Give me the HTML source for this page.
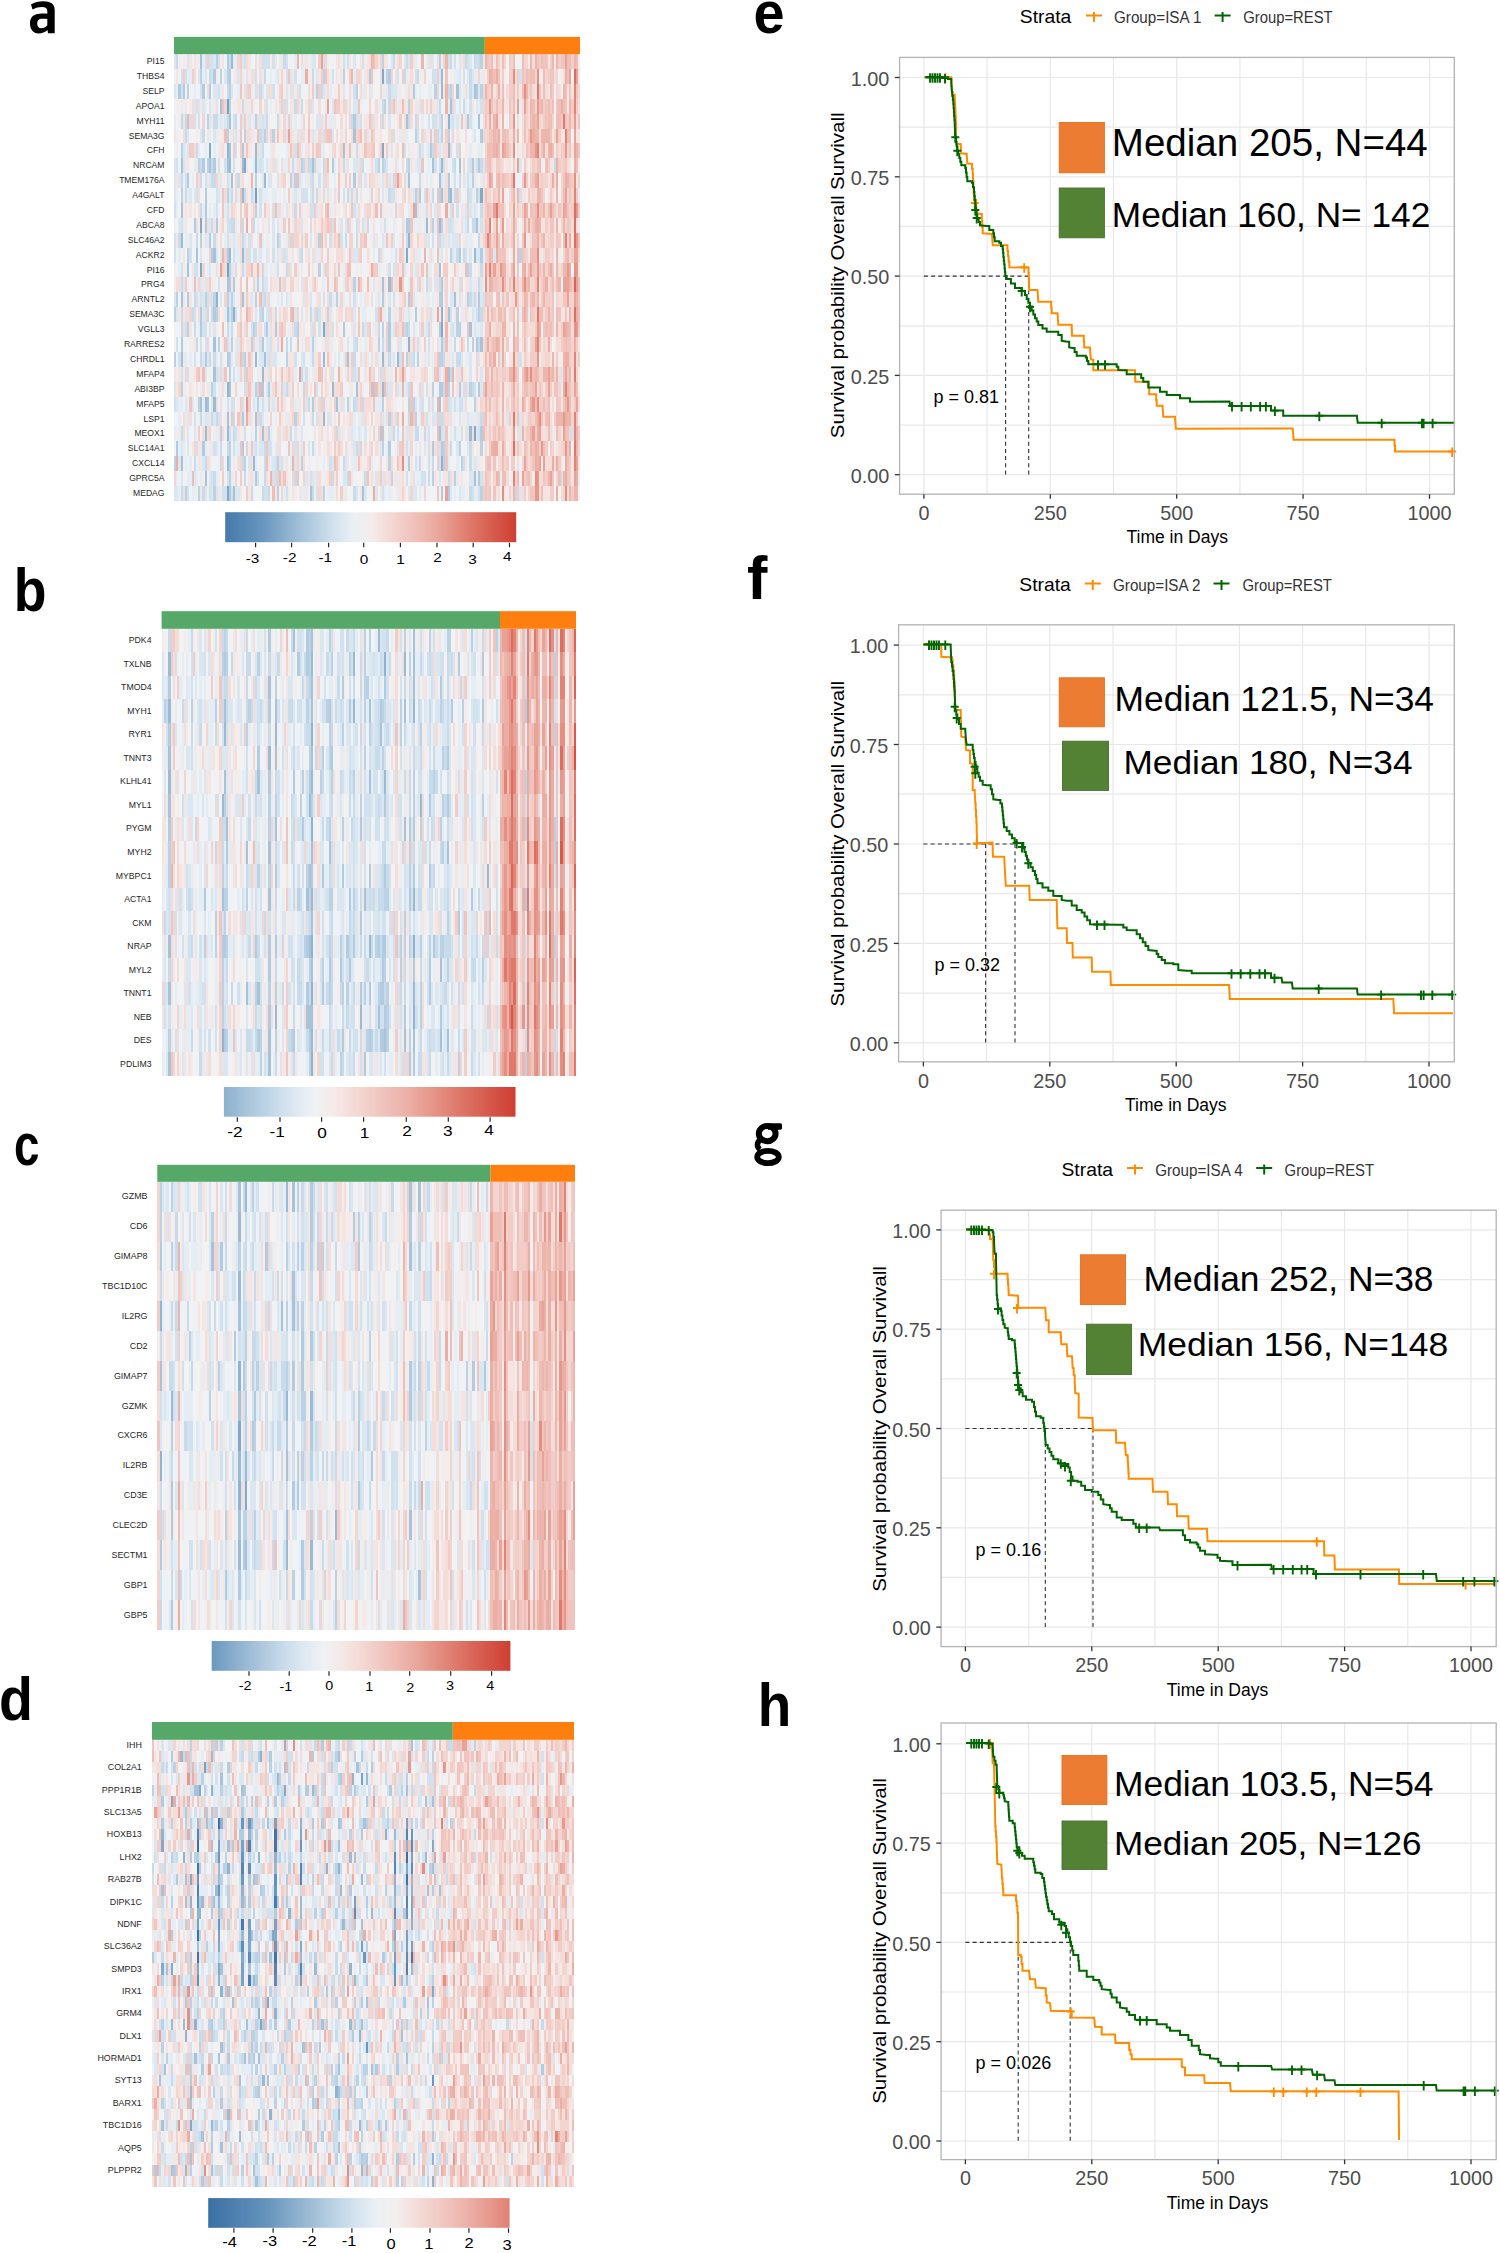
<!DOCTYPE html>
<html><head><meta charset="utf-8"><title>Figure</title>
<style>html,body{margin:0;padding:0;background:#fff;}body{width:1500px;height:2253px;overflow:hidden;}svg{display:block;}text{font-family:"Liberation Sans",sans-serif;}</style>
</head><body>
<svg width="1500" height="2253" viewBox="0 0 1500 2253" font-family="Liberation Sans, sans-serif">
<rect width="1500" height="2253" fill="#fff"/>
<g shape-rendering="crispEdges" fill="none" stroke-width="1">
<g transform="translate(174 54.1) scale(2.1887 14.8933)">
<path stroke="#77a1c5" d="M24 3.5h1M37 9.5h1M24 14.5h1"/>
<path stroke="#82a9ca" d="M95 1.5h1M16 6.5h1m78 0h1M32 7.5h1M140 9.5h1M12 11.5h1M106 13.5h1M12 14.5h1M68 18.5h1m53 0h1M137 25.5h1M24 29.5h1"/>
<path stroke="#90b3d0" d="M125 4.5h1M24 6.5h1M107 12.5h1M19 16.5h1M27 17.5h1m94 0h1M107 19.5h1M24 22.5h1M122 27.5h1"/>
<path stroke="#9bbbd5" d="M26 0.5h1M122 1.5h1M122 2.5h1M37 6.5h1m87 0h1M25 7.5h1m5 0h1m5 0h1m84 0h1M41 8.5h1M31 9.5h1m94 0h1M115 11.5h1m5 0h1M3 12.5h1M25 13.5h1m5 0h1m105 0h1M98 15.5h1M37 20.5h1m30 0h1m26 0h1m6 0h1M40 21.5h1M72 22.5h1m22 0h1M14 23.5h1m3 0h1M68 24.5h1M14 25.5h1m9 0h1m110 0h1M24 27.5h1m11 0h1"/>
<path stroke="#a6c3da" d="M12 0.5h1M129 2.5h1m7 0h1M21 3.5h1m104 0h1M25 4.5h1m80 0h1m32 0h1M82 5.5h1M25 6.5h1m51 0h1M3 7.5h1m12 0h1m7 0h1m38 0h1m54 0h1m11 0h1M26 8.5h1m80 0h1m13 0h1M122 9.5h1m2 0h1M3 10.5h1m106 0h1M138 11.5h1M10 13.5h1m7 0h1M6 14.5h1m114 0h1M24 15.5h1m70 0h1M3 16.5h1m27 0h1m96 0h1M24 17.5h1m100 0h1M135 18.5h1M18 19.5h1m121 0h1M3 20.5h1m37 0h1m37 0h1M18 21.5h1m106 0h1M25 22.5h1m57 0h1M12 23.5h1m2 0h1m58 0h1m46 0h1M24 24.5h1m12 0h1M40 25.5h1m80 0h1M3 27.5h1M14 28.5h1m122 0h1M27 29.5h1m34 0h1m23 0h1"/>
<path stroke="#b1cbe0" d="M24 0.5h1M18 1.5h1m6 0h1m63 0h1m8 0h1M2 2.5h1m1 0h1m8 0h1m2 0h1m92 0h1m28 0h1M6 4.5h1m75 0h1m51 0h1M140 5.5h1M31 6.5h1m85 0h1M13 7.5h1m4 0h1m53 0h1m63 0h1m2 0h1M6 8.5h1m75 0h1m42 0h1M14 9.5h1m97 0h1M14 10.5h1M9 11.5h1m4 0h1m4 0h1m86 0h2M16 12.5h1M17 13.5h1m6 0h1m105 0h1m9 0h1M25 15.5h1m1 0h1m94 0h1M6 16.5h1m88 0h1m11 0h1m13 0h2m16 0h1M12 17.5h1m5 0h1m91 0h1M12 18.5h1m29 0h1m3 0h1m30 0h1m20 0h1m22 0h1M3 19.5h1m36 0h1m57 0h1m23 0h1m15 0h1M14 20.5h1m9 0h1M40 22.5h1m2 0h1m47 0h1m29 0h2m7 0h1m8 0h1M63 23.5h1M31 24.5h1M95 25.5h1m44 0h1M1 26.5h1m11 0h1m17 0h1m66 0h1m19 0h1m3 0h1M107 27.5h1M37 28.5h1m101 0h1M25 29.5h1m96 0h1m2 0h1"/>
<path stroke="#bbd2e4" d="M19 0.5h1m75 0h1m25 0h1m18 0h1M12 1.5h1m8 0h1m2 0h1m43 0h1m8 0h1m19 0h1M6 2.5h1m18 0h1m39 0h1m17 0h1m35 0h1m6 0h1m13 0h1M25 3.5h1m70 0h1m10 0h1M15 4.5h1m21 0h1m84 0h1M24 5.5h1m7 0h1m8 0h1m3 0h1m64 0h1m11 0h1m2 0h1M3 6.5h1M11 7.5h1m3 0h1m42 0h1m34 0h1m1 0h1m11 0h1M37 8.5h1m15 0h1m1 0h1m80 0h1M3 9.5h1m20 0h1m85 0h1m10 0h1m16 0h1M37 10.5h1m8 0h1M118 11.5h1m3 0h1M12 12.5h1m34 0h1m18 0h1M6 13.5h1m119 0h1M25 14.5h1m40 0h1m67 0h1M38 15.5h1m43 0h1M1 16.5h1m12 0h1m3 0h1m5 0h1m1 0h1m10 0h1m36 0h1m59 0h1M0 17.5h1m18 0h1m6 0h1m13 0h1m57 0h1m30 0h1m9 0h1M6 18.5h1m29 0h1m19 0h1m38 0h1m10 0h1m22 0h2M20 19.5h1m5 0h1m8 0h1m27 0h1m29 0h1m42 0h1M0 20.5h1m24 0h1m6 0h1m18 0h1m54 0h1m4 0h1m9 0h2M25 21.5h1M3 22.5h1m13 0h1m19 0h1m80 0h1m6 0h1m9 0h1M11 23.5h1m26 0h1m40 0h1m15 0h1m11 0h1m1 0h1m27 0h1M55 24.5h1m42 0h1m11 0h1M21 25.5h1m15 0h1m5 0h1M25 26.5h1m69 0h1m27 0h1m6 0h1m9 0h1M0 27.5h1m24 0h1m6 0h1m14 0h1m10 0h1m39 0h1m24 0h1m7 0h1M25 28.5h1m92 0h1m9 0h1M5 29.5h1m5 0h1m6 0h1m28 0h1m20 0h1m71 0h1"/>
<path stroke="#c7dbea" d="M1 0.5h1m23 0h1m24 0h1m49 0h1m5 0h1m19 0h1m6 0h1m3 0h1m1 0h1M16 1.5h1m24 0h1m21 0h1m41 0h1m5 0h1m23 0h1M24 2.5h1m14 0h1m27 0h1m30 0h1m26 0h1m9 0h1M31 3.5h1m17 0h1m5 0h1m2 0h1m36 0h1m2 0h1m22 0h1m10 0h1M3 4.5h1m14 0h2m4 0h1m3 0h1m13 0h1m4 0h1m33 0h1m13 0h1m11 0h1m2 0h1M5 5.5h1m7 0h1m25 0h1m80 0h1M10 6.5h1m29 0h1m42 0h1m28 0h1m5 0h1M12 7.5h1m4 0h1m36 0h1m4 0h1m1 0h2m1 0h1m3 0h1m8 0h1m8 0h1m9 0h1m9 0h1m21 0h1m11 0h1M3 8.5h1m8 0h1m4 0h2m10 0h1m33 0h1m36 0h1m11 0h1m17 0h1M5 9.5h1m20 0h1m5 0h1m2 0h1m27 0h1m1 0h1m13 0h1m1 0h1m1 0h1m14 0h1m19 0h1m9 0h1m5 0h1M12 10.5h1m42 0h1m84 0h1M17 11.5h1m8 0h2m3 0h1m4 0h1m42 0h1m8 0h1m45 0h1m1 0h2M2 12.5h1m7 0h1m7 0h1m12 0h1m21 0h1m24 0h1m4 0h1m22 0h1m14 0h1m17 0h1M58 13.5h1m34 0h1m35 0h1m2 0h1M31 14.5h1m8 0h1m10 0h1m83 0h1m4 0h1M3 15.5h1m36 0h1m74 0h1m5 0h1m17 0h1M9 16.5h1m31 0h1m29 0h1m63 0h1m1 0h1M3 17.5h1m4 0h1m8 0h1m21 0h1m6 0h1m15 0h1m2 0h1m74 0h1M3 18.5h1m5 0h1m14 0h1m1 0h1m10 0h1m17 0h1m30 0h1m6 0h1m11 0h1m1 0h1m8 0h1M10 19.5h1m40 0h1m1 0h1m29 0h1m11 0h1m32 0h1m5 0h1m4 0h1M12 20.5h1m3 0h1m1 0h1m12 0h1m31 0h1m18 0h1m15 0h1m10 0h1m13 0h1m5 0h2M32 21.5h1m25 0h1m67 0h1M38 22.5h1m12 0h1m7 0h1m47 0h1m15 0h1m12 0h1M43 23.5h1m17 0h1m6 0h1m13 0h1m3 0h1M12 24.5h1m4 0h1m1 0h1m7 0h1m11 0h1m23 0h1m43 0h1m13 0h2m17 0h1M3 25.5h1m23 0h1m25 0h1m20 0h1m18 0h1m6 0h1m9 0h2m2 0h1M21 26.5h1m2 0h1m16 0h1m21 0h1m19 0h1m1 0h1m40 0h1m8 0h1M9 27.5h1m4 0h1m6 0h1m9 0h1m9 0h1m35 0h1m34 0h1m5 0h1m16 0h1M18 28.5h1m13 0h1m8 0h1m5 0h1m7 0h1m16 0h1m6 0h1m7 0h1m28 0h1m8 0h1M3 29.5h1m9 0h1m21 0h1m4 0h1m2 0h1m19 0h1m18 0h1m52 0h1"/>
<path stroke="#d1e1ee" d="M14 0.5h1m1 0h2m2 0h1m11 0h1m7 0h4m1 0h1m5 0h1m16 0h1m8 0h1m1 0h1m6 0h1m38 0h1m2 0h1m5 0h1m3 0h1M3 1.5h1m1 0h1m11 0h1m19 0h1m13 0h1m3 0h1m16 0h1m29 0h1m7 0h1m7 0h2m12 0h1M3 2.5h1m8 0h1m7 0h1m16 0h1m7 0h1m11 0h1m24 0h1M10 3.5h1m31 0h1m8 0h1m10 0h1m72 0h1m4 0h1M9 4.5h1m1 0h1m15 0h1m12 0h1m42 0h1m1 0h1m30 0h1m1 0h2m1 0h1m5 0h1m7 0h1M40 5.5h1m27 0h1m31 0h1m10 0h1M28 6.5h1m26 0h1m49 0h1m23 0h1M1 7.5h1m18 0h1m2 0h1m3 0h1m11 0h1m52 0h1m26 0h1m1 0h1m1 0h1m3 0h1m7 0h1m2 0h1M5 8.5h1m8 0h1m9 0h1m37 0h1m3 0h1m1 0h1m16 0h1m42 0h1m5 0h1M10 9.5h1m8 0h1m19 0h1m18 0h3m7 0h1m8 0h1m21 0h2m13 0h1m20 0h1m3 0h1M0 10.5h1m18 0h1m4 0h1m14 0h1m22 0h2m18 0h1m43 0h1m2 0h1M3 11.5h1m20 0h2m46 0h1m10 0h1m2 0h1m9 0h1m28 0h2m13 0h1M0 12.5h1m23 0h1m9 0h1m13 0h1m22 0h1m4 0h1m41 0h1M0 13.5h1m6 0h1m19 0h1m6 0h1m1 0h2m7 0h1m4 0h1m6 0h1m43 0h1m31 0h1M3 14.5h1m5 0h2m36 0h1m50 0h1m1 0h1M20 15.5h1m90 0h1m18 0h1M10 16.5h1m1 0h1m2 0h1m1 0h1m22 0h1m2 0h1m24 0h1m13 0h1m17 0h1m40 0h1M9 17.5h1m4 0h1m10 0h1m2 0h1m14 0h1m22 0h1m25 0h1m24 0h1m8 0h1m11 0h1M5 18.5h1m7 0h2m20 0h1m5 0h1m21 0h1m2 0h1m2 0h1m2 0h1m54 0h1M1 19.5h1m10 0h1m1 0h1m9 0h1m14 0h1m4 0h1m2 0h1m34 0h1m28 0h1m4 0h1m6 0h1M2 20.5h1m6 0h1m11 0h1m21 0h1m11 0h1m3 0h1m43 0h1m4 0h1M3 21.5h1m2 0h1m12 0h1m7 0h1m32 0h1m11 0h1m9 0h1m12 0h1M18 22.5h1m13 0h1m32 0h1m31 0h1m14 0h1m2 0h1m16 0h1m4 0h1M0 23.5h1m23 0h1m1 0h2m3 0h1m8 0h1m42 0h1m29 0h1m2 0h1m1 0h1m6 0h1m2 0h1m1 0h2M9 24.5h1m10 0h1m38 0h1m5 0h1m35 0h1m13 0h1M25 25.5h1m2 0h1m3 0h1m69 0h1m13 0h1m5 0h1m5 0h1m2 0h1m7 0h1M10 26.5h1m7 0h1m8 0h1m9 0h1m5 0h2m10 0h1m50 0h1m9 0h1m4 0h1M46 27.5h1m2 0h1m21 0h1m38 0h1m5 0h1m4 0h1m10 0h1M17 28.5h1m6 0h1m13 0h1m6 0h1m16 0h1m43 0h1m6 0h2m25 0h1M6 29.5h1m9 0h1m5 0h2m2 0h1m14 0h2m8 0h1m13 0h1m29 0h1m40 0h1m2 0h1"/>
<path stroke="#dae7f1" d="M0 0.5h1m5 0h1m11 0h1m12 0h1m5 0h1m25 0h2m17 0h1m16 0h1m5 0h1m1 0h1m8 0h1m1 0h1m11 0h1m4 0h1M11 1.5h1m2 0h1m8 0h1m5 0h1m17 0h1m5 0h1m11 0h1m55 0h1m8 0h1m3 0h1m1 0h1M0 2.5h1m17 0h2m6 0h1m5 0h1m7 0h1m1 0h1m8 0h1m1 0h1m14 0h1m8 0h1m11 0h1m9 0h3m28 0h1m5 0h1m2 0h1M9 3.5h1m3 0h1m2 0h1m55 0h1m9 0h2m28 0h1m7 0h1m7 0h1m1 0h1m7 0h1M4 4.5h1m11 0h1m4 0h1m1 0h1m7 0h1m2 0h1m4 0h1m1 0h1m11 0h1m11 0h2m24 0h1m6 0h1m27 0h1m2 0h1M6 5.5h1m5 0h1m5 0h1m8 0h1m23 0h1m5 0h1m5 0h1m8 0h1m15 0h1m32 0h1m15 0h1M4 6.5h1m1 0h1m32 0h1m73 0h1m2 0h1m4 0h1M0 7.5h1m3 0h1m33 0h1m1 0h1m1 0h1m3 0h1m32 0h1m2 0h3m12 0h1m13 0h2m21 0h1m6 0h1M0 8.5h1m1 0h1m13 0h1m4 0h1m18 0h1m2 0h2m2 0h1m9 0h1m29 0h1m7 0h1m2 0h1m23 0h1M0 9.5h1m6 0h1m1 0h1m10 0h1m4 0h1m10 0h1m18 0h1m6 0h1m32 0h1m13 0h1m20 0h1M51 10.5h1m13 0h1m53 0h1m13 0h1m1 0h1m1 0h1M2 11.5h1m13 0h1m26 0h1m1 0h1m1 0h1m10 0h1m17 0h1m50 0h1m5 0h1M7 12.5h1m6 0h1m12 0h1m4 0h1m12 0h1m16 0h1m28 0h1m3 0h1m4 0h1m14 0h2m5 0h2m1 0h1m1 0h3M12 13.5h1m6 0h1m1 0h1m10 0h1m6 0h1m2 0h1m4 0h1m3 0h1m12 0h1m17 0h2m38 0h1m4 0h1m7 0h1m2 0h2M16 14.5h1m2 0h1m6 0h1m26 0h1m14 0h1m36 0h1m4 0h1M4 15.5h1m7 0h1m1 0h1m26 0h2m6 0h1m8 0h1m32 0h1m24 0h1m2 0h1m15 0h1m4 0h1M0 16.5h1m12 0h1m7 0h1m3 0h1m1 0h1m7 0h1m13 0h1m1 0h1m7 0h1m2 0h1m30 0h1m4 0h1m10 0h1m16 0h2m2 0h1m5 0h1m3 0h1M1 17.5h1m4 0h1m6 0h1m23 0h1m4 0h1m12 0h1m2 0h1m10 0h1m1 0h1m10 0h1m24 0h1m28 0h1M16 18.5h1m1 0h1m63 0h1m4 0h1m12 0h1m8 0h1m2 0h1m2 0h1m10 0h1m10 0h1m2 0h1M29 19.5h1m12 0h2m35 0h1m23 0h1M13 20.5h1m1 0h1m12 0h1m10 0h2m1 0h1m2 0h2m11 0h1m16 0h1m14 0h1m9 0h1m15 0h1m10 0h1m3 0h1m3 0h1m3 0h1M14 21.5h1m5 0h1m1 0h1m20 0h1m39 0h1m9 0h1m27 0h1m8 0h1m4 0h1m4 0h1M0 22.5h1m41 0h1m7 0h1m47 0h1m3 0h1m3 0h1m27 0h1m5 0h1M1 23.5h1m3 0h1m2 0h1m8 0h1m18 0h1m8 0h1m14 0h1m16 0h1m32 0h1m1 0h1m13 0h1M6 24.5h1m7 0h2m2 0h1m21 0h1m30 0h1m14 0h1m8 0h1m22 0h2m6 0h1m3 0h1m3 0h1m4 0h1M6 25.5h1m2 0h1m45 0h1m2 0h1m22 0h1m2 0h1m2 0h1m10 0h1m7 0h1m16 0h1m10 0h1m3 0h1M3 26.5h1m2 0h1m12 0h1m16 0h1m2 0h2m6 0h1m10 0h1m2 0h1m20 0h1m11 0h1m7 0h1m11 0h1m14 0h1m4 0h1M2 27.5h1m10 0h1m20 0h1m10 0h1m9 0h1m16 0h1m5 0h1m58 0h1M3 28.5h1m5 0h1m6 0h1m43 0h1m2 0h1m1 0h1m11 0h2m13 0h1m2 0h1m2 0h1m10 0h1m11 0h1m13 0h2M0 29.5h2m12 0h1m2 0h1m1 0h1m8 0h2m53 0h1m3 0h1m4 0h1m14 0h1m1 0h2m15 0h1m3 0h1"/>
<path stroke="#e5edf4" d="M13 0.5h1m13 0h2m19 0h1m6 0h1m3 0h1m2 0h1m15 0h1m31 0h1m4 0h1m6 0h1M6 1.5h2m5 0h1m17 0h1m2 0h1m5 0h1m3 0h1m1 0h1m11 0h2m22 0h1m13 0h1m9 0h1m21 0h2m7 0h2m1 0h1M1 2.5h1m7 0h1m11 0h1m7 0h1m5 0h1m19 0h1m8 0h1m6 0h1m14 0h1m8 0h2m5 0h1m3 0h1m3 0h1m1 0h1m3 0h2m14 0h1m1 0h1M3 3.5h1m8 0h1m1 0h1m3 0h1m15 0h1m9 0h1m34 0h1m13 0h1m8 0h1m8 0h1m4 0h1m8 0h1m7 0h1m5 0h1M0 4.5h1m19 0h1m1 0h1m13 0h1m14 0h1m3 0h1m2 0h1m9 0h1m2 0h2m40 0h1m14 0h1m1 0h1m1 0h1m3 0h1M16 5.5h1m2 0h1m5 0h1m3 0h1m6 0h1m6 0h1m11 0h1m9 0h1m37 0h1m2 0h1m8 0h2m1 0h1m17 0h1M5 6.5h1m5 0h1m2 0h1m3 0h1m1 0h1m23 0h1m6 0h1m6 0h1m8 0h2m12 0h1m16 0h1m8 0h1m7 0h1m6 0h1m12 0h1m3 0h2M9 7.5h1m26 0h1m6 0h1m3 0h1m2 0h2m3 0h1m10 0h1m6 0h1m17 0h1m10 0h1m7 0h1m5 0h1M8 8.5h1m16 0h1m32 0h1m1 0h1m12 0h1m19 0h1m12 0h1m8 0h1m1 0h1m5 0h1m9 0h1m1 0h1m1 0h1m2 0h1M1 9.5h1m4 0h1m14 0h1m7 0h1m10 0h3m2 0h2m3 0h1m3 0h1m1 0h1m14 0h1m2 0h1m14 0h1m7 0h1m19 0h1m9 0h1m8 0h1M1 10.5h1m11 0h1m2 0h1m1 0h1m4 0h1m1 0h1m23 0h1m8 0h1m12 0h1m11 0h1m11 0h1m3 0h1m2 0h1m4 0h1m4 0h3m1 0h1m15 0h1m3 0h1m1 0h1M4 11.5h1m33 0h1m10 0h1m4 0h1m39 0h1m5 0h1m4 0h1m3 0h1m1 0h2m1 0h1m4 0h1m8 0h1m3 0h1m6 0h1M5 12.5h1m9 0h1m7 0h1m2 0h1m1 0h1m9 0h1m1 0h1m1 0h1m8 0h1m5 0h1m38 0h1m29 0h1m5 0h1m1 0h2M2 13.5h1m25 0h2m18 0h1m16 0h1m13 0h1m11 0h1m3 0h1m3 0h1m5 0h1m5 0h2m3 0h1m1 0h1m2 0h1m6 0h1m12 0h1M2 14.5h1m12 0h1m11 0h1m4 0h1m9 0h1m1 0h1m1 0h1m11 0h1m15 0h1m2 0h1m15 0h1m15 0h1m6 0h2M8 15.5h1m1 0h1m6 0h1m19 0h1m9 0h1m20 0h1m8 0h1m5 0h1m16 0h1m6 0h1m28 0h2M32 16.5h1m14 0h1m4 0h1m19 0h1m4 0h1m5 0h1m1 0h1m6 0h1m22 0h2m1 0h1M23 17.5h1m39 0h1m22 0h2m8 0h1m3 0h1m1 0h1m2 0h2m11 0h1m13 0h1m4 0h1M11 18.5h1m13 0h1m5 0h1m11 0h1m9 0h1m37 0h1m7 0h1m14 0h1m13 0h1m9 0h2M25 19.5h1m11 0h1m20 0h1m3 0h1m1 0h1m3 0h1m2 0h1m15 0h1m8 0h1m24 0h1m4 0h1M5 20.5h1m1 0h1m11 0h1m6 0h1m35 0h1m10 0h1m3 0h1m8 0h1m6 0h1m3 0h1m17 0h1m2 0h1m7 0h1m7 0h1M4 21.5h1m24 0h1m8 0h1m16 0h1m3 0h1m3 0h1m4 0h1m9 0h1m19 0h1m19 0h1m9 0h1M12 22.5h1m3 0h1m3 0h2m14 0h1m7 0h1m3 0h1m4 0h1m26 0h1m22 0h1m1 0h1M2 23.5h2m2 0h1m6 0h1m23 0h1m1 0h1m1 0h1m4 0h1m8 0h2m8 0h1m9 0h1m16 0h3m32 0h1m1 0h1m2 0h1M2 24.5h1m10 0h1m11 0h1m6 0h1m13 0h1m4 0h1m30 0h1m1 0h1m11 0h1m15 0h1m3 0h1m15 0h1m2 0h3M0 25.5h1m1 0h1m16 0h1m6 0h1m8 0h1m8 0h1m4 0h1m27 0h1m4 0h1m2 0h1m19 0h1m3 0h1m16 0h1m2 0h1M2 26.5h1m1 0h1m9 0h1m1 0h1m11 0h2m4 0h1m3 0h1m14 0h1m3 0h1m6 0h1m14 0h1m17 0h1m9 0h1m2 0h1M5 27.5h1m1 0h1m4 0h1m14 0h1m9 0h1m6 0h1m5 0h1m2 0h1m14 0h1m12 0h2m7 0h1m15 0h1m4 0h1m13 0h1m3 0h1m6 0h1m2 0h1M1 28.5h1m4 0h2m2 0h1m1 0h1m6 0h1m6 0h1m9 0h1m63 0h1m1 0h1m8 0h2m16 0h1M2 29.5h1m5 0h2m11 0h1m28 0h1m7 0h2m10 0h3m4 0h1m18 0h1m1 0h1m3 0h1m9 0h1m15 0h1m2 0h2m4 0h2"/>
<path stroke="#eef1f6" d="M3 0.5h1m4 0h1m44 0h1m3 0h1m14 0h1m10 0h1m14 0h1m12 0h2m6 0h1m9 0h1m6 0h1M0 1.5h1m1 0h1m17 0h1m5 0h1m5 0h1m5 0h1m4 0h1m1 0h1m10 0h1m16 0h1m4 0h1m7 0h1m5 0h1m7 0h1m14 0h3m7 0h1m1 0h1m3 0h1M8 2.5h1m2 0h1m2 0h1m12 0h2m12 0h1m4 0h1m11 0h2m12 0h1m6 0h1m11 0h1m12 0h1m8 0h2m3 0h1m2 0h1M0 3.5h1m19 0h1m16 0h1m7 0h1m6 0h1m11 0h2m1 0h2m2 0h1m14 0h3m33 0h1m6 0h1M1 4.5h1m10 0h1m1 0h1m11 0h1m2 0h1m16 0h1m9 0h1m5 0h1m1 0h1m12 0h1m1 0h1m17 0h1m11 0h1m2 0h1m1 0h2m21 0h2m1 0h1M2 5.5h1m4 0h1m3 0h1m5 0h1m13 0h1m75 0h1m1 0h1m2 0h1m15 0h1m3 0h1m1 0h1m4 0h1M0 6.5h1m1 0h1m10 0h1m1 0h1m3 0h1m6 0h1m14 0h1m4 0h2m2 0h1m8 0h1m2 0h1m11 0h1m25 0h1m9 0h1m3 0h1m12 0h1m8 0h1M2 7.5h1m4 0h1m6 0h1m13 0h1m5 0h2m5 0h1m32 0h1m13 0h1m9 0h2m15 0h1m1 0h1m7 0h2M7 8.5h1m5 0h1m18 0h1m3 0h1m1 0h1m20 0h1m5 0h1m5 0h1m7 0h1m1 0h1m26 0h1m2 0h1m2 0h1m1 0h1m12 0h1m1 0h1M2 9.5h1m5 0h1m3 0h1m3 0h3m8 0h1m15 0h2m2 0h1m3 0h1m20 0h1m3 0h1m7 0h1m1 0h1m1 0h1m2 0h1m11 0h1m2 0h1m6 0h1m17 0h1M15 10.5h1m4 0h2m9 0h1m8 0h1m3 0h1m41 0h1m6 0h1m6 0h1m4 0h1m12 0h1m3 0h2m4 0h1m1 0h1m8 0h1M6 11.5h1m1 0h1m20 0h1m2 0h1m6 0h1m23 0h1m13 0h1m4 0h1m2 0h1m6 0h1m5 0h1m17 0h1m13 0h1M4 12.5h1m3 0h1m27 0h1m12 0h1m11 0h1m1 0h1m13 0h1m4 0h1m5 0h1m4 0h2m6 0h2m2 0h1m13 0h1m11 0h1m6 0h1M1 13.5h1m1 0h1m4 0h2m3 0h1m6 0h1m14 0h1m4 0h2m2 0h1m17 0h1m5 0h2m16 0h2m4 0h1m3 0h1m1 0h1m1 0h1m12 0h1M1 14.5h1m5 0h1m3 0h1m2 0h1m2 0h1m25 0h1m40 0h1m1 0h2m7 0h2m10 0h1m22 0h1M7 15.5h1m11 0h1m15 0h1m7 0h1m17 0h1m7 0h1m20 0h1m23 0h1m3 0h1m6 0h1m6 0h1M2 16.5h1m2 0h1m2 0h1m19 0h1m16 0h1m2 0h1m6 0h1m7 0h2m13 0h2m1 0h1m4 0h1m10 0h1m4 0h1m8 0h2m12 0h1m6 0h1M29 17.5h1m1 0h1m15 0h1m4 0h1m24 0h1m11 0h1m7 0h1m11 0h1m1 0h1m15 0h1m7 0h1M2 18.5h1m7 0h1m16 0h1m6 0h1m5 0h1m19 0h1m17 0h1m11 0h1m5 0h1m11 0h1m2 0h1m20 0h2M4 19.5h2m10 0h1m2 0h1m21 0h1m8 0h1m1 0h1m2 0h1m1 0h1m22 0h1m19 0h2m15 0h1M1 20.5h1m4 0h1m1 0h1m2 0h1m8 0h1m6 0h1m8 0h1m1 0h1m8 0h2m1 0h1m6 0h1m2 0h1m6 0h1m8 0h1m6 0h1m17 0h1m3 0h1m4 0h1m1 0h1m19 0h1m3 0h2M26 21.5h1m1 0h1m7 0h1m10 0h1m8 0h1m20 0h1m8 0h1m13 0h1m5 0h2m14 0h1m14 0h1M6 22.5h1m12 0h1m6 0h1m2 0h3m34 0h1m10 0h1m4 0h1m4 0h2m11 0h1m8 0h1m4 0h1m4 0h1M4 23.5h1m15 0h1m1 0h2m11 0h1m22 0h1m13 0h1m8 0h1m20 0h1m32 0h1M1 24.5h1m1 0h1m4 0h1m1 0h1m11 0h1m5 0h1m12 0h1m1 0h1m14 0h1m10 0h1m2 0h1m1 0h1m30 0h1m5 0h1m17 0h1M7 25.5h1m4 0h1m4 0h1m18 0h1m1 0h1m6 0h1m8 0h1m4 0h2m2 0h1m7 0h1m6 0h1m4 0h1m2 0h1m1 0h1m12 0h1m1 0h1m8 0h1m4 0h1m1 0h1m5 0h1M5 26.5h1m14 0h1m1 0h1m3 0h1m5 0h1m12 0h1m4 0h2m10 0h1m9 0h1m7 0h1m7 0h1m7 0h1m3 0h1m8 0h1m1 0h1m1 0h1m13 0h1m4 0h1M6 27.5h1m10 0h3m3 0h1m4 0h1m9 0h2m12 0h1m9 0h2m2 0h2m23 0h2m2 0h1m19 0h1m10 0h2m2 0h1m3 0h1M2 28.5h1m2 0h1m9 0h1m5 0h1m1 0h1m5 0h1m1 0h1m1 0h1m6 0h1m12 0h1m22 0h1m5 0h2m23 0h1m9 0h1m4 0h1m9 0h1M7 29.5h1m24 0h1m3 0h1m11 0h1m4 0h1m7 0h1m17 0h1m4 0h1m3 0h2m7 0h1m2 0h1m12 0h1m1 0h2m1 0h1m8 0h1m1 0h1m3 0h1"/>
<path stroke="#f3f2f2" d="M23 0.5h1m11 0h2m10 0h1m4 0h1m1 0h1m10 0h1m5 0h1m1 0h1m7 0h1m2 0h1m19 0h1m9 0h1M10 1.5h1m4 0h1m6 0h1m19 0h1m14 0h1m35 0h1m9 0h1m19 0h1m9 0h1M5 2.5h1m1 0h1m2 0h1m6 0h1m5 0h1m36 0h1m17 0h1m5 0h1m3 0h1m3 0h2m17 0h1m3 0h1m12 0h1M6 3.5h1m8 0h1m10 0h1m11 0h1m1 0h1m2 0h1m15 0h1m21 0h1m8 0h2m31 0h1m7 0h1m2 0h1m2 0h1M44 4.5h2m3 0h1m10 0h1m13 0h2m10 0h1m6 0h1m5 0h1m1 0h1m2 0h1m12 0h1m5 0h1M3 5.5h1m4 0h2m4 0h1m58 0h1m1 0h1m3 0h1m15 0h3m10 0h1m22 0h1m3 0h1m2 0h1M12 6.5h1m4 0h1m11 0h1m12 0h2m4 0h2m19 0h2m21 0h1m10 0h1m2 0h1m21 0h1m2 0h2m4 0h1m3 0h1M8 7.5h1m12 0h2m3 0h1m2 0h1m18 0h1m18 0h1m3 0h1m8 0h2m5 0h1m6 0h1m8 0h1m1 0h1m8 0h1m5 0h1m8 0h1m1 0h1m1 0h1M9 8.5h1m17 0h1m5 0h1m5 0h1m2 0h1m2 0h2m4 0h1m20 0h1m1 0h1m29 0h1m4 0h2m8 0h1m6 0h1m12 0h1M13 9.5h1m1 0h1m33 0h1m11 0h1m16 0h1m8 0h1m6 0h1m24 0h1m12 0h1M2 10.5h1m5 0h1m1 0h1m6 0h1m11 0h1m38 0h1m7 0h1m2 0h1m26 0h1M1 11.5h1m5 0h1m26 0h1m2 0h1m6 0h1m1 0h1m4 0h1m9 0h1m12 0h1m14 0h1m3 0h1m5 0h1m2 0h2m31 0h1M9 12.5h1m1 0h1m5 0h1m2 0h1m1 0h1m14 0h1m3 0h1m2 0h1m25 0h1m8 0h1m37 0h1m19 0h1M5 13.5h1m5 0h1m2 0h1m11 0h1m28 0h1m3 0h1m13 0h1m4 0h1m11 0h1m6 0h1m9 0h1m7 0h1m3 0h1m3 0h1m1 0h1m5 0h1m4 0h1M29 14.5h1m18 0h2m4 0h1m4 0h2m1 0h1m1 0h1m2 0h1m13 0h2m16 0h1m14 0h1m3 0h1m3 0h1m2 0h2m9 0h1m1 0h1M21 15.5h1m9 0h2m1 0h1m22 0h1m8 0h1m8 0h2m10 0h1m17 0h2M20 16.5h1m1 0h1m23 0h1m3 0h1m3 0h1m1 0h2m9 0h1m1 0h1m14 0h1m4 0h1m1 0h1m7 0h1m17 0h1M16 17.5h1m4 0h1m16 0h1m2 0h1m15 0h1m1 0h1m13 0h1m9 0h1m1 0h1m2 0h1m1 0h2m31 0h1m6 0h1M0 18.5h2m6 0h1m6 0h1m4 0h2m1 0h1m4 0h1m22 0h1m9 0h1m3 0h1m7 0h1m2 0h1m2 0h2m13 0h1m23 0h2M0 19.5h1m1 0h1m3 0h1m4 0h1m1 0h1m3 0h1m3 0h1m5 0h1m26 0h1m11 0h1m6 0h2m3 0h1m2 0h1m2 0h1m1 0h1m7 0h1m9 0h2m7 0h1m1 0h1m3 0h1m7 0h1m1 0h1m3 0h1m1 0h1M10 20.5h1m12 0h1m25 0h1m6 0h1m4 0h1m7 0h1m2 0h1m1 0h1m9 0h1m4 0h1M15 21.5h1m1 0h1m6 0h1m12 0h1m7 0h1m16 0h1m7 0h1m2 0h2m10 0h1m6 0h1m23 0h2m18 0h1M9 22.5h1m1 0h1m2 0h1m12 0h1m13 0h1m13 0h1m1 0h1m5 0h1m14 0h2m30 0h1m15 0h1m1 0h1m9 0h1M9 23.5h1m6 0h1m11 0h1m22 0h2m25 0h1m17 0h1m6 0h1m1 0h2m4 0h1m2 0h2m3 0h1m2 0h1m11 0h1m1 0h1M0 24.5h1m35 0h1m8 0h1m1 0h1m12 0h2m2 0h1m11 0h1m6 0h1m5 0h1m1 0h1M8 25.5h1m24 0h2m11 0h1m14 0h2m2 0h1m24 0h1m6 0h1m34 0h1M0 26.5h1m6 0h1m15 0h1m25 0h1m10 0h1m4 0h1m1 0h1m9 0h1m13 0h1m7 0h1m28 0h1m2 0h1m1 0h1m3 0h1M4 27.5h1m3 0h1m17 0h1m6 0h1m6 0h1m19 0h1m3 0h1m4 0h1m6 0h1m3 0h1m15 0h1m12 0h1m4 0h1m4 0h1m8 0h1m12 0h1M4 28.5h1m6 0h1m27 0h1m17 0h2m16 0h1m8 0h2m29 0h1m18 0h1M31 29.5h1m5 0h3m4 0h1m11 0h1m12 0h1m5 0h1m4 0h2m11 0h1m12 0h1m4 0h1m5 0h1m1 0h1m1 0h1m1 0h1"/>
<path stroke="#f4ecea" d="M2 0.5h1m1 0h2m4 0h2m9 0h1m16 0h1m5 0h1m16 0h1m8 0h1m5 0h1m10 0h1m13 0h1m25 0h1M19 1.5h1m7 0h1m20 0h1m1 0h1m10 0h2m1 0h1m6 0h1m3 0h1m3 0h1m11 0h1m15 0h1m1 0h1m2 0h2m12 0h1M31 2.5h1m4 0h1m10 0h1m2 0h1m1 0h1m9 0h1m10 0h2m1 0h1m4 0h1m21 0h1m1 0h1m25 0h1M1 3.5h2m1 0h1m2 0h1m9 0h1m9 0h2m7 0h1m10 0h1m37 0h1m8 0h1m2 0h1m11 0h1m4 0h1M2 4.5h1m7 0h1m24 0h1m7 0h1m10 0h1m2 0h1m5 0h1m6 0h1m29 0h1M1 5.5h1m8 0h1m9 0h2m15 0h1m10 0h1m11 0h1m16 0h1m2 0h1m5 0h1m5 0h2m7 0h2m20 0h1m2 0h1m3 0h1M1 6.5h1m21 0h1m11 0h2m34 0h1m10 0h1m2 0h1m10 0h1m11 0h2m23 0h2m3 0h1M19 7.5h1m33 0h1m35 0h1m10 0h1m8 0h1M4 8.5h1m17 0h2m10 0h1m17 0h1m11 0h1m2 0h1m8 0h2m5 0h1m2 0h1m1 0h1m5 0h1m18 0h1m4 0h1m1 0h1m6 0h1m10 0h1M4 9.5h1m29 0h1m3 0h1m9 0h1m4 0h1m3 0h1m6 0h1m2 0h1m1 0h1m26 0h1m5 0h1m30 0h1m3 0h1M4 10.5h1m1 0h1m27 0h1m3 0h1m11 0h1m2 0h1m2 0h1m2 0h2m11 0h1m1 0h2m9 0h1m4 0h1m5 0h3m26 0h1M0 11.5h1m10 0h1m1 0h1m6 0h1m2 0h1m17 0h2m5 0h1m4 0h1m5 0h2m4 0h1m15 0h1m8 0h1m4 0h1m1 0h1m3 0h1m8 0h1m2 0h1m9 0h1m5 0h1M6 12.5h1m6 0h1m19 0h1m9 0h1m2 0h1m3 0h1m33 0h1m4 0h2m12 0h1m5 0h2m25 0h1M15 13.5h1m22 0h1m7 0h1m5 0h2m17 0h2m16 0h1m12 0h1m31 0h1M0 14.5h1m3 0h2m12 0h1m1 0h1m24 0h1m4 0h1m6 0h1m7 0h1m5 0h2m3 0h1m6 0h1m1 0h1m2 0h1m5 0h1m11 0h1m20 0h1m3 0h2m4 0h1M0 15.5h1m5 0h1m11 0h1m3 0h2m4 0h2m9 0h1m11 0h2m2 0h1m6 0h1m4 0h1m3 0h2m13 0h1m2 0h1m2 0h1m4 0h1m12 0h1m17 0h2m11 0h1M29 16.5h1m6 0h1m1 0h1m5 0h1m13 0h1m14 0h1m1 0h1m18 0h1m6 0h1m4 0h1m3 0h1m2 0h2m4 0h1m3 0h1m5 0h1M10 17.5h1m11 0h1m9 0h1m3 0h1m12 0h1m11 0h1m6 0h1m3 0h1m26 0h1m8 0h1m3 0h1m1 0h1m4 0h1m1 0h1M17 18.5h1m1 0h1m32 0h1m5 0h1m8 0h1m7 0h1m7 0h1m1 0h1m24 0h1m9 0h1m2 0h1m1 0h1m5 0h1m4 0h1m4 0h1M7 19.5h2m23 0h1m13 0h1m12 0h1m5 0h1m1 0h1m4 0h1m4 0h1m7 0h1m2 0h1m2 0h2m6 0h1m6 0h1m18 0h1m11 0h1M17 20.5h1m4 0h1m68 0h1m2 0h1m18 0h1m3 0h1m10 0h1m4 0h1m6 0h1M1 21.5h1m5 0h2m7 0h1m22 0h1m21 0h1m26 0h1m13 0h1m7 0h3m20 0h2m4 0h1m1 0h1M4 22.5h2m2 0h1m14 0h1m34 0h1m2 0h1m6 0h1m2 0h1m14 0h1m24 0h1m4 0h2m2 0h1m10 0h1M10 23.5h1m14 0h1m3 0h1m2 0h1m9 0h1m19 0h1m7 0h1m29 0h2m37 0h1M11 24.5h1m11 0h1m18 0h1m7 0h1m27 0h1m24 0h1m2 0h1m10 0h1m9 0h2m2 0h1m1 0h1M1 25.5h1m3 0h1m4 0h1m7 0h1m4 0h1m6 0h2m24 0h2m10 0h2m22 0h1m3 0h1m16 0h1m4 0h1m8 0h1m2 0h1M15 26.5h1m52 0h2m16 0h1m14 0h1m13 0h1m22 0h2m1 0h1M10 27.5h1m9 0h1m40 0h1m3 0h1m20 0h2m5 0h1m6 0h2m3 0h1m7 0h1m3 0h1m22 0h1M13 28.5h1m6 0h1m6 0h1m15 0h1m8 0h1m14 0h3m16 0h1m2 0h1m1 0h1m13 0h1m4 0h1m9 0h1m9 0h1m2 0h1m4 0h1M10 29.5h1m4 0h1m36 0h1m2 0h1m8 0h1m8 0h1m16 0h1m8 0h1m1 0h1m32 0h1"/>
<path stroke="#f5e5e2" d="M7 0.5h1m1 0h1m12 0h1m11 0h1m11 0h1m2 0h1m10 0h1m13 0h1m5 0h1m4 0h1m2 0h1m4 0h1m2 0h2m11 0h1m21 0h1m9 0h1M1 1.5h1m26 0h1m25 0h1m11 0h1m7 0h1m1 0h1m10 0h1m53 0h1M22 2.5h1m46 0h1m17 0h1m2 0h1m6 0h1m10 0h1m14 0h1M5 3.5h1m23 0h2m1 0h2m12 0h1m6 0h2m2 0h1m2 0h1m8 0h1m6 0h1m26 0h1m1 0h2m3 0h1m7 0h2m16 0h1M17 4.5h1m15 0h1m14 0h1m24 0h1m13 0h2m3 0h1m3 0h1m5 0h1m17 0h1m3 0h1M0 5.5h1m14 0h1m6 0h1m3 0h1m8 0h1m10 0h1m2 0h1m4 0h1m7 0h1m1 0h1m11 0h1m12 0h1m4 0h1m9 0h2m23 0h1M21 6.5h1m10 0h1m1 0h1m10 0h1m6 0h1m7 0h1m3 0h1m10 0h1m2 0h2m4 0h1m1 0h1m6 0h1m7 0h1m9 0h1M5 7.5h2m3 0h1m19 0h1m2 0h1m10 0h1m20 0h1m10 0h1m1 0h1m29 0h1m15 0h1m12 0h1M1 8.5h1m13 0h1m4 0h1m9 0h1m17 0h1m12 0h1m30 0h1m3 0h1m2 0h1M33 9.5h1m32 0h1m13 0h1m1 0h1m2 0h1m6 0h1m8 0h1m6 0h1M5 10.5h1m1 0h1m1 0h1m18 0h1m6 0h1m6 0h2m8 0h1m8 0h1m4 0h1m6 0h1m3 0h1m2 0h1m50 0h1M5 11.5h1m12 0h1m2 0h1m6 0h1m11 0h1m25 0h1m8 0h1m11 0h1m3 0h1M1 12.5h1m17 0h1m5 0h1m3 0h1m29 0h1m4 0h1m3 0h1m3 0h1m19 0h1m5 0h1m13 0h2m10 0h1m8 0h1m6 0h1M4 13.5h1m38 0h1m10 0h1m1 0h1m3 0h1m5 0h1m10 0h1m30 0h1m1 0h1m13 0h1M8 14.5h1m21 0h1m5 0h2m1 0h1m1 0h1m14 0h1m6 0h1m25 0h1m7 0h1m5 0h1m8 0h1m16 0h1m9 0h1m1 0h1M13 15.5h1m12 0h1m18 0h2m9 0h1m8 0h1m14 0h1m12 0h2m1 0h1m5 0h1m6 0h1m3 0h1m9 0h1m2 0h1m6 0h2m3 0h1M4 16.5h1m2 0h1m3 0h1m22 0h1m18 0h1m7 0h1m3 0h1m21 0h2m7 0h1m6 0h1m16 0h1m10 0h1m1 0h1m4 0h1M2 17.5h1m1 0h1m40 0h1m14 0h1m6 0h1m6 0h1m20 0h1m5 0h1m26 0h1m2 0h1m2 0h1M7 18.5h1m30 0h1m6 0h1m1 0h1m9 0h1m1 0h1m21 0h1m10 0h1M9 19.5h1m12 0h1m5 0h1m4 0h2m3 0h1m6 0h1m2 0h1m26 0h1m32 0h1m1 0h1m1 0h1m5 0h1m11 0h1M4 20.5h1m28 0h1m18 0h3m9 0h2m5 0h1m8 0h1m7 0h1m7 0h1m2 0h1m14 0h1m9 0h2M0 21.5h1m1 0h1m6 0h1m2 0h1m18 0h1m9 0h2m5 0h1m1 0h1m13 0h2m10 0h1m3 0h1m6 0h1m9 0h1m1 0h1m8 0h2m22 0h1M1 22.5h1m5 0h1m2 0h1m4 0h1m19 0h1m11 0h1m14 0h1m7 0h1m10 0h1m2 0h1m44 0h1M44 23.5h1m3 0h1m1 0h1m6 0h1m11 0h1m1 0h1m8 0h1m9 0h1m8 0h1m4 0h1m12 0h1m20 0h1M5 24.5h1m10 0h1m18 0h1m13 0h1m2 0h2m3 0h1m4 0h1m4 0h1m5 0h1m3 0h1m1 0h1m5 0h1m2 0h1m3 0h2m6 0h1m37 0h1M20 25.5h1m8 0h1m22 0h1m11 0h1m1 0h1m3 0h1m1 0h1m3 0h1m2 0h2m8 0h1m25 0h1M8 26.5h1m2 0h2m4 0h1m28 0h1m19 0h1m4 0h1m2 0h1m6 0h1m11 0h1m11 0h1m6 0h1m4 0h1m7 0h1m10 0h1M11 27.5h1m4 0h1m26 0h1m7 0h1m5 0h1m12 0h1m4 0h1m3 0h1m3 0h1m1 0h1m11 0h1m10 0h1m24 0h1m4 0h1M34 28.5h1m16 0h1m9 0h1m2 0h1m5 0h1m2 0h1m7 0h1m15 0h1m3 0h1m1 0h1m4 0h1m10 0h1m3 0h2m2 0h1m3 0h1M12 29.5h1m7 0h1m9 0h1m3 0h1m11 0h1m7 0h1m2 0h1m2 0h1m17 0h1m6 0h1m8 0h1m8 0h1m1 0h1"/>
<path stroke="#f4dcd9" d="M33 0.5h1m5 0h1m18 0h1m16 0h1m13 0h1m12 0h1m14 0h1m2 0h1m11 0h1M9 1.5h1m23 0h1m1 0h2m2 0h1m30 0h1m14 0h1m2 0h1m5 0h1m6 0h1m6 0h1M15 2.5h1m22 0h1m4 0h2m9 0h1m1 0h1m4 0h1m8 0h1m9 0h1m4 0h1m21 0h1m25 0h1M8 3.5h1m2 0h1m7 0h1m21 0h1m6 0h1m14 0h1m2 0h1m13 0h1m11 0h1m8 0h1M38 4.5h1m28 0h1m8 0h1m1 0h1m5 0h1m20 0h1m2 0h1m24 0h1m7 0h1M4 5.5h1m23 0h1m4 0h2m18 0h1m2 0h1m1 0h2m7 0h1m6 0h1m6 0h1m16 0h1m15 0h1m18 0h1M9 6.5h1m12 0h1m15 0h1m15 0h1m6 0h1m10 0h1m26 0h1m2 0h1m17 0h1m2 0h2M45 7.5h1m3 0h1m6 0h2m2 0h1m29 0h1m10 0h1m2 0h1M11 8.5h1m19 0h1m17 0h1m4 0h1m15 0h1m19 0h2m32 0h1m7 0h1m8 0h1M11 9.5h1m11 0h1m46 0h1m2 0h1m30 0h1m2 0h1m8 0h1m6 0h2m16 0h1M11 10.5h1m15 0h1m19 0h2m5 0h1m12 0h1m10 0h1m5 0h1m2 0h1m3 0h1m11 0h2m3 0h1m2 0h1m9 0h1m19 0h1M10 11.5h1m4 0h1m40 0h2m6 0h1m3 0h1m9 0h1m5 0h1m19 0h1m19 0h1m6 0h1m9 0h1M21 12.5h1m8 0h1m4 0h1m29 0h1m8 0h1m39 0h1M30 13.5h1m18 0h1m11 0h1m1 0h1m10 0h3m4 0h1m6 0h1m20 0h1m7 0h1M23 14.5h1m54 0h1m22 0h1m9 0h1m7 0h2M1 15.5h2m12 0h1m28 0h1m14 0h1m3 0h1m17 0h1m19 0h1m15 0h1m2 0h1M16 16.5h1m25 0h1m17 0h1m5 0h1m3 0h1m9 0h1m9 0h1m13 0h1M5 17.5h1m5 0h1m8 0h1m14 0h1m12 0h1m2 0h1m23 0h2m2 0h2m23 0h1m8 0h1m1 0h2m16 0h1M4 18.5h1m27 0h1m6 0h1m4 0h1m9 0h1m7 0h1m8 0h1m2 0h1m28 0h1m13 0h1M31 19.5h1m28 0h2m7 0h2m5 0h1m13 0h1m11 0h1m17 0h1m11 0h1m8 0h1M29 20.5h1m5 0h1m8 0h1m40 0h1m1 0h1m4 0h1m26 0h1m21 0h1M51 21.5h1m1 0h2m14 0h1m1 0h1m18 0h1m22 0h1m1 0h1m7 0h1m5 0h1M13 22.5h1m8 0h1m22 0h1m6 0h1m3 0h1m12 0h1m3 0h3m17 0h2m4 0h1m13 0h1M19 23.5h1m1 0h1m31 0h2m9 0h1m11 0h1m7 0h1m2 0h3m7 0h2m34 0h1m7 0h1M4 24.5h1m2 0h1m13 0h1m12 0h1m31 0h1m3 0h1m9 0h2m5 0h1m9 0h1m16 0h1m9 0h2M4 25.5h1m8 0h1m1 0h1m6 0h1m16 0h1m1 0h2m4 0h2m1 0h1m16 0h1m7 0h1m23 0h1m7 0h2m24 0h1m2 0h1M48 26.5h1m21 0h1m5 0h1m1 0h1m8 0h1m1 0h1m2 0h1m26 0h1M15 27.5h1m13 0h1m5 0h1m12 0h1m10 0h1m28 0h1m10 0h1m3 0h1M35 28.5h1m6 0h1m6 0h1m16 0h1m23 0h1m2 0h1m2 0h1m7 0h1m21 0h1m14 0h1M4 29.5h1m62 0h1m6 0h1"/>
<path stroke="#f3d5d0" d="M29 0.5h1m39 0h1m22 0h1m1 0h1m8 0h1m19 0h1M30 1.5h1m18 0h1m33 0h2m14 0h1m14 0h1m24 0h1M33 2.5h1m14 0h1m45 0h1m25 0h1m6 0h1m13 0h1M23 3.5h1m11 0h1m3 0h1m10 0h1m5 0h1m4 0h1m15 0h2m10 0h1m9 0h1m8 0h1m4 0h1m1 0h1m11 0h1m13 0h1M7 4.5h2m4 0h1m36 0h1m8 0h1m20 0h1m9 0h1m3 0h1m16 0h1M42 5.5h1m1 0h1m5 0h1m15 0h1m11 0h1m4 0h1m3 0h1m3 0h1m7 0h1m13 0h1m13 0h1m13 0h1M57 6.5h1m15 0h1m2 0h1m11 0h2m36 0h1M52 7.5h1m16 0h1m5 0h1m9 0h1m46 0h1M19 8.5h1m8 0h1m21 0h1m18 0h1m14 0h1m4 0h1m7 0h1m5 0h1m1 0h1M28 9.5h1m64 0h1m11 0h1m5 0h1M26 10.5h1m9 0h1m8 0h1m42 0h2m25 0h1m1 0h1m2 0h1M22 11.5h1m32 0h1m6 0h1m6 0h1m10 0h1m36 0h1M52 12.5h1m2 0h2m1 0h1m10 0h1m3 0h1m6 0h2m4 0h1m21 0h1m2 0h1m18 0h1m10 0h1M16 13.5h1m6 0h1m9 0h1m33 0h1m16 0h1m9 0h1m9 0h1M13 14.5h1m8 0h1m5 0h1m4 0h2m17 0h1m17 0h1m2 0h1m28 0h1m5 0h1M11 15.5h1m24 0h1m13 0h1m2 0h2m5 0h1m17 0h1m45 0h1m2 0h1m3 0h1M23 16.5h1m52 0h1m47 0h1M7 17.5h1m22 0h1m13 0h1m5 0h1m5 0h1m7 0h1m13 0h1m2 0h1m42 0h1m16 0h1M29 18.5h1m20 0h1m13 0h1m5 0h1m17 0h1m13 0h1M15 19.5h1m20 0h1m52 0h1M107 20.5h1m30 0h1M5 21.5h1m15 0h1m8 0h1m3 0h2m8 0h1m1 0h1m32 0h1m1 0h1m9 0h1m2 0h1m1 0h1m6 0h1m1 0h1m8 0h1m23 0h1M2 22.5h1m25 0h1m4 0h1m26 0h1m6 0h1m17 0h1m15 0h1m31 0h1M66 23.5h1m56 0h1m16 0h1M30 24.5h1m7 0h1m5 0h1m9 0h1m1 0h1m33 0h1m3 0h1m4 0h1m23 0h1M16 25.5h1m34 0h1m21 0h1m17 0h1M9 26.5h1m44 0h1m1 0h1m27 0h1m5 0h1m17 0h1m11 0h1M22 27.5h1m7 0h1m25 0h1m37 0h1M0 28.5h1m27 0h1m17 0h1m7 0h1m4 0h1M49 29.5h1m16 0h1m37 0h1m3 0h1m5 0h1"/>
<path stroke="#f2cdc7" d="M15 0.5h1m14 0h1m35 0h1m41 0h1M4 1.5h1m3 0h1m58 0h1m12 0h1m23 0h1m15 0h1M34 2.5h1m14 0h1m13 0h1m2 0h1m8 0h1M74 3.5h2m41 0h1M5 4.5h1m24 0h1m1 0h1m19 0h1m8 0h1m7 0h1m33 0h1M69 5.5h1m14 0h1m34 0h1m4 0h1M7 6.5h2m18 0h1m2 0h1m32 0h1m2 0h1m23 0h1m3 0h1m2 0h1m21 0h1m10 0h1M10 8.5h1m67 0h1m1 0h1m20 0h1M52 9.5h1m37 0h1m38 0h1M30 10.5h1m1 0h1m8 0h1m15 0h1m6 0h1m36 0h1m25 0h1m6 0h1M30 11.5h1m4 0h1m14 0h1m16 0h1m3 0h1M54 12.5h1m5 0h1m24 0h1m13 0h1m4 0h1m15 0h1M70 13.5h1m14 0h1m17 0h1M55 14.5h1m5 0h1m7 0h1m21 0h2m30 0h2m3 0h1M5 15.5h1m10 0h1m13 0h1m33 0h1m9 0h1m4 0h1m5 0h1m18 0h1m7 0h1M30 16.5h1m2 0h1m71 0h1M15 17.5h1m18 0h1m49 0h1m18 0h1M33 18.5h1m14 0h1m40 0h1m7 0h1m3 0h1m11 0h1M30 19.5h1m66 0h1m11 0h1m4 0h1M66 20.5h1m11 0h1m2 0h1M10 21.5h1m41 0h1M49 22.5h1m4 0h1m21 0h1m12 0h1M30 23.5h1m3 0h1m14 0h1m9 0h1m7 0h1m5 0h1m11 0h1m38 0h1M48 24.5h1m53 0h1m6 0h1m3 0h1m6 0h1m20 0h1M11 25.5h1M33 26.5h1m25 0h1m13 0h1m1 0h1m27 0h1m20 0h1M74 27.5h1m14 0h1m30 0h1M22 28.5h1m7 0h1m40 0h1m2 0h1m19 0h1M33 29.5h1m42 0h1m64 0h1"/>
<path stroke="#f0c5bf" d="M52 1.5h1m16 0h1m20 0h1m33 0h1M30 2.5h1M22 3.5h1m50 0h1m10 0h1m15 0h1M89 4.5h1m41 0h1M30 5.5h1m16 0h1m22 0h2m18 0h1m26 0h1M33 6.5h1m19 0h1m11 0h1m21 0h1m3 0h1M113 7.5h1M75 8.5h1M22 9.5h1m7 0h1m44 0h1m39 0h1m4 0h1M22 10.5h1m10 0h1m35 0h1m11 0h1M52 11.5h1m17 0h1m2 0h1m34 0h1m11 0h1M39 12.5h1m47 0h1m9 0h1M80 13.5h1M75 14.5h1m37 0h1M70 15.5h1m37 0h1M108 16.5h1M70 17.5h1m22 0h1M30 18.5h1m18 0h1m34 0h1m49 0h1M23 19.5h1m107 0h1M34 20.5h1m35 0h1m49 0h1M11 21.5h1m11 0h1m9 0h1m15 0h1m17 0h1m16 0h1m34 0h1m11 0h1M34 22.5h1m11 0h1m17 0h1m43 0h1m18 0h1m13 0h1M7 23.5h1m39 0h1m43 0h1m16 0h1M26 24.5h1m2 0h1m45 0h1M104 25.5h1m19 0h1M30 26.5h1m4 0h1m6 0h1m9 0h1m51 0h1M84 27.5h1m17 0h1m21 0h1M50 28.5h1m5 0h1m23 0h1m7 0h1m10 0h1M120 29.5h1"/>
<path stroke="#efbeb7" d="M91 0.5h1M104 3.5h1M23 5.5h1m14 0h1m22 0h1m23 0h1M56 6.5h1m23 0h1m23 0h1M70 7.5h1M56 8.5h1M92 10.5h1m1 0h1M67 12.5h1m7 0h1M120 13.5h1M35 14.5h1m43 0h2m23 0h1m10 0h1m17 0h1M9 15.5h1m23 0h1m14 0h1m24 0h1m14 0h1m10 0h1M39 16.5h1M53 17.5h1M22 18.5h1m81 0h1M56 19.5h1m67 0h1M30 20.5h1m73 0h1M13 21.5h1m52 0h1m22 0h1m30 0h1M92 22.5h1m3 0h1M120 25.5h1m20 0h1M42 27.5h1m30 0h1M8 28.5h1m39 0h1M45 29.5h1"/>
<path stroke="#edb6ad" d="M56 0.5h1m33 0h1m22 0h1m10 0h1M81 1.5h1M124 2.5h1M124 3.5h1M35 8.5h1M70 10.5h1M22 13.5h1m91 0h1M38 14.5h1M84 15.5h1M33 17.5h1m20 0h1M124 18.5h1M75 21.5h1m25 0h1m25 0h1M39 22.5h1m50 0h1m13 0h1m19 0h1M120 23.5h1M108 24.5h1M94 25.5h1M54 27.5h1M44 28.5h1"/>
<path stroke="#ebaea4" d="M60 1.5h1M124 10.5h1M33 11.5h1M90 14.5h1M94 17.5h1M49 19.5h1M124 21.5h1M33 24.5h1m70 0h1M1 27.5h1M91 29.5h1"/>
<path stroke="#e9a298" d="M67 0.5h1M70 3.5h1M52 5.5h1M102 8.5h1M109 10.5h1M21 14.5h1M120 17.5h1M57 21.5h1m46 0h1M124 29.5h1"/>
<path stroke="#e6988d" d="M103 15.5h1M33 23.5h1"/>
<path stroke="#e48f82" d="M104 27.5h1"/>
</g>
<g transform="translate(484.8 54.1) scale(2.1636 14.8933)">
<path stroke="#bbd2e4" d="M16 13.5h1"/>
<path stroke="#c7dbea" d="M32 7.5h1M14 29.5h1"/>
<path stroke="#d1e1ee" d="M16 1.5h1M16 9.5h1M16 20.5h1M40 25.5h1M35 28.5h1"/>
<path stroke="#dae7f1" d="M16 7.5h1M4 13.5h1M7 20.5h1M35 21.5h1M10 24.5h1m5 0h1M16 25.5h1M16 29.5h1"/>
<path stroke="#e5edf4" d="M16 3.5h1M43 9.5h1M26 13.5h1M7 16.5h1M16 17.5h1m3 0h1M35 22.5h1M31 25.5h1M7 28.5h1m35 0h1"/>
<path stroke="#eef1f6" d="M16 0.5h1M40 1.5h1M32 3.5h1M10 4.5h1m3 0h1m1 0h1M14 8.5h3M10 9.5h1m23 0h1M16 11.5h1M16 12.5h1M14 13.5h1m20 0h1M40 14.5h1M32 16.5h1M32 17.5h1M11 19.5h1m8 0h1M43 24.5h1M11 27.5h1m4 0h1m19 0h1M11 28.5h1m20 0h1"/>
<path stroke="#f3f2f2" d="M10 0.5h1m3 0h2M10 1.5h1m23 0h1M32 2.5h1m2 0h1M9 4.5h1m22 0h1M16 5.5h1m23 0h1M14 6.5h1M17 7.5h1m9 0h1m12 0h1M34 8.5h1M28 9.5h1M10 10.5h1M9 11.5h1M35 12.5h1M11 13.5h1m20 0h1M14 14.5h1m1 0h1m15 0h1M35 15.5h1M4 16.5h1M14 17.5h1M12 18.5h1m3 0h1m9 0h1M12 19.5h1m18 0h1M10 20.5h1M16 21.5h1M32 23.5h1M14 25.5h1M29 26.5h1m10 0h1M14 27.5h1M7 29.5h1m24 0h1m1 0h1m8 0h1"/>
<path stroke="#f4ecea" d="M20 0.5h1m11 0h1m10 0h1M0 1.5h1m8 0h1m15 0h2m8 0h1M9 2.5h1M7 4.5h1M16 6.5h1m15 0h1M9 7.5h1m2 0h1m1 0h1m5 0h1m5 0h1m16 0h1M0 8.5h1m3 0h1m15 0h1M9 9.5h1m9 0h1m12 0h1M20 10.5h1M3 11.5h1m2 0h1m8 0h1m18 0h1m8 0h1M7 12.5h1m6 0h1m4 0h2M34 13.5h1M10 17.5h1M14 18.5h1m17 0h1M16 19.5h1m15 0h1M5 20.5h1m11 0h1m7 0h1m6 0h1m1 0h2M43 21.5h1M16 22.5h1m26 0h1M9 23.5h1m20 0h1M31 24.5h1M32 25.5h1M1 26.5h1m8 0h1m6 0h1m14 0h1M5 27.5h1m20 0h1M3 28.5h1m8 0h1m3 0h1m5 0h1M3 29.5h1m6 0h1m8 0h1"/>
<path stroke="#f5e5e2" d="M4 0.5h1m2 0h1m21 0h1M7 1.5h1m35 0h1M4 2.5h1m2 0h1m6 0h1m1 0h1m6 0h1m2 0h1m2 0h1m8 0h1m1 0h1M9 3.5h2m3 0h1m23 0h1M7 5.5h1m6 0h1m16 0h1m3 0h2m5 0h2M7 6.5h1m7 0h1m2 0h1m21 0h1M4 7.5h1m5 0h2m7 0h1m10 0h2m7 0h1M29 8.5h1m12 0h1M3 9.5h1m3 0h1m6 0h1m2 0h2m10 0h1M14 10.5h1M11 11.5h1m14 0h2m4 0h1M32 12.5h1m7 0h1M10 13.5h1m1 0h1m7 0h1m4 0h1M11 14.5h1m31 0h1M1 15.5h1M11 16.5h1m4 0h1m8 0h1M0 17.5h1m34 0h2m1 0h1M3 18.5h1m6 0h2M9 19.5h1m16 0h1m16 0h1M11 20.5h2m7 0h1m9 0h1M7 22.5h1m1 0h2m16 0h1m3 0h1M7 23.5h1m3 0h1m4 0h1m2 0h1m15 0h1M1 24.5h1m1 0h1m3 0h1m1 0h1m8 0h1M10 25.5h2m15 0h1m7 0h1M7 26.5h1m3 0h1m21 0h1M3 27.5h1m31 0h1m4 0h1m2 0h1M40 28.5h1M5 29.5h1m3 0h1m2 0h1m14 0h3"/>
<path stroke="#f4dcd9" d="M22 0.5h1M14 1.5h1m17 0h1m3 0h1M10 2.5h1m11 0h1m5 0h1m5 0h1M17 3.5h1m2 0h1m22 0h1M1 4.5h1m1 0h1m2 0h1m8 0h1m1 0h1m2 0h1m5 0h1m15 0h1M0 5.5h1m10 0h2m4 0h1m1 0h1m5 0h1M12 6.5h1m4 0h1m7 0h1m2 0h1m5 0h1M8 7.5h1m12 0h1m16 0h1M32 8.5h1M11 9.5h1m9 0h1m1 0h1m7 0h1M9 10.5h1m2 0h1m3 0h1m16 0h1M10 11.5h1m6 0h1m11 0h1m10 0h1m1 0h1M11 12.5h1m9 0h1m6 0h1M27 13.5h1m2 0h1M10 14.5h1m8 0h1m14 0h1M10 15.5h1m5 0h1m4 0h1m3 0h1m3 0h1m2 0h1M9 16.5h1m2 0h2m6 0h1m13 0h2M2 17.5h1m2 0h1m21 0h1M4 18.5h1m15 0h3m11 0h1m5 0h1M7 19.5h1m9 0h1m1 0h1m8 0h1m1 0h1m2 0h2M1 20.5h1m12 0h1m4 0h1m6 0h2m14 0h1M2 21.5h1m31 0h1m5 0h1M11 22.5h1m2 0h1m9 0h1M3 23.5h1m2 0h1m24 0h1m8 0h1m2 0h1M12 24.5h1m1 0h1m4 0h1m7 0h1m2 0h1M1 25.5h1m1 0h1m8 0h1m2 0h1m2 0h1m7 0h1m1 0h1m1 0h1M0 26.5h1m5 0h1m7 0h1m1 0h1m3 0h1m13 0h1M6 27.5h1m8 0h1m4 0h1m7 0h3m1 0h1M10 28.5h1m14 0h2M6 29.5h1m10 0h1m7 0h1m9 0h1m2 0h1"/>
<path stroke="#f3d5d0" d="M6 0.5h1m2 0h1m2 0h1m5 0h2M23 1.5h1m4 0h1m4 0h1M2 2.5h1m2 0h1m14 0h1m12 0h1m9 0h1M4 3.5h1m1 0h2m4 0h1m10 0h1M12 4.5h1m6 0h1m5 0h1m5 0h1m8 0h1M1 5.5h1m30 0h1M0 6.5h1m37 0h1M3 7.5h1m3 0h1m15 0h1m11 0h1M11 8.5h1m13 0h1m1 0h2m1 0h1m4 0h1m7 0h1M1 9.5h2m2 0h1m16 0h1m4 0h1m7 0h1m2 0h1m1 0h1M11 10.5h1m16 0h1m6 0h1m3 0h1M4 11.5h1m7 0h1m6 0h1m1 0h1m13 0h1m1 0h1M3 12.5h1m5 0h2m4 0h1m9 0h1m3 0h1m8 0h1M0 13.5h1m18 0h1m11 0h1m4 0h1m2 0h1m3 0h1M26 14.5h1m1 0h1m6 0h1M12 15.5h1m1 0h1m7 0h1M17 16.5h1m12 0h1m2 0h1m5 0h2M11 17.5h2m10 0h1m16 0h1M5 18.5h3m9 0h1m1 0h1M2 19.5h1m18 0h1m5 0h1m12 0h1M9 20.5h1m5 0h1m12 0h2m10 0h1M4 21.5h1m1 0h2m2 0h1m14 0h2m5 0h1m9 0h1M26 22.5h1m7 0h1m5 0h1M1 23.5h1m2 0h1m5 0h1m3 0h1m5 0h1M2 24.5h1m1 0h1m1 0h1m10 0h1m4 0h1m17 0h1M0 25.5h1m4 0h1m3 0h1m24 0h1m4 0h1M12 26.5h1m18 0h1m3 0h1m7 0h1M7 27.5h1m1 0h1m7 0h1m3 0h1M2 28.5h1m1 0h1m9 0h1m6 0h1m11 0h1M11 29.5h1m8 0h1m15 0h1"/>
<path stroke="#f2cdc7" d="M2 0.5h1m8 0h1m13 0h1m4 0h1m3 0h1m5 0h1M1 1.5h1m6 0h1m2 0h2m2 0h1m2 0h1m10 0h1M1 2.5h1m9 0h2m2 0h1m15 0h1M0 3.5h2m17 0h1m7 0h1m2 0h1m9 0h1m1 0h1M11 4.5h1m15 0h1m7 0h1m2 0h1M34 5.5h1M11 6.5h1m8 0h1m12 0h1m1 0h2M0 7.5h1m4 0h2m6 0h1m4 0h1m3 0h1m6 0h1m4 0h1m1 0h1M1 8.5h1m5 0h1m2 0h1m6 0h1m1 0h1m1 0h1m4 0h1m13 0h1M4 9.5h1m7 0h1m7 0h1m9 0h1m11 0h1M0 10.5h1m2 0h1m11 0h1m1 0h1m14 0h1m7 0h1m2 0h1M1 11.5h1m5 0h1m6 0h1m13 0h1m10 0h1M4 12.5h1m7 0h1m17 0h2m2 0h1M1 13.5h1m16 0h1m9 0h2m10 0h1M1 14.5h1m3 0h2m16 0h1M6 15.5h2m7 0h1m10 0h1m3 0h1M1 16.5h3m11 0h1m7 0h1m2 0h1m1 0h2M4 17.5h1m3 0h1m13 0h1m5 0h1m1 0h1M0 18.5h2m21 0h1m7 0h1m3 0h1m7 0h1M0 19.5h1m9 0h1m11 0h1m12 0h1m6 0h1M18 20.5h1m2 0h3m9 0h1m5 0h1m3 0h1M8 21.5h2m5 0h1M1 22.5h2m1 0h1m1 0h1m5 0h1m2 0h1m1 0h1m2 0h1m7 0h1m1 0h1M12 23.5h1m2 0h1m9 0h2m1 0h1m5 0h1M11 24.5h1m8 0h2m10 0h1M2 25.5h1m4 0h1m11 0h2m2 0h1m19 0h1M2 26.5h1m6 0h1m9 0h1m5 0h1m2 0h1m1 0h1m5 0h1M0 27.5h1m9 0h1m1 0h2m5 0h1m14 0h1m4 0h1M1 28.5h1m16 0h1m9 0h1m10 0h1M1 29.5h1m13 0h1m2 0h1m11 0h2m8 0h1"/>
<path stroke="#f0c5bf" d="M1 0.5h1m22 0h1m2 0h2m6 0h2M6 1.5h1m10 0h1m2 0h1m9 0h2M21 2.5h1m3 0h1m13 0h1m2 0h1M3 3.5h1m7 0h1m16 0h1m4 0h1m3 0h1M0 4.5h1m17 0h1m9 0h1m8 0h1m5 0h1M2 5.5h2m6 0h1m9 0h1m9 0h1M19 6.5h1m6 0h1m12 0h1m3 0h1M1 7.5h1m22 0h1m12 0h1M9 8.5h1m12 0h1m13 0h1m2 0h1M26 9.5h1m12 0h1M2 10.5h1m4 0h1m14 0h1m2 0h2m7 0h1m3 0h1M0 11.5h1m21 0h1m7 0h2m6 0h1M0 12.5h1m5 0h1m10 0h1m4 0h2m2 0h1m6 0h1m9 0h1M6 13.5h4m7 0h1M3 14.5h1m11 0h1m6 0h1m2 0h1m5 0h1M4 15.5h2m5 0h1m11 0h1m16 0h1M0 16.5h1m4 0h1m2 0h1m1 0h1m20 0h1m4 0h2m5 0h1M15 17.5h1m3 0h1m1 0h1m9 0h1m2 0h1m2 0h1M18 18.5h1m8 0h1m1 0h1M3 19.5h1m10 0h1m10 0h1m10 0h1m1 0h2M3 20.5h1m2 0h1M1 21.5h1m3 0h1m11 0h1m20 0h1M5 22.5h1m15 0h1m3 0h1m6 0h2m5 0h1M5 23.5h1m12 0h1m14 0h1m2 0h1m4 0h1M15 24.5h1m10 0h1m15 0h1M4 25.5h1m3 0h1m29 0h1M15 26.5h1m22 0h1M4 27.5h1m17 0h1M0 28.5h1m18 0h1m7 0h1m3 0h1m6 0h1M0 29.5h1m1 0h1m1 0h1m16 0h2"/>
<path stroke="#efbeb7" d="M3 0.5h1m1 0h1m2 0h1m4 0h1m3 0h1m8 0h1m11 0h2m2 0h1M4 1.5h1m14 0h1m1 0h2m4 0h1m10 0h1M8 2.5h1m4 0h1m3 0h1m9 0h1m2 0h1m6 0h1M5 3.5h1m7 0h1m8 0h1m2 0h1m3 0h1m1 0h1m2 0h1m1 0h1M21 4.5h1m1 0h1m5 0h2m2 0h2M5 5.5h1m2 0h2m8 0h1m19 0h2M1 6.5h3m2 0h1m3 0h1m20 0h1M2 7.5h1m22 0h1m2 0h1m13 0h1M5 8.5h1m2 0h1m3 0h1M0 9.5h1m35 0h1M1 10.5h1m4 0h1m1 0h1m12 0h1m1 0h1m5 0h1m1 0h1M36 12.5h1M3 13.5h1m11 0h1m5 0h3m13 0h1M12 14.5h1m7 0h1m8 0h1M9 15.5h1m9 0h1m7 0h1m3 0h1m1 0h1m9 0h1M6 16.5h1m12 0h1m1 0h1M3 17.5h1m2 0h2m1 0h1m3 0h1m3 0h1m7 0h2m6 0h1m9 0h1M15 18.5h1m12 0h1m1 0h1m8 0h1M4 19.5h1m10 0h1m2 0h1m18 0h1M0 20.5h1M0 21.5h1m13 0h1m5 0h1m1 0h1m1 0h1m5 0h1m5 0h1M3 22.5h1m14 0h2m2 0h1m19 0h1M0 23.5h1m1 0h1m10 0h1m9 0h1m3 0h1m1 0h1m9 0h1M0 24.5h1m4 0h1m2 0h1m14 0h1m4 0h1M6 25.5h1m22 0h1m3 0h1m3 0h1M18 26.5h1m3 0h1m4 0h1M1 27.5h2m5 0h1m29 0h1M6 28.5h1m1 0h2m5 0h1m4 0h1m13 0h1M26 29.5h1"/>
<path stroke="#edb6ad" d="M0 0.5h1m20 0h1m1 0h1m7 0h1m1 0h1m7 0h1M3 1.5h1M0 2.5h1m2 0h1m15 0h1m16 0h1M8 3.5h1m12 0h1m4 0h1m12 0h1M4 4.5h1m3 0h1m13 0h1m16 0h1M4 5.5h1m10 0h1m7 0h2m1 0h4M4 6.5h1m16 0h2m6 0h1m12 0h1M3 8.5h1m2 0h1m31 0h1M6 9.5h1m6 0h1m1 0h1m8 0h2m7 0h1M19 10.5h1m7 0h1M25 11.5h1m7 0h1m2 0h1M27 12.5h1M2 13.5h1m30 0h1m4 0h1M9 14.5h1m7 0h1m9 0h1m5 0h1m2 0h2M3 15.5h1m13 0h1m2 0h1m13 0h1m4 0h1M18 16.5h1m3 0h1m1 0h1m2 0h1m14 0h1M1 17.5h1m27 0h1m9 0h1M8 18.5h2m3 0h1m19 0h1m4 0h1M6 19.5h1M2 20.5h1m28 0h1m4 0h1M3 21.5h1m7 0h2m10 0h1m3 0h2m2 0h1m1 0h1m5 0h1M8 22.5h1m29 0h1M8 23.5h1m28 0h1M29 24.5h1m3 0h3m2 0h2M17 25.5h1m3 0h1m20 0h1M3 26.5h1m17 0h1m2 0h1m17 0h1M24 27.5h1M5 28.5h1m23 0h1m6 0h1M13 29.5h1m25 0h1m1 0h2"/>
<path stroke="#ebaea4" d="M2 1.5h1m2 0h1m31 0h1M6 2.5h1M35 3.5h1M2 4.5h1M6 5.5h1m6 0h1m8 0h1M5 6.5h1m3 0h1m17 0h1m2 0h1M33 7.5h1m7 0h1M23 8.5h1m7 0h1m1 0h1m3 0h1M37 10.5h1M13 11.5h1m4 0h1m1 0h1m2 0h2M2 12.5h1m5 0h1m4 0h1m10 0h1m14 0h1M5 13.5h1m7 0h1M8 14.5h1m9 0h1m11 0h1m8 0h1M2 15.5h1m25 0h1M18 17.5h1m23 0h1M2 18.5h1m22 0h1m11 0h1M1 19.5h1m3 0h1m2 0h1m4 0h1m15 0h1m11 0h1M4 20.5h1m3 0h1m28 0h2M18 21.5h1M13 22.5h1m22 0h1M17 23.5h1m3 0h1M24 24.5h1m12 0h1M24 25.5h1M4 26.5h2m2 0h1m14 0h1m15 0h1M23 27.5h1m7 0h1m1 0h1m3 0h1M37 28.5h1m4 0h1M33 29.5h1"/>
<path stroke="#e9a298" d="M37 0.5h1M39 1.5h1m2 0h1M15 3.5h1m2 0h1M5 4.5h1m18 0h1M33 5.5h1m7 0h1M8 6.5h1m32 0h1M15 7.5h1M2 8.5h1m21 0h1M8 9.5h1m28 0h1M4 10.5h1m8 0h1m4 0h1m11 0h1m5 0h1M5 11.5h1M5 12.5h1M41 13.5h2M0 14.5h1m3 0h1m8 0h1m7 0h1M36 15.5h3m3 0h1M38 16.5h1m2 0h1M36 18.5h1M23 19.5h1M29 21.5h1m7 0h1M0 22.5h1m22 0h1m5 0h1m11 0h1M42 23.5h1M22 25.5h1m2 0h1m10 0h1M18 27.5h1m6 0h1m1 0h1m14 0h1M17 28.5h1m12 0h1m10 0h1"/>
<path stroke="#e6988d" d="M2 3.5h1m21 0h1M13 4.5h1m27 0h1M21 5.5h1M23 6.5h1m13 0h1M18 8.5h1M42 10.5h1M8 11.5h1M18 12.5h1m23 0h1M7 14.5h1m16 0h1m13 0h1m3 0h1M14 16.5h1M24 18.5h1m17 0h1M24 20.5h1M19 21.5h1M22 23.5h1m15 0h1M36 24.5h1M13 25.5h1M26 26.5h1m10 0h1M24 28.5h1M23 29.5h2"/>
<path stroke="#e48f82" d="M13 1.5h1m10 0h1M18 2.5h1M13 6.5h1M41 8.5h1M24 10.5h1M24 13.5h1M41 14.5h1M0 15.5h1m7 0h1m9 0h1M41 18.5h1M13 20.5h1M13 21.5h1m7 0h1M24 23.5h1M25 24.5h1M23 28.5h1M8 29.5h1m28 0h1"/>
<path stroke="#e18375" d="M41 2.5h1M41 3.5h1M37 5.5h1M24 6.5h1M41 9.5h1M2 11.5h1M1 12.5h1m35 0h1M2 14.5h1M13 15.5h1m10 0h1M24 19.5h1M41 20.5h1M37 22.5h1M41 24.5h1M41 25.5h1M41 27.5h1M13 28.5h1"/>
<path stroke="#de796b" d="M24 2.5h1M36 4.5h1M13 8.5h1M5 10.5h1M24 17.5h1M41 21.5h1M13 24.5h1M41 26.5h1"/>
<path stroke="#db6e60" d="M41 1.5h1M41 10.5h1M41 11.5h1M41 12.5h1M41 17.5h1M13 26.5h1"/>
<path stroke="#d86456" d="M41 15.5h1"/>
</g>
</g>
<rect x="174" y="36.9" width="310.8" height="17.2" fill="#55a868"/>
<rect x="484.8" y="36.9" width="95.2" height="17.2" fill="#ff7f0e"/>
<g font-size="8.6" fill="#262626" text-anchor="end">
<text x="164.5" y="64.0">PI15</text>
<text x="164.5" y="78.9">THBS4</text>
<text x="164.5" y="93.8">SELP</text>
<text x="164.5" y="108.7">APOA1</text>
<text x="164.5" y="123.6">MYH11</text>
<text x="164.5" y="138.5">SEMA3G</text>
<text x="164.5" y="153.4">CFH</text>
<text x="164.5" y="168.3">NRCAM</text>
<text x="164.5" y="183.2">TMEM176A</text>
<text x="164.5" y="198.1">A4GALT</text>
<text x="164.5" y="213.0">CFD</text>
<text x="164.5" y="227.9">ABCA8</text>
<text x="164.5" y="242.7">SLC46A2</text>
<text x="164.5" y="257.6">ACKR2</text>
<text x="164.5" y="272.5">PI16</text>
<text x="164.5" y="287.4">PRG4</text>
<text x="164.5" y="302.3">ARNTL2</text>
<text x="164.5" y="317.2">SEMA3C</text>
<text x="164.5" y="332.1">VGLL3</text>
<text x="164.5" y="347.0">RARRES2</text>
<text x="164.5" y="361.9">CHRDL1</text>
<text x="164.5" y="376.8">MFAP4</text>
<text x="164.5" y="391.7">ABI3BP</text>
<text x="164.5" y="406.6">MFAP5</text>
<text x="164.5" y="421.5">LSP1</text>
<text x="164.5" y="436.4">MEOX1</text>
<text x="164.5" y="451.3">SLC14A1</text>
<text x="164.5" y="466.1">CXCL14</text>
<text x="164.5" y="481.0">GPRC5A</text>
<text x="164.5" y="495.9">MEDAG</text>
</g>
<linearGradient id="cba"><stop offset="0.000" stop-color="#467aab"/><stop offset="0.062" stop-color="#5687b4"/><stop offset="0.125" stop-color="#6795bd"/><stop offset="0.188" stop-color="#82a9ca"/><stop offset="0.250" stop-color="#9fbed6"/><stop offset="0.312" stop-color="#b8d0e3"/><stop offset="0.375" stop-color="#d3e2ef"/><stop offset="0.438" stop-color="#eaeff5"/><stop offset="0.500" stop-color="#f4edec"/><stop offset="0.562" stop-color="#f4dad6"/><stop offset="0.625" stop-color="#f1c8c2"/><stop offset="0.688" stop-color="#edb6ad"/><stop offset="0.750" stop-color="#e89f94"/><stop offset="0.812" stop-color="#e28577"/><stop offset="0.875" stop-color="#db6c5e"/><stop offset="0.938" stop-color="#d45547"/><stop offset="1.000" stop-color="#cf3e32"/></linearGradient>
<rect x="225.2" y="512.2" width="291" height="30" fill="url(#cba)"/>
<g stroke="#262626" stroke-width="1.2">
<line x1="255.6" y1="542.7" x2="255.6" y2="547.2"/>
<line x1="291.6" y1="542.7" x2="291.6" y2="547.2"/>
<line x1="328.6" y1="542.7" x2="328.6" y2="547.2"/>
<line x1="363.7" y1="542.7" x2="363.7" y2="547.2"/>
<line x1="400.4" y1="542.7" x2="400.4" y2="547.2"/>
<line x1="437" y1="542.7" x2="437" y2="547.2"/>
<line x1="473.2" y1="542.7" x2="473.2" y2="547.2"/>
<line x1="509.5" y1="542.7" x2="509.5" y2="547.2"/>
</g>
<g fill="#000">
<text font-size="1000" transform="matrix(0.01534 0 0 0.01370 245.67 562.70)">-3</text>
<text font-size="1000" transform="matrix(0.01534 0 0 0.01370 282.82 562.10)">-2</text>
<text font-size="1000" transform="matrix(0.01534 0 0 0.01370 318.45 562.10)">-1</text>
<text font-size="1000" transform="matrix(0.01534 0 0 0.01370 359.82 563.90)">0</text>
<text font-size="1000" transform="matrix(0.01534 0 0 0.01370 396.17 564.30)">1</text>
<text font-size="1000" transform="matrix(0.01534 0 0 0.01370 433.28 561.60)">2</text>
<text font-size="1000" transform="matrix(0.01534 0 0 0.01370 468.23 563.60)">3</text>
<text font-size="1000" transform="matrix(0.01534 0 0 0.01370 503.05 560.90)">4</text>
</g>
<g shape-rendering="crispEdges" fill="none" stroke-width="1">
<g transform="translate(161.6 628.8) scale(2.2263 23.5368)">
<path stroke="#90b3d0" d="M100 1.5h1M67 4.5h1M67 8.5h1M67 13.5h1m45 0h1M67 15.5h1M113 16.5h1M27 17.5h1M67 18.5h1"/>
<path stroke="#9bbbd5" d="M97 0.5h1M3 1.5h1m63 0h1m18 0h1m22 0h1M3 3.5h1m82 0h1m26 0h1M28 4.5h1m22 0h1M48 5.5h1M3 6.5h1m63 0h1m32 0h1M27 7.5h1m38 0h1m49 0h1M146 10.5h1M67 11.5h1m45 0h1M93 13.5h1M113 15.5h1M51 16.5h1m37 0h1M67 17.5h1"/>
<path stroke="#a6c3da" d="M59 0.5h1m7 0h1m45 0h1M113 1.5h1M48 2.5h1m18 0h1m45 0h1M28 3.5h1m22 0h1m15 0h1m25 0h1m15 0h1M98 4.5h1M3 5.5h1m47 0h1m15 0h1M28 6.5h1m14 0h1m49 0h1M3 7.5h1M29 8.5h1m21 0h1m57 0h1M38 9.5h1m9 0h1m18 0h1m7 0h1m52 0h1M66 10.5h1M27 11.5h1m20 0h1m16 0h1m25 0h1M67 12.5h1M3 13.5h1m62 0h1M67 14.5h1m57 0h1M3 15.5h1m34 0h1m4 0h1M65 16.5h3m29 0h1M48 17.5h1m51 0h1m8 0h1m3 0h1m11 0h1m2 0h1M3 18.5h1m44 0h1"/>
<path stroke="#b1cbe0" d="M48 0.5h1m16 0h1M28 1.5h1m32 0h1m3 0h1m67 0h1m10 0h1M3 2.5h1m77 0h1m18 0h1m24 0h1M48 3.5h1m26 0h1m8 0h1m13 0h1m31 0h1m13 0h1M3 4.5h1M43 5.5h1m32 0h1m51 0h1M48 6.5h1m10 0h1m6 0h1M100 7.5h1m19 0h1m7 0h1M3 8.5h1m59 0h1m25 0h1m21 0h1m1 0h1M29 9.5h1M51 10.5h1m15 0h1m4 0h1m8 0h1m11 0h1m6 0h1m12 0h1m6 0h1M19 11.5h1m64 0h1m26 0h1m27 0h1M89 12.5h1m43 0h1M27 13.5h2m13 0h1m5 0h1m2 0h1m13 0h1m17 0h1m2 0h1m10 0h1m1 0h2m21 0h1M48 14.5h1m26 0h1m4 0h1m3 0h1m14 0h1m13 0h1m6 0h1M65 15.5h1m6 0h1m16 0h1m3 0h1m4 0h2m20 0h1M48 16.5h1m51 0h1m8 0h1m15 0h1M28 17.5h1m14 0h1m15 0h1m6 0h1m14 0h1m11 0h1m4 0h2M91 18.5h1m19 0h1m1 0h1"/>
<path stroke="#bbd2e4" d="M28 0.5h1m37 0h1m8 0h1m15 0h1m1 0h1m15 0h1m10 0h1m7 0h2m9 0h1m10 0h1M27 1.5h1m1 0h1m13 0h1m22 0h1m9 0h1m7 0h1m6 0h1m19 0h1M51 2.5h1m14 0h1m24 0h2M1 3.5h1m11 0h1m10 0h1m14 0h1m25 0h1m8 0h1m16 0h1m7 0h1m7 0h1m17 0h1m9 0h1M38 4.5h1m36 0h1m5 0h1m11 0h1m13 0h1m8 0h1M66 5.5h1m5 0h1m2 0h1m15 0h1m7 0h1m26 0h1M63 6.5h1m7 0h1m4 0h1m9 0h1m26 0h1m8 0h1M28 7.5h1m19 0h1m2 0h1m10 0h1m4 0h1m21 0h1m23 0h1m12 0h1m17 0h1M48 8.5h1m26 0h1m5 0h1m34 0h1m8 0h1M3 9.5h1m107 0h1m14 0h1M3 10.5h1m23 0h1m15 0h1m4 0h1m16 0h1m45 0h1M28 11.5h2m8 0h1m22 0h1m4 0h1m8 0h2m9 0h1m13 0h2M24 12.5h1m3 0h1m80 0h1m18 0h1M19 13.5h1m4 0h1m4 0h1m34 0h1m10 0h1m4 0h1m15 0h1m10 0h1m1 0h1m1 0h1m4 0h1m3 0h1m4 0h2M27 14.5h1m38 0h1m5 0h1m27 0h1m6 0h1m20 0h1m15 0h1M27 15.5h1m14 0h1m5 0h1m2 0h1m23 0h1m5 0h1m1 0h1m7 0h1m5 0h1m3 0h1m14 0h1M27 16.5h1m73 0h1m14 0h1M3 17.5h1m25 0h1m14 0h1m6 0h1m6 0h1m33 0h1m1 0h1m6 0h1m9 0h1M44 18.5h1m21 0h1m13 0h1m52 0h1"/>
<path stroke="#c7dbea" d="M3 0.5h1m9 0h1m13 0h1m1 0h1m8 0h1m19 0h1m24 0h1m2 0h1m14 0h1m42 0h1M31 1.5h1m6 0h2m8 0h1m3 0h1m11 0h1m9 0h1m14 0h1m8 0h1m3 0h1m13 0h1m3 0h1m7 0h1m1 0h1M28 2.5h2m8 0h1m3 0h1m20 0h1m1 0h1m13 0h1m6 0h1m2 0h1m19 0h1m18 0h1M2 3.5h1m6 0h1m17 0h1m1 0h1m8 0h1m1 0h1m3 0h1m12 0h2m19 0h1m1 0h1m16 0h1m2 0h1m10 0h1m3 0h1m4 0h1m5 0h1m1 0h1M13 4.5h1m3 0h1m6 0h1m23 0h1m16 0h2m9 0h1m12 0h1m7 0h1m3 0h1m7 0h1m18 0h1m15 0h1M59 5.5h1m9 0h1m26 0h2m15 0h1m2 0h1m5 0h1m4 0h1M42 6.5h1m8 0h1m20 0h1m7 0h1m3 0h1m24 0h1m1 0h1m8 0h2m1 0h1M36 7.5h1m5 0h1m15 0h1m17 0h1m7 0h1m1 0h1m10 0h1m13 0h1m15 0h1m1 0h1M15 8.5h1m11 0h2m10 0h1m19 0h1m12 0h1m1 0h1m10 0h1m35 0h1m6 0h1M24 9.5h1m2 0h1m23 0h1m6 0h1m40 0h2m12 0h1m6 0h1m4 0h1M29 10.5h1m8 0h1m20 0h1m15 0h1m23 0h1m1 0h1m20 0h1M12 11.5h1m38 0h1m7 0h1m2 0h1m26 0h1m3 0h1m1 0h1m1 0h3m15 0h2m11 0h1m4 0h1m8 0h1M1 12.5h1m44 0h1m19 0h1m9 0h1m7 0h1m1 0h1m17 0h1m41 0h1M13 13.5h1m25 0h1m3 0h1m10 0h1m21 0h1m7 0h1m4 0h1m1 0h1m2 0h1m3 0h1m24 0h1m3 0h3m11 0h1m2 0h1m1 0h1m3 0h1M3 14.5h1m25 0h1m21 0h1m9 0h1m14 0h1m15 0h1m16 0h1m6 0h1m22 0h2M31 15.5h1m22 0h1m6 0h2m3 0h1m7 0h1m1 0h1m3 0h1m5 0h1m13 0h1m6 0h1m1 0h1m17 0h1m5 0h1m10 0h1M42 16.5h1m16 0h1m15 0h1m5 0h1m1 0h1m55 0h1m6 0h1M13 17.5h1m24 0h2m2 0h1m14 0h1m7 0h1m6 0h1m2 0h1m3 0h1m4 0h1m4 0h1m6 0h1m19 0h1m3 0h1m12 0h1M17 18.5h1m33 0h1m7 0h1m16 0h1m4 0h1m4 0h1m28 0h2m3 0h1m7 0h1m10 0h1"/>
<path stroke="#d1e1ee" d="M24 0.5h1m21 0h1m14 0h2m13 0h1m3 0h2m17 0h2m6 0h1m8 0h1m5 0h1M6 1.5h1m6 0h1m5 0h1m42 0h1m16 0h1m1 0h1m3 0h1m9 0h1m3 0h1m19 0h1m1 0h1m3 0h2m2 0h1m10 0h1m9 0h1M13 2.5h1m13 0h1m45 0h1m10 0h1m12 0h1m3 0h1m5 0h1m3 0h1m9 0h1m22 0h1M17 3.5h1m25 0h1m8 0h1m8 0h2m3 0h1m5 0h2m2 0h1m4 0h1m7 0h1m6 0h1m19 0h1m23 0h2m8 0h1M2 4.5h1m24 0h1m1 0h1m13 0h1m15 0h1m4 0h1m22 0h1m3 0h1m2 0h1m1 0h1m3 0h1m12 0h1m1 0h1m4 0h1m14 0h1m4 0h1M13 5.5h1m24 0h1m15 0h1m16 0h1m12 0h1m4 0h1m3 0h1m6 0h1m6 0h1m12 0h1M38 6.5h1m13 0h1m12 0h1m9 0h1m5 0h1m3 0h1m3 0h1m1 0h1m3 0h2m2 0h1m15 0h2m8 0h1m2 0h1m4 0h1m5 0h1m10 0h1M9 7.5h1m14 0h1m4 0h1m9 0h1m4 0h1m7 0h1m6 0h1m5 0h1m9 0h1m15 0h3m2 0h1m1 0h1m2 0h1m4 0h2m14 0h1m14 0h1m1 0h1M58 8.5h1m2 0h2m23 0h1m4 0h1m1 0h1m2 0h2m2 0h2m5 0h1m11 0h1m2 0h1m16 0h1m4 0h1M59 9.5h1m16 0h1m9 0h1m4 0h1m17 0h1m8 0h1M11 10.5h1m27 0h1m21 0h1m1 0h1m12 0h1m9 0h1m4 0h1m6 0h1m3 0h1m6 0h1m5 0h2m4 0h1m6 0h1m15 0h1m5 0h1M3 11.5h1m4 0h1m2 0h1m1 0h1m22 0h1m5 0h1m1 0h1m24 0h1m4 0h1m12 0h1m4 0h1m1 0h1m14 0h1m2 0h1m7 0h2m5 0h1m22 0h1M3 12.5h1m2 0h1m20 0h1m8 0h1m5 0h1m5 0h1m2 0h1m11 0h1m1 0h1m6 0h1m2 0h1m9 0h1m11 0h1m1 0h2m1 0h1m4 0h1m3 0h1m1 0h1m11 0h1m3 0h1m5 0h1m14 0h1M9 13.5h1m2 0h1m4 0h1m28 0h1m10 0h2m3 0h1m9 0h1m1 0h1m6 0h1m3 0h1m18 0h1m1 0h1m5 0h1m17 0h1m2 0h1m1 0h1m3 0h1M42 14.5h2m14 0h2m2 0h1m8 0h1m9 0h1m1 0h1m7 0h1m3 0h1m2 0h1m5 0h1M1 15.5h1m10 0h1m5 0h2m9 0h1m4 0h1m9 0h1m12 0h1m1 0h1m46 0h1m12 0h1m6 0h1m3 0h1m4 0h1m6 0h1M1 16.5h1m1 0h1m20 0h1m3 0h1m15 0h1m40 0h2m6 0h1m2 0h1m1 0h2m2 0h1m4 0h1m3 0h1m2 0h1m13 0h1m4 0h1m16 0h1M6 17.5h1m10 0h1m1 0h1m1 0h1m2 0h1m15 0h1m28 0h1m16 0h2m31 0h1m1 0h2m1 0h1m14 0h2M46 18.5h1m24 0h2m11 0h1m4 0h1m10 0h1m8 0h1m16 0h1m15 0h1"/>
<path stroke="#dae7f1" d="M17 0.5h1m1 0h1m43 0h1m7 0h2m11 0h2m3 0h1m8 0h1m12 0h1m23 0h1m5 0h1m9 0h1M0 1.5h1m16 0h2m2 0h1m14 0h1m5 0h1m1 0h1m1 0h1m4 0h1m6 0h1m12 0h1m3 0h1m4 0h1m12 0h2m1 0h1m4 0h1m15 0h1m5 0h2m6 0h1m5 0h1m1 0h1M0 2.5h1m1 0h1m8 0h1m3 0h1m18 0h1m8 0h1m2 0h1m10 0h2m35 0h1m17 0h1m2 0h1m6 0h1m3 0h1m6 0h1m1 0h1M11 3.5h1m4 0h1m2 0h1m10 0h2m2 0h2m6 0h1m2 0h1m8 0h1m4 0h1m9 0h1m9 0h1m3 0h1m1 0h1m9 0h1m5 0h2m1 0h1m7 0h1m5 0h1m2 0h1m1 0h2m2 0h1m1 0h1m9 0h1m2 0h1M6 4.5h1m24 0h1m3 0h1m33 0h1m10 0h1m2 0h2m1 0h1m8 0h1m6 0h1m1 0h1m7 0h1m6 0h1m2 0h1m3 0h2m1 0h1M11 5.5h2m14 0h3m28 0h1m2 0h1m12 0h1m10 0h2m7 0h2m2 0h1m12 0h1m2 0h2m13 0h1m7 0h1m1 0h2m3 0h1M1 6.5h1m4 0h1m12 0h1m9 0h1m1 0h1m12 0h1m9 0h1m7 0h1m35 0h1m2 0h1m2 0h1m24 0h1m10 0h1m3 0h1M12 7.5h2m4 0h1m14 0h2m8 0h1m16 0h1m7 0h1m2 0h1m8 0h1m13 0h1m4 0h1m3 0h1m11 0h1m5 0h1m18 0h1M9 8.5h1m3 0h1m7 0h1m13 0h1m2 0h1m3 0h1m7 0h1m13 0h1m1 0h1m9 0h1m10 0h1m4 0h1m13 0h1m5 0h1m16 0h2m4 0h1m4 0h1M19 9.5h1m22 0h2m8 0h1m1 0h1m8 0h1m1 0h2m4 0h2m8 0h1m2 0h2m1 0h1m1 0h1m25 0h2m10 0h1m12 0h1M12 10.5h1m6 0h1m4 0h1m3 0h1m13 0h1m1 0h1m1 0h1m5 0h1m26 0h1m3 0h2m4 0h1m6 0h2m12 0h1m1 0h1m14 0h1m1 0h1m10 0h1M2 11.5h1m3 0h1m15 0h1m1 0h1m15 0h1m16 0h1m12 0h1m2 0h1m5 0h3m14 0h1m5 0h1m1 0h1m1 0h2m6 0h1m4 0h1m3 0h1m1 0h2m2 0h1m5 0h1m8 0h1m1 0h1M2 12.5h1m5 0h1m3 0h1m6 0h1m18 0h2m14 0h2m6 0h1m6 0h1m11 0h1m5 0h1m3 0h1m1 0h1m1 0h2m23 0h2m17 0h2M1 13.5h1m4 0h1m8 0h1m6 0h1m9 0h1m3 0h1m1 0h1m22 0h1m1 0h1m23 0h1m13 0h1m12 0h2m3 0h1m4 0h1m15 0h1m7 0h1M1 14.5h1m9 0h2m4 0h1m1 0h1m8 0h1m9 0h1m5 0h1m18 0h1m21 0h1m7 0h1m8 0h1m8 0h1m7 0h1m7 0h1m1 0h2m2 0h1m8 0h1m2 0h1M2 15.5h1m7 0h1m6 0h1m10 0h1m10 0h1m23 0h1m5 0h1m1 0h1m13 0h1m4 0h1m5 0h1m14 0h2m1 0h1m6 0h1m1 0h1m1 0h1m2 0h1m10 0h1M13 16.5h1m3 0h1m1 0h1m9 0h1m8 0h1m4 0h1m10 0h1m7 0h1m13 0h1m7 0h1m21 0h1m14 0h2m3 0h1M33 17.5h1m1 0h1m18 0h1m6 0h1m14 0h1m3 0h1m10 0h1m3 0h1m1 0h1m9 0h1m7 0h1m7 0h1m3 0h1m2 0h1m4 0h1m8 0h2m2 0h1m1 0h1M2 18.5h1m6 0h1m17 0h3m5 0h1m2 0h1m1 0h1m6 0h1m10 0h1m16 0h1m7 0h1m1 0h1m7 0h2m3 0h1m8 0h1m11 0h1m5 0h1m3 0h1m10 0h1"/>
<path stroke="#e5edf4" d="M12 0.5h1m22 0h2m3 0h1m2 0h2m6 0h1m2 0h1m19 0h1m12 0h1m8 0h1m6 0h1m11 0h1m9 0h1m1 0h1m10 0h1m1 0h1m5 0h1M9 1.5h1m1 0h1m3 0h1m9 0h1m24 0h1m8 0h1m3 0h1m5 0h1m2 0h1m10 0h1m8 0h1m4 0h1m8 0h2m6 0h2M1 2.5h1m6 0h1m3 0h1m4 0h1m1 0h1m4 0h1m15 0h1m13 0h1m7 0h1m6 0h1m5 0h2m1 0h1m14 0h1m2 0h1m1 0h1m21 0h1m8 0h1m7 0h1m1 0h2m7 0h1M0 3.5h1m5 0h1m11 0h1m2 0h3m9 0h1m12 0h1m8 0h1m7 0h2m6 0h1m15 0h2m3 0h1m1 0h1m8 0h1m15 0h1m13 0h1m14 0h1m2 0h1M9 4.5h1m5 0h1m5 0h2m13 0h1m2 0h1m2 0h1m1 0h1m1 0h1m7 0h1m2 0h1m4 0h1m9 0h1m6 0h1m19 0h1m6 0h1m3 0h1m10 0h1m3 0h1m7 0h1m12 0h1m1 0h1M1 5.5h2m6 0h1m5 0h1m3 0h1m1 0h1m33 0h1m4 0h1m2 0h1m16 0h2m1 0h1m3 0h1m21 0h1m13 0h3m7 0h2M13 6.5h1m1 0h1m1 0h1m18 0h2m7 0h2m27 0h1m7 0h2m3 0h1m4 0h1m1 0h1m11 0h2m11 0h1m15 0h1m12 0h1M2 7.5h1m8 0h1m4 0h1m3 0h1m25 0h1m2 0h1m4 0h1m17 0h2m5 0h1m7 0h1m7 0h1m6 0h1m6 0h1m4 0h1m4 0h1m5 0h1m4 0h1m2 0h3m10 0h1m1 0h1M6 8.5h1m4 0h1m10 0h1m20 0h1m2 0h1m18 0h1m5 0h1m8 0h1m2 0h1m4 0h1m13 0h1m23 0h1m16 0h1m2 0h1m3 0h1M2 9.5h1m12 0h1m1 0h1m10 0h1m1 0h1m15 0h1m15 0h1m15 0h2m13 0h1m3 0h2m2 0h2m1 0h1m2 0h1m14 0h1m7 0h1m2 0h1m1 0h1m3 0h1m4 0h1m5 0h1M1 10.5h2m10 0h1m3 0h1m18 0h1m21 0h1m12 0h1m1 0h2m3 0h1m6 0h1m1 0h1m19 0h1m16 0h1m5 0h1m4 0h1M0 11.5h1m8 0h1m5 0h1m1 0h2m4 0h1m10 0h1m2 0h1m5 0h1m10 0h1m3 0h1m4 0h1m7 0h2m9 0h1m2 0h1m24 0h1m23 0h1m5 0h1m2 0h1M15 12.5h1m5 0h1m21 0h2m13 0h2m1 0h1m18 0h1m2 0h1m8 0h1m5 0h1m15 0h1m1 0h1m10 0h1m9 0h2M11 13.5h1m6 0h1m2 0h1m8 0h2m3 0h1m4 0h1m4 0h1m6 0h1m6 0h1m9 0h1m3 0h1m4 0h2m2 0h1m5 0h1m3 0h1m2 0h1m6 0h2m13 0h1m3 0h1m9 0h1m5 0h2m3 0h1M0 14.5h1m19 0h1m3 0h1m40 0h1m8 0h1m7 0h1m3 0h1m9 0h2m20 0h1m3 0h1m3 0h1m10 0h1m5 0h1m6 0h1M6 15.5h1m6 0h1m1 0h2m7 0h2m9 0h1m4 0h1m5 0h1m5 0h1m20 0h1m10 0h1m2 0h1m4 0h1m2 0h1m7 0h1m11 0h1m8 0h1m6 0h1m8 0h1m2 0h1m2 0h1m3 0h1M2 16.5h1m5 0h1m2 0h2m9 0h1m55 0h1m3 0h1m8 0h2m11 0h1m7 0h1m2 0h1m3 0h1m4 0h1m2 0h1m2 0h1m9 0h1m1 0h1m1 0h1M2 17.5h1m6 0h1m1 0h2m17 0h2m9 0h1m4 0h1m15 0h1m1 0h1m6 0h1m1 0h2m3 0h1m6 0h1m18 0h1m1 0h1m11 0h1m7 0h1m4 0h1m5 0h1m4 0h1m3 0h1M0 18.5h1m18 0h1m14 0h1m7 0h2m6 0h1m3 0h1m10 0h1m12 0h1m16 0h1m1 0h1m4 0h2m2 0h1m16 0h1m3 0h1m2 0h1m13 0h1m5 0h1"/>
<path stroke="#eef1f6" d="M2 0.5h1m8 0h1m18 0h1m11 0h1m21 0h1m4 0h1m8 0h2m12 0h1m2 0h1m16 0h1m6 0h1m6 0h1M1 1.5h1m22 0h1m5 0h1m4 0h1m11 0h1m6 0h1m22 0h2m8 0h2m15 0h1m7 0h1m5 0h1m16 0h1m6 0h1m5 0h1M6 2.5h1m2 0h1m4 0h1m3 0h1m1 0h2m14 0h1m8 0h1m9 0h1m3 0h1m11 0h1m2 0h1m5 0h1m2 0h1m11 0h1m3 0h1m16 0h1m2 0h1m10 0h1m10 0h2m3 0h1m3 0h2M8 3.5h1m6 0h1m9 0h1m10 0h1m23 0h1m21 0h1m23 0h1m1 0h1m5 0h1m2 0h1m4 0h1m8 0h1m2 0h1m2 0h1m5 0h1M8 4.5h1m31 0h1m11 0h2m4 0h1m1 0h2m1 0h1m9 0h2m7 0h1m2 0h1m6 0h1m10 0h1m7 0h1m27 0h1m1 0h1M6 5.5h2m23 0h1m4 0h1m2 0h1m4 0h1m1 0h1m18 0h1m2 0h1m4 0h1m3 0h1m10 0h1m3 0h1m8 0h2m16 0h1m10 0h1m4 0h1M8 6.5h2m1 0h1m4 0h1m5 0h1m1 0h2m1 0h1m7 0h1m19 0h1m1 0h2m1 0h1m8 0h1m3 0h1m4 0h1m23 0h1m9 0h1m1 0h1m3 0h1m5 0h1m2 0h1m9 0h1m7 0h1m5 0h1M0 7.5h1m13 0h2m1 0h1m1 0h1m1 0h2m3 0h1m4 0h1m6 0h1m1 0h1m6 0h1m16 0h1m9 0h1m8 0h1m1 0h1m2 0h1m15 0h1m13 0h1m4 0h1m14 0h1m3 0h1m2 0h1m4 0h2M20 8.5h1m3 0h1m8 0h1m2 0h1m7 0h1m9 0h2m12 0h1m4 0h1m25 0h1m3 0h1m16 0h1m6 0h1m5 0h1m7 0h1m6 0h1M8 9.5h1m2 0h3m4 0h1m2 0h1m12 0h1m1 0h1m7 0h1m16 0h1m12 0h1m5 0h1m14 0h2m17 0h1m6 0h1m2 0h1m21 0h1M15 10.5h1m6 0h1m7 0h2m28 0h1m1 0h1m6 0h1m10 0h1m1 0h1m21 0h1m9 0h1m4 0h1m6 0h1m4 0h1m1 0h1m4 0h2m2 0h1m5 0h1M1 11.5h1m14 0h1m3 0h2m8 0h3m2 0h1m3 0h1m5 0h1m6 0h2m10 0h1m13 0h1m4 0h1m4 0h1m35 0h1m13 0h1m10 0h1m1 0h1M9 12.5h3m1 0h1m2 0h1m1 0h1m10 0h1m1 0h1m20 0h1m7 0h1m10 0h1m1 0h2m2 0h3m21 0h1m10 0h1m2 0h1m3 0h1m14 0h1m7 0h1m1 0h1m6 0h1M8 13.5h1m14 0h1m36 0h1m7 0h1m2 0h1m18 0h1m52 0h1M13 14.5h1m4 0h1m4 0h1m12 0h1m15 0h3m2 0h1m2 0h1m3 0h1m3 0h2m3 0h1m5 0h1m8 0h2m4 0h1m6 0h1m4 0h1m34 0h1m4 0h1M7 15.5h1m1 0h1m4 0h1m7 0h1m9 0h1m22 0h1m8 0h1m12 0h2m3 0h1m11 0h1m9 0h1m5 0h1m7 0h1m3 0h1m14 0h1m3 0h1m6 0h1m2 0h1M6 16.5h1m7 0h1m3 0h1m31 0h1m7 0h1m1 0h1m2 0h1m8 0h3m2 0h1m1 0h1m15 0h1m24 0h1m2 0h1m5 0h1m5 0h1m5 0h1m1 0h1M0 17.5h2m3 0h1m2 0h1m5 0h1m3 0h1m4 0h1m10 0h1m14 0h1m13 0h1m19 0h1m28 0h1m16 0h1m4 0h1m3 0h1M1 18.5h1m9 0h1m3 0h1m6 0h1m7 0h1m5 0h1m8 0h1m6 0h1m8 0h4m4 0h1m4 0h1m4 0h1m19 0h1m1 0h1m12 0h1m6 0h1m13 0h1m1 0h1m7 0h2"/>
<path stroke="#f3f2f2" d="M1 0.5h1m6 0h2m5 0h1m2 0h1m3 0h1m2 0h1m5 0h1m2 0h1m4 0h1m10 0h1m1 0h1m2 0h1m1 0h1m15 0h1m8 0h1m5 0h1m5 0h1m7 0h1m1 0h1m25 0h2m1 0h1m3 0h1m10 0h1M2 1.5h1m5 0h1m1 0h1m1 0h1m3 0h1m3 0h1m16 0h1m2 0h1m4 0h1m14 0h1m7 0h1m4 0h1m29 0h1m6 0h1m16 0h1m6 0h1m6 0h1m3 0h2M4 2.5h1m5 0h1m5 0h1m6 0h1m7 0h1m1 0h1m1 0h1m3 0h1m4 0h1m5 0h1m1 0h1m8 0h1m10 0h1m4 0h1m7 0h1m1 0h2m13 0h1m3 0h1m1 0h1m15 0h1m2 0h1m10 0h1m4 0h1M5 3.5h1m1 0h1m4 0h1m19 0h1m16 0h2m2 0h1m16 0h1m39 0h1m21 0h1m5 0h1m7 0h2m1 0h1M1 4.5h1m5 0h1m4 0h1m1 0h1m3 0h2m3 0h1m2 0h1m18 0h1m3 0h1m21 0h1m6 0h1m9 0h1m19 0h1m21 0h1m1 0h1m4 0h1m4 0h1m7 0h1M10 5.5h1m5 0h1m7 0h1m9 0h2m4 0h1m1 0h1m2 0h1m3 0h1m3 0h1m3 0h1m4 0h1m1 0h1m13 0h2m24 0h1m1 0h1m14 0h1m20 0h2m2 0h1m1 0h1M0 6.5h1m1 0h1m9 0h1m5 0h1m4 0h1m26 0h1m10 0h1m8 0h1m26 0h1m5 0h1m22 0h1m3 0h2m9 0h1m4 0h1M6 7.5h1m1 0h1m14 0h1m29 0h1m1 0h1m1 0h1m3 0h1m1 0h1m13 0h1m4 0h1m7 0h1m17 0h1m3 0h1m18 0h1m9 0h1M2 8.5h1m7 0h1m3 0h1m2 0h3m3 0h1m1 0h1m5 0h1m2 0h1m2 0h1m2 0h1m11 0h1m4 0h1m11 0h2m8 0h1m4 0h1m9 0h2m2 0h1m5 0h1m10 0h1m2 0h1m23 0h1m8 0h1M6 9.5h1m2 0h1m29 0h1m7 0h1m5 0h1m3 0h1m15 0h1m8 0h1m9 0h1m1 0h1m11 0h1m22 0h1m1 0h1m10 0h1m5 0h1M6 10.5h1m9 0h1m1 0h1m2 0h1m12 0h1m2 0h1m9 0h1m2 0h1m2 0h3m1 0h1m6 0h1m25 0h1m1 0h1m1 0h1m8 0h1m4 0h1m9 0h1m4 0h1m1 0h1m15 0h1m9 0h1M10 11.5h1m22 0h1m12 0h1m56 0h1m4 0h1m13 0h1m7 0h1m1 0h1m8 0h1m6 0h1M17 12.5h1m2 0h1m1 0h2m66 0h1m3 0h1m11 0h1m23 0h1m17 0h1M16 13.5h1m17 0h1m9 0h1m73 0h1m15 0h1M2 14.5h1m3 0h1m1 0h2m11 0h2m7 0h1m2 0h2m2 0h1m1 0h3m4 0h1m31 0h1m8 0h1m15 0h1m11 0h1m5 0h1m16 0h1m12 0h1M5 15.5h1m2 0h1m12 0h1m1 0h1m6 0h1m2 0h1m2 0h2m22 0h1m41 0h1m26 0h1m8 0h1M35 16.5h3m1 0h1m6 0h1m5 0h2m3 0h1m3 0h1m7 0h1m10 0h1m6 0h1m15 0h1m6 0h1m7 0h1m15 0h1m2 0h2M15 17.5h1m4 0h1m1 0h1m2 0h1m10 0h1m13 0h1m2 0h1m1 0h1m4 0h1m41 0h2m10 0h1m2 0h1m14 0h1m18 0h1M6 18.5h1m7 0h1m1 0h1m6 0h2m6 0h1m17 0h1m23 0h1m8 0h1m4 0h1m4 0h1m11 0h1m17 0h1m1 0h1m13 0h1m2 0h1m1 0h1"/>
<path stroke="#f4ecea" d="M0 0.5h1m9 0h1m3 0h1m8 0h1m21 0h1m1 0h1m1 0h1m10 0h1m7 0h1m1 0h1m37 0h1m1 0h1m3 0h1m3 0h1m2 0h1m1 0h1m18 0h2M7 1.5h1m25 0h2m6 0h1m13 0h1m1 0h1m12 0h1m11 0h1m49 0h1m3 0h1m1 0h1M25 2.5h1m23 0h1m3 0h1m6 0h1m7 0h1m13 0h1m7 0h1m12 0h2m5 0h1m3 0h1m17 0h1M4 3.5h1m9 0h1m22 0h1m30 0h1m8 0h1m12 0h1m45 0h1M11 4.5h1m21 0h2m12 0h1m2 0h1m17 0h1m8 0h1m36 0h1m2 0h2m5 0h1m9 0h1m8 0h1M0 5.5h1m3 0h1m3 0h1m5 0h1m2 0h1m2 0h1m4 0h1m11 0h1m12 0h1m1 0h1m29 0h1m7 0h1m17 0h1m1 0h1m1 0h1m5 0h1m12 0h2m5 0h1m2 0h1m8 0h1M5 6.5h1m26 0h3m4 0h1m7 0h1m5 0h1m10 0h1m3 0h1m10 0h1m10 0h1m17 0h1m8 0h1m20 0h1m3 0h2m5 0h1M7 7.5h1m24 0h1m12 0h1m4 0h1m18 0h1m8 0h1m2 0h1m28 0h1m13 0h1m18 0h1m5 0h1M5 8.5h1m39 0h1m1 0h1m34 0h1m25 0h1m1 0h1m3 0h1m16 0h2m1 0h1m2 0h1m11 0h1M1 9.5h1m21 0h1m9 0h1m6 0h1m4 0h1m4 0h1m9 0h1m27 0h1m30 0h1m3 0h1m13 0h2m12 0h1M0 10.5h1m8 0h1m4 0h1m8 0h1m44 0h1m19 0h1m17 0h1m27 0h1m1 0h1M5 11.5h1m8 0h1m10 0h1m15 0h1m5 0h1m2 0h1m4 0h1m21 0h1m39 0h2m18 0h1M7 12.5h1m26 0h1m14 0h1m3 0h1m2 0h2m10 0h1m13 0h1m35 0h1m3 0h1m3 0h1M0 13.5h1m1 0h1m4 0h1m2 0h1m3 0h1m10 0h1m7 0h1m3 0h1m11 0h2m4 0h2m53 0h1M14 14.5h3m8 0h1m5 0h1m3 0h1m11 0h1m1 0h2m19 0h1m6 0h1m12 0h1m19 0h1m3 0h1m2 0h1m5 0h2m6 0h1m3 0h1m13 0h1M45 15.5h1m1 0h1m1 0h1m8 0h1m11 0h1m8 0h1m28 0h1m23 0h1m12 0h1m3 0h1M4 16.5h2m3 0h1m5 0h1m5 0h1m1 0h1m1 0h1m5 0h1m1 0h2m5 0h1m4 0h1m22 0h1m2 0h1m16 0h1m1 0h1m3 0h1M16 17.5h1m20 0h1m7 0h1m6 0h1m15 0h1m1 0h1m17 0h1m19 0h1m1 0h1m30 0h1m1 0h1M8 18.5h1m4 0h1m11 0h1m6 0h1m4 0h1m1 0h1m17 0h1m54 0h1m34 0h2"/>
<path stroke="#f5e5e2" d="M16 0.5h1m3 0h1m11 0h1m44 0h1m12 0h1m15 0h1m10 0h1m6 0h1m7 0h1m1 0h1M23 1.5h1m8 0h1m16 0h1m3 0h1m36 0h1m52 0h1m7 0h1M32 2.5h1m4 0h1m18 0h1m7 0h1m52 0h2m4 0h1m21 0h1M20 3.5h1m35 0h1m88 0h1M0 4.5h1m15 0h1m13 0h1m1 0h1m8 0h1m14 0h1m33 0h1m47 0h1m6 0h1m3 0h1M22 5.5h2m6 0h1m1 0h1m84 0h1M4 6.5h1m9 0h1m5 0h2m4 0h1m3 0h1m9 0h2m7 0h1m6 0h1m31 0h1m21 0h1m21 0h1m1 0h1m12 0h1M4 7.5h2m4 0h1m19 0h1m6 0h1m3 0h1m14 0h1M0 8.5h2m6 0h1m21 0h1m46 0h2m11 0h1m14 0h1m17 0h1m14 0h1M0 9.5h1m13 0h1m5 0h1m10 0h2m4 0h1m11 0h1m20 0h1m12 0h1m21 0h1m4 0h1m23 0h1m6 0h1m1 0h1m5 0h1M8 10.5h1m1 0h1m14 0h1m6 0h1m2 0h1m9 0h1m10 0h1m38 0h1m36 0h1m10 0h1m1 0h1m1 0h1M26 11.5h1m22 0h1m10 0h1m29 0h1m14 0h1m30 0h1M25 12.5h1m6 0h2m6 0h2m8 0h1m13 0h1m23 0h1m19 0h1m1 0h1m6 0h1m5 0h1m7 0h1m11 0h1M5 13.5h1m41 0h1m5 0h1m16 0h1m6 0h1m30 0h1m23 0h1m14 0h1M5 14.5h1m4 0h1m34 0h1m9 0h1m56 0h1m21 0h1m13 0h1M4 15.5h1m15 0h1m20 0h1m8 0h1m2 0h1m14 0h1m19 0h1m45 0h1M0 16.5h1m19 0h1m49 0h1m37 0h1m23 0h1m3 0h1m11 0h1M4 17.5h1m5 0h1m36 0h1m34 0h1m7 0h1m58 0h1M10 18.5h1m1 0h1m5 0h1m1 0h1m12 0h1m21 0h1m4 0h1m7 0h1m19 0h1m7 0h1m20 0h2m12 0h2"/>
<path stroke="#f4dcd9" d="M6 0.5h2m25 0h1m3 0h1m3 0h1m94 0h1m8 0h1M5 1.5h1m16 0h1m3 0h1m78 0h1m2 0h1m13 0h1M5 2.5h1m24 0h1m16 0h1m57 0h1m25 0h1m17 0h1M10 3.5h1m30 0h1m5 0h1m57 0h1M4 4.5h1m5 0h1m14 0h1m97 0h1m7 0h1m19 0h1M18 5.5h1m14 0h1m13 0h1m8 0h1m46 0h1m41 0h1m3 0h1M7 6.5h1m69 0h1M1 7.5h1m33 0h1m69 0h1m11 0h1m29 0h1M7 8.5h1m4 0h1m19 0h1m8 0h1m11 0h1m6 0h1m86 0h1M7 9.5h1m2 0h1m5 0h1m8 0h1m29 0h1m13 0h1m7 0h1m12 0h1m12 0h1m32 0h1m8 0h1M5 10.5h1m20 0h1m6 0h1m7 0h1m28 0h1m6 0h1m27 0h1m11 0h1m19 0h1m11 0h1M4 11.5h1m2 0h1m60 0h1m62 0h1m13 0h1M0 12.5h1m13 0h1m15 0h1m4 0h1m11 0h1m76 0h1m24 0h1M4 13.5h1m15 0h1m128 0h1m1 0h1M7 14.5h1m24 0h1m72 0h1m2 0h1M11 15.5h1m105 0h1m18 0h1M10 16.5h1m5 0h1m13 0h1m10 0h1m5 0h1m1 0h1m5 0h1m8 0h1m40 0h1m11 0h1m13 0h1m13 0h1m3 0h1m1 0h1M7 17.5h1m69 0h1m69 0h1M21 18.5h1m4 0h1m14 0h1m11 0h1m23 0h1m12 0h1m14 0h1m45 0h1"/>
<path stroke="#f3d5d0" d="M21 0.5h1m4 0h1m26 0h1M56 1.5h1m92 0h1M41 2.5h1m28 0h1M20 4.5h1m34 0h1m14 0h1m65 0h1m10 0h1M26 5.5h1m14 0h1m28 0h1m34 0h1m30 0h1m10 0h1m3 0h1M10 6.5h1m94 0h1M25 7.5h1m110 0h1M16 8.5h1m32 0h1m67 0h1m6 0h1m11 0h1M22 9.5h1m3 0h1m8 0h1m28 0h1m3 0h1m43 0h1m4 0h1m14 0h1M7 10.5h1m12 0h1m19 0h1m8 0h1M5 12.5h1m31 0h1m7 0h1m24 0h1m32 0h1m1 0h1m35 0h1M41 13.5h1m94 0h1M4 14.5h1m21 0h1m29 0h1m75 0h1m14 0h1M0 15.5h1m104 0h1m41 0h1M7 16.5h1m18 0h1m5 0h1M26 17.5h1m29 0h1M5 18.5h1m1 0h1m62 0h1m37 0h1m1 0h1m23 0h1"/>
<path stroke="#f2cdc7" d="M4 0.5h2m99 0h1m41 0h1M4 1.5h1m9 0h1m132 0h1M7 2.5h1m14 0h1m111 0h1m1 0h1m10 0h1M26 3.5h1M5 4.5h1m31 0h1M5 5.5h1M136 6.5h1M70 7.5h1m61 0h1M4 8.5h1m21 0h1m118 0h1M4 9.5h1m103 0h1m38 0h1M56 11.5h1m90 0h1M132 12.5h1M26 13.5h1m118 0h1M136 14.5h1M26 15.5h1m29 0h1M56 16.5h1m90 0h1M105 17.5h1m30 0h1M136 18.5h1m12 0h1"/>
<path stroke="#f0c5bf" d="M149 0.5h1M26 2.5h1M105 4.5h1M56 8.5h1M5 9.5h1m50 0h1M4 12.5h1m21 0h1m109 0h1m8 0h1M105 13.5h1M32 17.5h1M4 18.5h1m51 0h1"/>
<path stroke="#efbeb7" d="M56 0.5h1M41 9.5h1"/>
<path stroke="#edb6ad" d="M4 10.5h1M147 12.5h1"/>
</g>
<g transform="translate(500 628.8) scale(2.2353 23.5368)">
<path stroke="#b1cbe0" d="M11 3.5h1M11 11.5h1"/>
<path stroke="#bbd2e4" d="M24 1.5h1M24 4.5h1M11 6.5h1M11 8.5h1m12 0h1M24 9.5h1M24 13.5h1M11 18.5h1"/>
<path stroke="#c7dbea" d="M11 2.5h1m12 0h1M11 17.5h1m12 0h1"/>
<path stroke="#d1e1ee" d="M11 0.5h1m12 0h1M11 1.5h1M24 3.5h1M11 7.5h1M24 10.5h1M24 12.5h1M11 13.5h1M24 14.5h1M11 15.5h1M11 16.5h1M24 18.5h1"/>
<path stroke="#dae7f1" d="M11 5.5h1M11 10.5h1M11 14.5h1M24 15.5h1"/>
<path stroke="#e5edf4" d="M11 4.5h1M24 5.5h1M24 6.5h1m1 0h1M24 7.5h1M18 8.5h1M26 10.5h1m2 0h1M24 11.5h1M11 12.5h1M8 13.5h1M26 14.5h1M24 16.5h1m1 0h1"/>
<path stroke="#eef1f6" d="M29 2.5h1M8 3.5h1m17 0h1m2 0h1M29 5.5h1M29 6.5h1M18 7.5h1m10 0h1M26 8.5h1M21 13.5h1M29 14.5h1M30 15.5h1M26 17.5h1M18 18.5h1"/>
<path stroke="#f3f2f2" d="M18 1.5h1M18 2.5h1m7 0h1m3 0h1M18 3.5h1m2 0h1M21 4.5h1M18 5.5h1M21 6.5h1M26 7.5h1M26 9.5h1M21 11.5h1m4 0h1m2 0h1M18 13.5h1m7 0h1m2 0h2M26 15.5h1m2 0h1M30 17.5h1M29 18.5h1"/>
<path stroke="#f4ecea" d="M8 0.5h1m20 0h1M21 1.5h1m4 0h1m2 0h2M8 2.5h1M8 4.5h1m20 0h1M21 5.5h1M30 6.5h1M8 7.5h1m21 0h1M29 8.5h1M8 9.5h1m2 0h1M30 10.5h1M8 11.5h1m21 0h1M21 12.5h1m7 0h1M32 13.5h1M8 15.5h1m9 0h1m2 0h1M18 17.5h1"/>
<path stroke="#f5e5e2" d="M26 0.5h1M8 1.5h1M9 2.5h1M30 3.5h1m1 0h1M18 4.5h1m11 0h1M9 5.5h1m16 0h1M21 7.5h1M8 8.5h1M18 9.5h1m10 0h1M18 11.5h1m13 0h1M30 12.5h1M18 14.5h1m2 0h1m8 0h1M18 16.5h1M8 17.5h2m19 0h1M8 18.5h1m12 0h1m4 0h1m3 0h1"/>
<path stroke="#f4dcd9" d="M21 0.5h1M32 2.5h1M14 3.5h1m10 0h1M26 4.5h1M8 6.5h1M30 8.5h1M30 9.5h1M8 10.5h1m4 0h2m6 0h1M9 11.5h1m3 0h1M8 12.5h2m8 0h1M13 13.5h2M8 14.5h1m23 0h1M9 15.5h1m22 0h1M8 16.5h1m12 0h1m7 0h2m1 0h1M10 17.5h1m10 0h1m10 0h1"/>
<path stroke="#f3d5d0" d="M9 0.5h1m4 0h1m3 0h1m11 0h1M13 1.5h1M0 4.5h1m8 0h1m22 0h1M8 5.5h1M18 6.5h1M13 7.5h1m3 0h1M14 8.5h1m6 0h1m10 0h1M21 9.5h1M0 10.5h1m17 0h1M26 12.5h1m5 0h1M9 13.5h1M13 17.5h1m11 0h1"/>
<path stroke="#f2cdc7" d="M7 1.5h1m1 0h1M21 2.5h1M7 3.5h1m1 0h1M0 5.5h1m13 0h1m15 0h1M20 6.5h1m11 0h1M9 7.5h1m4 0h1m17 0h1M13 8.5h1M10 9.5h1M9 10.5h2m20 0h1M14 11.5h1M1 13.5h1m17 0h1M0 14.5h1m8 0h1M0 15.5h1m13 0h1m8 0h1m7 0h1M9 16.5h1m4 0h1M14 17.5h1m8 0h1m7 0h1"/>
<path stroke="#f0c5bf" d="M31 0.5h1M1 1.5h1m29 0h1M0 2.5h1m9 0h1m14 0h1M15 3.5h1M13 4.5h1m6 0h1M10 5.5h1m2 0h1m11 0h1M9 6.5h1m4 0h1m10 0h1m5 0h1M0 7.5h1m9 0h1m14 0h1m5 0h1M9 8.5h1m15 0h1M9 9.5h1M32 10.5h1M0 11.5h1m6 0h1m11 0h1m11 0h1M14 12.5h1m10 0h1m5 0h1M0 13.5h1m9 0h1m6 0h1m7 0h1M10 14.5h1M1 15.5h1m18 0h1m4 0h1M13 16.5h1M9 18.5h1m4 0h1"/>
<path stroke="#efbeb7" d="M10 0.5h1m6 0h1M10 1.5h1m8 0h2m2 0h1m1 0h1m6 0h1M7 2.5h1m5 0h1m3 0h1M0 3.5h1m9 0h1M10 4.5h1m3 0h1m8 0h1m1 0h1m5 0h1M17 5.5h1m1 0h1m11 0h1M0 6.5h1m2 0h1m3 0h1m2 0h1m2 0h1M16 7.5h1M31 8.5h1M0 9.5h2m12 0h1m16 0h1M17 10.5h1M25 11.5h1M0 12.5h1m9 0h1M7 13.5h1m4 0h1M13 14.5h2m16 0h1M10 15.5h1m2 0h1m5 0h1M0 16.5h1m18 0h1M0 17.5h1M25 18.5h1m5 0h2"/>
<path stroke="#edb6ad" d="M0 0.5h1m6 0h1m5 0h1m6 0h1m4 0h1m6 0h1M0 1.5h1m1 0h1m14 0h1M1 2.5h1m13 0h1m15 0h1M1 3.5h1m11 0h1m3 0h1m1 0h2m2 0h1m7 0h1M7 5.5h1M1 6.5h1m15 0h1M1 7.5h2M10 8.5h1m8 0h2M13 9.5h1m3 0h1m5 0h1m8 0h1M3 10.5h1m3 0h1m11 0h1m5 0h1M17 11.5h1M19 12.5h1M7 14.5h1m17 0h1M2 15.5h1m25 0h1M3 16.5h1m16 0h1m4 0h1m5 0h1M4 17.5h1m14 0h2m1 0h1m5 0h1M0 18.5h1m6 0h1m2 0h1m2 0h1m6 0h1m2 0h1"/>
<path stroke="#ebaea4" d="M3 1.5h2m9 0h1m13 0h1M2 2.5h1m11 0h1m4 0h2m2 0h1M2 3.5h2M2 4.5h2m3 0h1m4 0h1m4 0h1M1 5.5h1m30 0h1M12 6.5h1m6 0h1m3 0h1M3 7.5h2m2 0h1m4 0h1m2 0h1m3 0h2m2 0h1m3 0h1M0 8.5h2m1 0h1m3 0h1m9 0h1m5 0h1M2 9.5h2m15 0h2m4 0h1M1 10.5h1m18 0h1m2 0h1m4 0h1M1 11.5h1m1 0h1m2 0h1m3 0h1m12 0h1m4 0h1M3 12.5h1m9 0h1m9 0h1M16 13.5h1m3 0h1m2 0h1m4 0h1m2 0h1M1 14.5h1m14 0h1m3 0h1M3 15.5h1m3 0h1M7 16.5h1M1 17.5h1m5 0h1m9 0h1M3 18.5h1m8 0h1m4 0h1"/>
<path stroke="#e9a298" d="M1 0.5h2m16 0h1M6 1.5h1m15 0h1M5 2.5h1m10 0h1M6 3.5h1m9 0h1M1 4.5h1m4 0h1m8 0h2m2 0h1M2 5.5h2m11 0h1m4 0h1m2 0h1m4 0h1M16 6.5h1m11 0h1M6 7.5h1m21 0h1M16 8.5h1M28 9.5h1M4 10.5h1m10 0h1m11 0h1M20 11.5h1m1 0h1M1 12.5h1m2 0h1m12 0h1M27 13.5h1M17 14.5h1m1 0h1m3 0h1M16 15.5h1M17 16.5h1m5 0h1m4 0h1M3 17.5h1M1 18.5h1m17 0h1"/>
<path stroke="#e6988d" d="M3 0.5h1m12 0h1M15 1.5h2M3 2.5h1M4 3.5h1m7 0h1m9 0h1m4 0h2m4 0h1M4 4.5h1M4 5.5h1m7 0h1m3 0h1M4 6.5h1m10 0h1m6 0h1m4 0h1M22 7.5h1M4 8.5h1m10 0h1m6 0h1M6 9.5h1m15 0h1M2 10.5h1m9 0h1M2 11.5h1M7 12.5h1m8 0h1M3 13.5h1m1 0h1M3 14.5h1m8 0h1m9 0h1m4 0h2M5 15.5h1m11 0h1M1 16.5h1m8 0h1M2 17.5h1m13 0h1M15 18.5h1"/>
<path stroke="#e48f82" d="M4 0.5h1m18 0h1M27 1.5h1M4 2.5h1m7 0h1M5 4.5h1m21 0h2M6 5.5h1m15 0h1M2 8.5h1m3 0h1m5 0h1m15 0h1M7 9.5h1m25 0h1M16 10.5h1M15 11.5h2M2 12.5h1m12 0h1m4 0h1m7 0h1m4 0h1M2 13.5h1m1 0h1m1 0h1M15 15.5h1m11 0h1M2 16.5h1m9 0h1m3 0h1m5 0h1m4 0h1M6 17.5h1m5 0h1m2 0h1M2 18.5h1m13 0h1m5 0h1m4 0h1"/>
<path stroke="#e18375" d="M6 0.5h1m5 0h1m15 0h1M5 1.5h1M6 2.5h1m15 0h1m4 0h2M22 4.5h1M5 5.5h1M2 6.5h1m3 0h1M6 10.5h1m15 0h1M27 11.5h1M12 12.5h1M15 13.5h1m17 0h1M4 14.5h1m10 0h1M4 15.5h1m7 0h1m9 0h1M4 16.5h1m1 0h1m26 0h1M27 17.5h1m5 0h1M28 18.5h1"/>
<path stroke="#de796b" d="M15 0.5h1M12 1.5h1m20 0h1M5 3.5h1M33 6.5h1M5 8.5h1M4 9.5h2m6 0h1m3 0h1M4 11.5h1m7 0h1m20 0h1M5 12.5h2m15 0h1m4 0h1M2 14.5h1m2 0h2M15 16.5h1M5 17.5h1M4 18.5h3m26 0h1"/>
<path stroke="#db6e60" d="M5 0.5h1m16 0h1m4 0h1M27 5.5h1M5 6.5h1M5 7.5h1m27 0h1M27 8.5h1m5 0h1M15 9.5h1M5 11.5h1M22 13.5h1M6 15.5h1m26 0h1"/>
<path stroke="#d86456" d="M33 0.5h1M33 2.5h1M5 10.5h1m27 0h1M33 14.5h1"/>
<path stroke="#d65b4d" d="M33 4.5h1M27 9.5h1M5 16.5h1"/>
<path stroke="#d35043" d="M33 5.5h1"/>
</g>
</g>
<rect x="161.6" y="611.2" width="338.4" height="17.6" fill="#55a868"/>
<rect x="500" y="611.2" width="76" height="17.6" fill="#ff7f0e"/>
<g font-size="8.7" fill="#262626" text-anchor="end">
<text x="151.5" y="643.1">PDK4</text>
<text x="151.5" y="666.6">TXLNB</text>
<text x="151.5" y="690.2">TMOD4</text>
<text x="151.5" y="713.7">MYH1</text>
<text x="151.5" y="737.2">RYR1</text>
<text x="151.5" y="760.8">TNNT3</text>
<text x="151.5" y="784.3">KLHL41</text>
<text x="151.5" y="807.8">MYL1</text>
<text x="151.5" y="831.4">PYGM</text>
<text x="151.5" y="854.9">MYH2</text>
<text x="151.5" y="878.5">MYBPC1</text>
<text x="151.5" y="902.0">ACTA1</text>
<text x="151.5" y="925.5">CKM</text>
<text x="151.5" y="949.1">NRAP</text>
<text x="151.5" y="972.6">MYL2</text>
<text x="151.5" y="996.1">TNNT1</text>
<text x="151.5" y="1019.7">NEB</text>
<text x="151.5" y="1043.2">DES</text>
<text x="151.5" y="1066.7">PDLIM3</text>
</g>
<linearGradient id="cbb"><stop offset="0.000" stop-color="#8cb0ce"/><stop offset="0.062" stop-color="#a2c0d8"/><stop offset="0.125" stop-color="#b6cfe2"/><stop offset="0.188" stop-color="#cbddec"/><stop offset="0.250" stop-color="#dfe9f2"/><stop offset="0.312" stop-color="#eff2f5"/><stop offset="0.375" stop-color="#f5ebe9"/><stop offset="0.438" stop-color="#f4dcd9"/><stop offset="0.500" stop-color="#f2cec8"/><stop offset="0.562" stop-color="#efbfb8"/><stop offset="0.625" stop-color="#ecb1a8"/><stop offset="0.688" stop-color="#e89d92"/><stop offset="0.750" stop-color="#e38a7c"/><stop offset="0.812" stop-color="#dd7668"/><stop offset="0.875" stop-color="#d86355"/><stop offset="0.938" stop-color="#d35043"/><stop offset="1.000" stop-color="#cf3e32"/></linearGradient>
<rect x="223.9" y="1087" width="291.6" height="29.7" fill="url(#cbb)"/>
<g stroke="#262626" stroke-width="1.2">
<line x1="237.3" y1="1117.2" x2="237.3" y2="1121.7"/>
<line x1="280" y1="1117.2" x2="280" y2="1121.7"/>
<line x1="321.6" y1="1117.2" x2="321.6" y2="1121.7"/>
<line x1="363.6" y1="1117.2" x2="363.6" y2="1121.7"/>
<line x1="406.3" y1="1117.2" x2="406.3" y2="1121.7"/>
<line x1="448.3" y1="1117.2" x2="448.3" y2="1121.7"/>
<line x1="490.1" y1="1117.2" x2="490.1" y2="1121.7"/>
</g>
<g fill="#000">
<text font-size="1000" transform="matrix(0.01724 0 0 0.01540 227.23 1137.10)">-2</text>
<text font-size="1000" transform="matrix(0.01724 0 0 0.01540 269.56 1137.10)">-1</text>
<text font-size="1000" transform="matrix(0.01724 0 0 0.01540 317.19 1137.50)">0</text>
<text font-size="1000" transform="matrix(0.01724 0 0 0.01540 359.67 1137.50)">1</text>
<text font-size="1000" transform="matrix(0.01724 0 0 0.01540 402.21 1135.50)">2</text>
<text font-size="1000" transform="matrix(0.01724 0 0 0.01540 443.11 1136.00)">3</text>
<text font-size="1000" transform="matrix(0.01724 0 0 0.01540 484.33 1134.50)">4</text>
</g>
<g shape-rendering="crispEdges" fill="none" stroke-width="1">
<g transform="translate(157.3 1181.8) scale(2.2507 29.8800)">
<path stroke="#82a9ca" d="M36 8.5h1M39 10.5h1"/>
<path stroke="#90b3d0" d="M1 4.5h1M36 6.5h1M1 9.5h1M36 10.5h1"/>
<path stroke="#9bbbd5" d="M39 0.5h1m17 0h1M36 1.5h1M36 3.5h1M6 7.5h1m50 0h1m10 0h1M36 9.5h1m2 0h1M79 11.5h1M36 12.5h1m20 0h1m10 0h1"/>
<path stroke="#a6c3da" d="M36 0.5h1m23 0h1m51 0h1m3 0h1M24 2.5h1m87 0h1M60 3.5h1M36 4.5h1m18 0h1m4 0h1M1 6.5h1M36 7.5h1M57 9.5h1M36 11.5h1m20 0h1m54 0h1M39 12.5h1M116 13.5h1"/>
<path stroke="#b1cbe0" d="M68 0.5h1M68 1.5h1m18 0h1m24 0h1M1 2.5h1m26 0h1m19 0h1m40 0h1M34 5.5h1m29 0h1m3 0h1M38 6.5h1m21 0h1m3 0h1m47 0h1m27 0h1m4 0h1M43 7.5h1m68 0h1M42 8.5h1m14 0h1m10 0h1m20 0h1M95 9.5h1M6 10.5h1m53 0h1m1 0h1m26 0h1M6 11.5h1M1 12.5h1m36 0h1m25 0h1M30 13.5h1m5 0h1m27 0h1M6 14.5h1"/>
<path stroke="#bbd2e4" d="M1 0.5h1m4 0h1m35 0h1m19 0h1M1 1.5h1m22 0h1m64 0h1m4 0h1M6 2.5h1m29 0h1m20 0h1m4 0h1m1 0h1m3 0h1m2 0h1m1 0h1m42 0h1M57 4.5h1m4 0h1m1 0h1M14 5.5h1m24 0h1m54 0h1M27 6.5h1m14 0h1m1 0h1m12 0h1m58 0h1m20 0h1M23 7.5h1m15 0h1m24 0h2m23 0h1M6 8.5h1m32 0h1m3 0h1m75 0h1M62 9.5h1m1 0h1m3 0h1M30 11.5h1m7 0h2m3 0h1m24 0h1M60 13.5h1m18 0h1M79 14.5h1"/>
<path stroke="#c7dbea" d="M38 0.5h1m12 0h1m12 0h1m4 0h1m34 0h1m15 0h1m18 0h1m6 0h1M8 1.5h1m21 0h1m8 0h1m31 0h1m3 0h1m1 0h1m23 0h1m14 0h1m16 0h1M8 2.5h1m21 0h1m8 0h1m2 0h1m36 0h1m14 0h1m44 0h1M1 3.5h1m36 0h1m4 0h1m9 0h1m14 0h1m52 0h1M6 4.5h1m1 0h1m4 0h1m11 0h1m12 0h2m72 0h1M1 5.5h1m40 0h2m31 0h1m40 0h1m8 0h1m20 0h1M5 6.5h2m8 0h1m23 0h1m10 0h1m4 0h2m18 0h1m38 0h1m5 0h1m4 0h1M56 7.5h1m30 0h1m12 0h1m15 0h1M12 8.5h1m38 0h1m1 0h2m5 0h1m4 0h1m4 0h1m8 0h1m13 0h1m2 0h1M6 9.5h1m26 0h1m9 0h1m7 0h1m3 0h1m17 0h1m1 0h1m3 0h1m20 0h1M1 10.5h1m55 0h1m36 0h1m17 0h1m1 0h1m1 0h1m22 0h1M1 11.5h1M43 12.5h1m7 0h1m21 0h1m15 0h1M6 13.5h1m3 0h1m28 0h1m17 0h1M1 14.5h1m66 0h1"/>
<path stroke="#d1e1ee" d="M13 0.5h1m4 0h2m10 0h1m13 0h1m30 0h1m3 0h1m5 0h1m8 0h1m32 0h1M14 1.5h1m28 0h1m1 0h1m2 0h1m8 0h1m4 0h1m1 0h1m4 0h1m25 0h1m23 0h1M38 2.5h1m21 0h1m14 0h1m19 0h1m25 0h1M27 3.5h1m5 0h2m16 0h1m3 0h1m17 0h1m5 0h1m14 0h1m24 0h2m24 0h1M23 4.5h1m4 0h1m1 0h1m12 0h1m4 0h1m19 0h1m2 0h1m1 0h1m1 0h1m9 0h2m3 0h1m2 0h1m1 0h1m4 0h1m15 0h1m29 0h1M8 5.5h1m27 0h1m1 0h1m5 0h1m12 0h1m2 0h1m8 0h1m9 0h1m26 0h1m7 0h1m4 0h1M7 6.5h1m3 0h1m11 0h1m28 0h1m5 0h1m9 0h1m10 0h1m5 0h1m3 0h1m4 0h1m11 0h1M1 7.5h1m5 0h1m30 0h1m3 0h1m2 0h1m2 0h1m5 0h1m5 0h1m1 0h1m12 0h1m3 0h1m10 0h1m13 0h1m9 0h1m4 0h1m17 0h1M13 8.5h3m8 0h1m23 0h1m15 0h1m6 0h1m22 0h1m17 0h1m1 0h1m10 0h2m6 0h1M28 9.5h1m1 0h1m7 0h1m3 0h1m17 0h1m4 0h1m5 0h1m5 0h1m4 0h1m3 0h1m2 0h1m1 0h1m12 0h3m5 0h1m3 0h1m23 0h1m2 0h1M30 10.5h1m3 0h1m29 0h2m13 0h1m6 0h1m3 0h1m13 0h1m1 0h1m12 0h2m10 0h1m13 0h2M42 11.5h1m9 0h1m18 0h1m3 0h1m24 0h1m15 0h1m2 0h1m24 0h1M6 12.5h1m7 0h2m3 0h1m3 0h1m6 0h1m3 0h1m7 0h1m1 0h2m10 0h1m21 0h1m5 0h1m55 0h1m5 0h2M1 13.5h1m52 0h1m10 0h1m2 0h1m26 0h1m23 0h1m11 0h1m13 0h1M15 14.5h1m14 0h1m5 0h1m8 0h1m52 0h1m38 0h1"/>
<path stroke="#dae7f1" d="M2 0.5h1m1 0h1m2 0h2m14 0h1m4 0h1m6 0h1m5 0h1m12 0h2m9 0h1m5 0h1m2 0h1m3 0h1m7 0h1m5 0h1m3 0h2m15 0h1m5 0h1m11 0h2M4 1.5h1m6 0h1m4 0h1m6 0h1m18 0h1m12 0h1m9 0h2m11 0h1m12 0h1m8 0h1m30 0h1m8 0h1M11 2.5h1m11 0h1m3 0h1m7 0h1m5 0h1m8 0h1m7 0h1m6 0h1m3 0h1m16 0h2m14 0h1m11 0h1m4 0h1m11 0h1m5 0h1m7 0h1M11 3.5h1m12 0h1m5 0h2m7 0h1m17 0h1m3 0h1m2 0h2m19 0h1m4 0h1m1 0h1m5 0h1m7 0h1m7 0h3m14 0h1m8 0h1M22 4.5h1m17 0h1m9 0h1m2 0h1m7 0h1m16 0h1m5 0h1m13 0h1m2 0h1m29 0h1m13 0h1M15 5.5h1m7 0h1m6 0h2m5 0h1m12 0h1m4 0h2m5 0h1m2 0h1m5 0h1m5 0h2m8 0h1m1 0h1m14 0h1m35 0h1M24 6.5h1m3 0h1m5 0h1m8 0h1m1 0h1m1 0h1m3 0h1m10 0h1m15 0h1m7 0h1m4 0h1m3 0h1m9 0h1m7 0h1m5 0h1m23 0h2M3 7.5h1m4 0h1m22 0h1m19 0h1m1 0h1m9 0h1m5 0h1m16 0h1m4 0h1m9 0h1m3 0h1m7 0h1m13 0h1m11 0h1M1 8.5h1m15 0h1m10 0h1m3 0h1m5 0h1m11 0h1m4 0h1m13 0h1m17 0h1m3 0h2m15 0h1m7 0h1m4 0h1m10 0h1m4 0h1m1 0h2M5 9.5h1m8 0h2m24 0h1m4 0h1m12 0h1m8 0h1m2 0h1m7 0h1m5 0h1m2 0h1m2 0h1m46 0h1m1 0h1M8 10.5h1m2 0h1m26 0h1m2 0h3m1 0h1m2 0h1m1 0h1m3 0h2m12 0h1m22 0h1m13 0h1m31 0h2M3 11.5h1m36 0h1m4 0h1m5 0h1m8 0h2m33 0h1m8 0h1M28 12.5h1m11 0h1m24 0h1m11 0h1m8 0h1m5 0h1m2 0h1m4 0h1m3 0h1m9 0h1m4 0h1m13 0h1m10 0h1M8 13.5h1m5 0h1m9 0h1m2 0h1m3 0h1m1 0h1m6 0h1m2 0h1m25 0h1m3 0h1m8 0h1m1 0h1m1 0h1m2 0h1m14 0h1m7 0h1m27 0h1M5 14.5h1m27 0h1m5 0h1m3 0h1m7 0h1m5 0h1m6 0h1m13 0h1m23 0h1m1 0h1m3 0h1m3 0h1m3 0h1m14 0h1m7 0h1m5 0h1"/>
<path stroke="#e5edf4" d="M3 0.5h1m6 0h1m1 0h1m1 0h1m28 0h1m8 0h1m3 0h1m13 0h1m6 0h1m11 0h1m5 0h1m14 0h1m10 0h1m3 0h1m7 0h1m3 0h1m2 0h1m3 0h1M19 1.5h1m8 0h1m11 0h1m6 0h1m12 0h1m12 0h1m5 0h1m10 0h1m5 0h1m7 0h1m25 0h1m1 0h1m12 0h1M3 2.5h1m3 0h1m4 0h2m1 0h3m1 0h1m14 0h1m8 0h3m5 0h1m3 0h1m7 0h1m2 0h1m15 0h1m1 0h2m6 0h1m3 0h1m6 0h1m3 0h1m5 0h1m6 0h1m13 0h1m5 0h1m5 0h1M8 3.5h1m4 0h2m17 0h1m12 0h1m2 0h3m11 0h1m44 0h1m4 0h1m14 0h1M2 4.5h1m2 0h1m21 0h1m3 0h1m5 0h1m4 0h1m11 0h1m4 0h1m5 0h1m8 0h1m14 0h1m4 0h1m11 0h3m4 0h2m6 0h1m11 0h1M6 5.5h1m6 0h1m3 0h2m5 0h1m20 0h1m5 0h1m2 0h1m31 0h1m18 0h1m2 0h1m6 0h1m5 0h1m10 0h1M14 6.5h1m5 0h1m8 0h1m23 0h2m10 0h1m7 0h1m3 0h1m4 0h1m9 0h1m10 0h1m17 0h1m9 0h1m1 0h1m12 0h1M2 7.5h1m1 0h1m5 0h1m1 0h4m13 0h2m1 0h1m11 0h1m7 0h1m2 0h1m3 0h1m13 0h1m4 0h1m3 0h2m8 0h1m1 0h1m1 0h1m23 0h1m4 0h1m6 0h2m9 0h1m2 0h1M18 8.5h1m1 0h1m9 0h1m3 0h2m16 0h1m3 0h1m16 0h3m9 0h1m14 0h1m19 0h1m23 0h1m1 0h1M3 9.5h1m13 0h1m5 0h3m1 0h1m6 0h2m1 0h1m6 0h1m2 0h1m2 0h1m18 0h1m11 0h1m1 0h1m9 0h2m6 0h1m11 0h1m17 0h1m1 0h1M14 10.5h2m1 0h1m5 0h1m1 0h1m25 0h1m9 0h1m7 0h1m1 0h1m1 0h1m1 0h1m11 0h1m12 0h1m1 0h1m12 0h1m5 0h1m3 0h1m10 0h1m4 0h1m2 0h1M22 11.5h1m21 0h1m3 0h1m7 0h1m16 0h1m11 0h1m3 0h2m3 0h1m38 0h1m11 0h1M5 12.5h1m1 0h2m9 0h1m6 0h1m5 0h1m31 0h1m11 0h1m3 0h1m14 0h1m11 0h1m1 0h1m3 0h1m3 0h1m3 0h1m18 0h1m5 0h1M12 13.5h1m7 0h1m2 0h1m5 0h1m2 0h1m4 0h1m3 0h2m7 0h1m1 0h1m2 0h1m15 0h1m3 0h1m9 0h1m1 0h1m2 0h2m8 0h1m1 0h1m10 0h1m1 0h1m27 0h1m2 0h1M11 14.5h1m41 0h1m5 0h1m2 0h1m2 0h1m3 0h1m3 0h1m21 0h1m9 0h1m11 0h1m1 0h2"/>
<path stroke="#eef1f6" d="M22 0.5h1m2 0h1m3 0h1m1 0h1m1 0h2m5 0h1m4 0h2m3 0h1m15 0h1m6 0h1m13 0h1m12 0h2m3 0h2m36 0h1M6 1.5h1m8 0h1m4 0h1m6 0h1m4 0h3m9 0h1m7 0h1m1 0h1m1 0h1m13 0h1m21 0h1m9 0h1m11 0h1m5 0h3m2 0h1m10 0h1m9 0h1M5 2.5h1m23 0h1m1 0h1m8 0h1m13 0h1m4 0h1m1 0h1m16 0h1m21 0h1m5 0h1m8 0h1m2 0h1m3 0h1m9 0h1m14 0h1M17 3.5h1m1 0h1m5 0h1m9 0h1m11 0h1m10 0h1m10 0h2m6 0h2m5 0h1m1 0h1m8 0h1m3 0h1m4 0h1m20 0h1m6 0h1m2 0h1m8 0h1M3 4.5h1m6 0h3m3 0h1m12 0h1m2 0h2m1 0h1m8 0h2m5 0h1m4 0h1m1 0h1m7 0h1m2 0h1m2 0h1m4 0h1m9 0h1m4 0h1m9 0h1m1 0h1m12 0h1m2 0h1m16 0h1m1 0h1m3 0h1M3 5.5h1m6 0h2m4 0h1m8 0h1m2 0h1m6 0h1m23 0h1m30 0h1m4 0h1m4 0h3m17 0h1m1 0h1m6 0h1m1 0h1m1 0h1m2 0h2m7 0h1M8 6.5h1m7 0h1m13 0h3m15 0h1m21 0h1m9 0h1m21 0h1m12 0h1m10 0h1m5 0h1m1 0h1m1 0h1m10 0h1M5 7.5h1m5 0h1m5 0h1m2 0h1m1 0h1m1 0h1m3 0h1m11 0h1m8 0h1m8 0h1m12 0h2m4 0h1m7 0h1m9 0h1m2 0h1m22 0h1m18 0h1M2 8.5h1m4 0h1m3 0h1m4 0h1m2 0h1m11 0h1m30 0h2m17 0h1m2 0h1m1 0h1m3 0h1m10 0h2m14 0h1m17 0h1M4 9.5h1m3 0h1m1 0h3m3 0h1m3 0h1m20 0h1m6 0h1m3 0h1m21 0h1m17 0h1m3 0h1m5 0h2m4 0h1m5 0h2m6 0h2m1 0h1m10 0h1m9 0h2M4 10.5h1m15 0h1m6 0h2m2 0h1m1 0h1m1 0h1m27 0h1m18 0h1m2 0h1m6 0h1m2 0h1m2 0h2m7 0h1m5 0h1m4 0h1m14 0h1m9 0h1m3 0h1M10 11.5h1m1 0h1m1 0h1m1 0h1m1 0h1m16 0h1m17 0h2m7 0h4m11 0h2m3 0h1m10 0h1m7 0h1m6 0h1m4 0h1m4 0h1m2 0h1m5 0h1m3 0h1m8 0h1M11 12.5h1m1 0h1m2 0h1m7 0h1m12 0h1m3 0h1m6 0h1m4 0h3m4 0h3m8 0h1m10 0h2m1 0h1m1 0h1m10 0h1m3 0h2m28 0h1m4 0h1M2 13.5h3m6 0h1m4 0h2m4 0h1m11 0h2m2 0h1m7 0h1m1 0h2m13 0h1m32 0h1m11 0h1m2 0h1m2 0h1m5 0h2m1 0h1m13 0h1m1 0h1m4 0h1M3 14.5h2m2 0h1m2 0h1m1 0h1m4 0h1m1 0h1m7 0h3m4 0h1m2 0h2m2 0h1m2 0h1m1 0h1m8 0h1m4 0h1m9 0h2m3 0h1m1 0h1m16 0h1m5 0h1m5 0h1m14 0h1m14 0h1"/>
<path stroke="#f3f2f2" d="M5 0.5h1m9 0h1m1 0h1m6 0h1m2 0h1m9 0h1m9 0h2m10 0h1m1 0h1m22 0h1m3 0h1m2 0h1m15 0h1m7 0h1m1 0h1m4 0h1m18 0h1M2 1.5h1m6 0h1m2 0h1m9 0h1m15 0h1m2 0h1m8 0h2m7 0h1m1 0h1m37 0h1m13 0h1m15 0h1m5 0h1m1 0h1M2 2.5h1m1 0h1m9 0h1m5 0h3m9 0h1m4 0h1m15 0h1m2 0h1m20 0h1m2 0h1m9 0h1m7 0h1m5 0h1m3 0h1m16 0h1m7 0h1m10 0h1M3 3.5h1m1 0h2m8 0h1m2 0h1m1 0h1m2 0h1m4 0h1m8 0h1m18 0h1m6 0h1m2 0h1m9 0h1m10 0h1m1 0h1m3 0h1m7 0h3m1 0h1m2 0h1m4 0h1m25 0h1m1 0h1m1 0h1M4 4.5h1m9 0h2m1 0h1m1 0h1m4 0h1m1 0h1m25 0h1m26 0h2m18 0h1m11 0h1m3 0h1m2 0h2m6 0h1m5 0h1m2 0h1m4 0h1m1 0h1m1 0h1M7 5.5h1m11 0h2m6 0h1m5 0h1m7 0h1m5 0h1m10 0h1m4 0h1m6 0h1m3 0h1m17 0h1m4 0h1m1 0h1m7 0h1m2 0h1m7 0h1m7 0h2m15 0h1m3 0h1M4 6.5h1m7 0h2m3 0h2m6 0h1m7 0h1m1 0h1m1 0h1m2 0h1m20 0h1m9 0h2m8 0h1m5 0h1m2 0h1m5 0h2m1 0h3m2 0h1m2 0h1m19 0h1m7 0h1m5 0h1M16 7.5h1m4 0h1m5 0h1m13 0h1m5 0h1m2 0h1m16 0h1m12 0h2m2 0h1m18 0h1m3 0h1m23 0h1m9 0h1m3 0h1M3 8.5h2m5 0h1m10 0h3m9 0h1m10 0h2m12 0h2m1 0h1m15 0h2m16 0h1m2 0h1m6 0h3m5 0h1m1 0h1m2 0h1m12 0h1m4 0h1m1 0h1m6 0h1M2 9.5h1m4 0h1m5 0h1m5 0h1m2 0h1m6 0h1m2 0h1m16 0h1m4 0h1m6 0h1m10 0h1m12 0h1m25 0h1m5 0h1m1 0h3m13 0h1M2 10.5h2m3 0h1m4 0h1m11 0h1m15 0h1m3 0h1m13 0h2m6 0h1m9 0h1m16 0h1m2 0h1m6 0h1m4 0h1m17 0h2m4 0h1m2 0h1M8 11.5h1m4 0h1m1 0h1m3 0h2m2 0h2m4 0h1m3 0h1m3 0h1m8 0h1m8 0h1m3 0h1m10 0h1m3 0h1m9 0h1m1 0h2m8 0h1m6 0h1m2 0h1m8 0h1m4 0h1m15 0h3m2 0h1m4 0h1M10 12.5h1m1 0h1m14 0h1m5 0h1m24 0h1m10 0h2m3 0h1m35 0h1m2 0h1m1 0h1m5 0h1m3 0h1m5 0h1m4 0h1m4 0h1M5 13.5h1m1 0h1m5 0h1m1 0h1m3 0h1m24 0h1m2 0h1m5 0h1m7 0h2m3 0h1m10 0h2m13 0h1m5 0h1m7 0h1m19 0h1M2 14.5h1m10 0h2m5 0h1m3 0h2m14 0h1m6 0h2m1 0h1m3 0h1m6 0h1m12 0h1m6 0h1m2 0h3m3 0h1m2 0h1m2 0h1m4 0h1m11 0h2m14 0h1m3 0h1m6 0h2m4 0h1"/>
<path stroke="#f4ecea" d="M11 0.5h1m4 0h1m4 0h1m27 0h1m3 0h1m9 0h1m12 0h1m5 0h1m7 0h1m11 0h1m26 0h2m14 0h1m1 0h1M7 1.5h1m2 0h1m2 0h1m3 0h2m12 0h1m3 0h1m1 0h1m15 0h1m9 0h1m10 0h1m6 0h1m2 0h3m11 0h1m6 0h4m18 0h1m10 0h2M10 2.5h1m7 0h1m14 0h1m13 0h1m4 0h1m17 0h1m3 0h1m6 0h1m9 0h1m1 0h1m11 0h1m5 0h1m5 0h1m5 0h1m3 0h1m15 0h1M4 3.5h1m16 0h2m19 0h1m11 0h1m16 0h1m3 0h1m5 0h1m1 0h1m12 0h2m24 0h1m10 0h2m1 0h1m1 0h1m7 0h2M7 4.5h1m13 0h1m12 0h1m28 0h1m17 0h2m8 0h1m4 0h1m8 0h1m16 0h1m2 0h1m1 0h1m1 0h1m8 0h1m2 0h1m5 0h1M0 5.5h1m39 0h1m8 0h1m11 0h1m4 0h2m5 0h1m10 0h2m7 0h1m2 0h1m14 0h2m26 0h1m4 0h1M10 6.5h1m8 0h1m1 0h1m37 0h1m28 0h1m19 0h1m1 0h2m10 0h2m6 0h1m7 0h2M18 7.5h2m5 0h1m7 0h1m1 0h1m10 0h1m14 0h1m4 0h1m3 0h1m3 0h1m1 0h1m11 0h1m19 0h1m25 0h1M5 8.5h1m19 0h1m1 0h1m9 0h1m2 0h1m6 0h1m1 0h1m26 0h1m27 0h1m22 0h1m19 0h1M26 9.5h1m19 0h1m6 0h1m2 0h1m2 0h1m16 0h1m11 0h1m9 0h1m8 0h1m2 0h1m7 0h1m7 0h4m2 0h1m8 0h1m2 0h2M13 10.5h1m5 0h1m2 0h1m3 0h1m2 0h1m17 0h1m1 0h1m2 0h2m2 0h1m13 0h1m6 0h2m2 0h1m2 0h1m16 0h1m8 0h2m11 0h1M4 11.5h2m1 0h1m20 0h1m5 0h1m15 0h1m40 0h2m18 0h1m10 0h1m2 0h1m3 0h1m2 0h1m2 0h1m3 0h1M2 12.5h1m1 0h1m24 0h1m2 0h1m2 0h1m14 0h1m8 0h1m12 0h1m17 0h2m1 0h1m7 0h1m20 0h2M28 13.5h1m16 0h1m5 0h1m4 0h1m2 0h1m7 0h1m2 0h1m1 0h1m7 0h2m11 0h2m4 0h1m1 0h1m1 0h1m3 0h1m24 0h1m3 0h1m1 0h1m2 0h1m5 0h1M8 14.5h1m12 0h1m9 0h1m3 0h1m6 0h1m6 0h1m2 0h1m3 0h1m19 0h1m5 0h1m4 0h1m1 0h1m1 0h2m45 0h1m5 0h1"/>
<path stroke="#f5e5e2" d="M20 0.5h1m37 0h1m34 0h1m4 0h2m3 0h1m4 0h1m5 0h1m8 0h1m10 0h1m1 0h1M25 1.5h1m20 0h1m11 0h1m8 0h1m8 0h1m5 0h2m4 0h1m4 0h1m9 0h1m6 0h1m4 0h1m2 0h1m4 0h2m9 0h1m9 0h1m2 0h1M83 2.5h1m13 0h1m38 0h1m1 0h1M0 3.5h1m1 0h1m4 0h1m4 0h1m3 0h1m23 0h2m2 0h1m1 0h1m5 0h1m21 0h1m16 0h1m8 0h1m10 0h1m5 0h1m5 0h2m12 0h1M18 4.5h1m1 0h1m25 0h2m19 0h1m2 0h1m5 0h1m20 0h1m5 0h1m19 0h1m10 0h1m1 0h1M2 5.5h1m1 0h2m6 0h1m9 0h1m6 0h1m2 0h1m19 0h2m26 0h2m6 0h1m2 0h1m21 0h1m3 0h1M2 6.5h2m22 0h1m14 0h1m24 0h2m1 0h1m4 0h1m9 0h1m33 0h1M26 7.5h1m7 0h1m75 0h1m4 0h1m2 0h1m4 0h1m2 0h1m1 0h1m6 0h2m1 0h1m3 0h1M29 8.5h1m37 0h1m14 0h2m4 0h1m14 0h1m6 0h2m12 0h1m4 0h1m11 0h1m1 0h1M18 9.5h1m2 0h1m9 0h1m31 0h1m2 0h1m13 0h1m18 0h1M0 10.5h1m4 0h1m4 0h1m5 0h1m15 0h1m34 0h1m4 0h1m1 0h1m8 0h1m4 0h1m20 0h1m12 0h1m6 0h2M11 11.5h1m5 0h1m8 0h1m5 0h1m43 0h1m4 0h1m1 0h1m15 0h1m2 0h1m2 0h1m8 0h1m28 0h1M3 12.5h1m17 0h1m4 0h1m20 0h1m1 0h1m17 0h1m12 0h2m14 0h2m1 0h1m17 0h1m8 0h2M18 13.5h1m6 0h1m32 0h1m24 0h1m4 0h1m16 0h1m4 0h1m11 0h1m2 0h1m3 0h1m3 0h1M18 14.5h1m4 0h1m2 0h1m39 0h1m30 0h1m1 0h1m3 0h1m3 0h1m7 0h1m6 0h1m2 0h3m4 0h1"/>
<path stroke="#f4dcd9" d="M32 0.5h1m34 0h1m4 0h1m7 0h2m1 0h1m40 0h1m1 0h1m8 0h1m2 0h1M3 1.5h1m1 0h1m15 0h1m7 0h1m19 0h1m30 0h1m16 0h1m28 0h1m1 0h1m13 0h1M0 2.5h1m45 0h1m20 0h1m8 0h1m22 0h1m1 0h1m8 0h1m15 0h1m14 0h2M29 3.5h1m29 0h1m7 0h1m14 0h1m5 0h1m37 0h1M41 4.5h1m67 0h1m18 0h1M21 5.5h1m24 0h1m1 0h1m27 0h1m6 0h1m19 0h1m20 0h1m13 0h1m2 0h1M9 6.5h1m12 0h1m23 0h1m2 0h1m13 0h1m12 0h1m6 0h1m9 0h1m4 0h1m18 0h1M0 7.5h1m36 0h1m55 0h1m5 0h1m2 0h1m3 0h1m15 0h1m6 0h2m13 0h1M8 8.5h1m32 0h1m24 0h1m5 0h1m7 0h1m16 0h1m24 0h2m18 0h1M0 9.5h1m96 0h1m26 0h1M18 10.5h1m18 0h1m42 0h1m16 0h1m42 0h1M21 11.5h1m3 0h1m1 0h1m3 0h1m9 0h1m7 0h1m8 0h1m10 0h1m27 0h1m25 0h2m1 0h1M0 12.5h1m16 0h1m2 0h1m1 0h1m23 0h1m19 0h1m9 0h1m28 0h1m12 0h1m9 0h1m5 0h2m2 0h1m4 0h1M21 13.5h1m54 0h1m32 0h1m7 0h1m9 0h2m5 0h1M16 14.5h1m5 0h1m35 0h1m8 0h1m12 0h1m37 0h1m9 0h1m14 0h1m3 0h1"/>
<path stroke="#f3d5d0" d="M0 0.5h1m8 0h1m16 0h1m82 0h1m8 0h1M0 1.5h1m25 0h1m45 0h1m36 0h1m1 0h1m29 0h1m1 0h1M25 2.5h2m22 0h1m78 0h1m1 0h1m4 0h1M80 3.5h1m29 0h1m18 0h1M83 4.5h1m4 0h1m35 0h1M26 5.5h1m45 0h1m9 0h1m15 0h1m24 0h1m18 0h1M124 6.5h1m3 0h1M111 7.5h1m5 0h1m6 0h1M9 8.5h1m16 0h1m19 0h1m52 0h1m9 0h1m20 0h1M109 9.5h1m20 0h1m3 0h1m3 0h1M46 10.5h1m77 0h1m3 0h1m5 0h1M2 11.5h1m44 0h1m18 0h2m20 0h1m18 0h1m1 0h1m7 0h1m29 0h1M88 12.5h1m18 0h1m1 0h1m20 0h1M0 13.5h1m25 0h1m91 0h1m23 0h1M32 14.5h1m30 0h1m8 0h1m10 0h1m4 0h1m22 0h1m11 0h2m5 0h1m4 0h1"/>
<path stroke="#f2cdc7" d="M111 0.5h1m16 0h1M117 1.5h1M88 2.5h1m40 0h1M10 3.5h1m15 0h1m91 0h1m9 0h1m1 0h1M0 4.5h1m48 0h1m60 0h1M9 5.5h1m99 0h1M0 6.5h1m128 0h1M97 7.5h1m49 0h1M128 8.5h1M21 10.5h1M0 11.5h1m71 0h1m7 0h1m17 0h1m11 0h1m17 0h1m1 0h1M111 12.5h1m17 0h1M74 13.5h1m49 0h1m10 0h1M0 14.5h1m133 0h1"/>
<path stroke="#f0c5bf" d="M72 2.5h1M9 3.5h1m62 0h1m69 0h1M130 4.5h1M134 5.5h1M142 6.5h1M0 8.5h1m133 0h1M9 9.5h1m132 0h1M142 10.5h1M134 11.5h1m7 0h1M9 12.5h1m42 0h1m71 0h1m17 0h1M97 13.5h1m32 0h1M110 14.5h1m31 0h1"/>
<path stroke="#efbeb7" d="M142 0.5h1M124 2.5h1M109 3.5h1M130 5.5h1M109 6.5h1M109 7.5h1M9 11.5h1M9 13.5h1"/>
<path stroke="#edb6ad" d="M9 2.5h1m99 0h1M9 4.5h1M135 5.5h1M9 7.5h1"/>
<path stroke="#ebaea4" d="M128 5.5h1M9 10.5h1m107 0h1M9 14.5h1m99 0h1"/>
</g>
<g transform="translate(490.4 1181.8) scale(2.2263 29.8800)">
<path stroke="#d1e1ee" d="M18 8.5h1M18 9.5h1"/>
<path stroke="#dae7f1" d="M18 12.5h1"/>
<path stroke="#e5edf4" d="M18 7.5h1"/>
<path stroke="#eef1f6" d="M18 2.5h1M18 4.5h1M35 7.5h1M18 10.5h1M18 13.5h1"/>
<path stroke="#f3f2f2" d="M18 6.5h1M5 8.5h1M28 13.5h1"/>
<path stroke="#f4ecea" d="M18 0.5h1m16 0h1M11 1.5h1m6 0h1m16 0h1M10 5.5h1m7 0h1M5 6.5h1m5 0h1M5 7.5h1M9 8.5h1M14 9.5h1M10 10.5h1m2 0h1M5 11.5h1m12 0h1m16 0h1M10 13.5h1"/>
<path stroke="#f5e5e2" d="M10 0.5h1m2 0h1m16 0h1M21 1.5h1m8 0h1M10 2.5h1M5 3.5h1M10 4.5h1m2 0h1M14 5.5h1m15 0h1M8 6.5h3m2 0h1m6 0h1m7 0h1m1 0h1M10 7.5h2m9 0h1m6 0h1M35 8.5h1M5 9.5h1m4 0h1M11 10.5h1m24 0h1M25 11.5h1M9 12.5h1m17 0h1M5 13.5h1M5 14.5h1m2 0h1m18 0h1"/>
<path stroke="#f4dcd9" d="M20 0.5h1m4 0h1m2 0h1m5 0h1M10 1.5h1m16 0h2M11 2.5h1m15 0h1M18 3.5h1m15 0h1M5 4.5h1m2 0h1m16 0h1m1 0h2m1 0h1M5 5.5h1M8 7.5h2m4 0h1m5 0h1M10 8.5h2m8 0h1m6 0h2m1 0h1M8 9.5h1m21 0h1M10 11.5h1m3 0h1M34 12.5h1M20 13.5h1M11 14.5h1m6 0h1"/>
<path stroke="#f3d5d0" d="M1 0.5h3m1 0h1m2 0h2m9 0h1M7 1.5h1m5 0h1m9 0h1M20 2.5h1m15 0h1M13 3.5h1m11 0h1m4 0h1M2 4.5h1m16 0h3M25 5.5h1m2 0h1m5 0h3M19 6.5h1m1 0h1m13 0h1M13 7.5h1m1 0h1m8 0h1m2 0h1m8 0h1M21 8.5h1M11 9.5h1m1 0h1m6 0h1M5 10.5h1m3 0h1m4 0h1m5 0h1M13 11.5h1m13 0h1m6 0h1M3 12.5h1m1 0h1m4 0h1m2 0h1m6 0h2m6 0h1M9 13.5h1m3 0h1m11 0h1m1 0h1M20 14.5h1"/>
<path stroke="#f2cdc7" d="M14 0.5h1m21 0h1M5 1.5h1m2 0h2m4 0h1m10 0h1m11 0h1M4 2.5h1m3 0h1m4 0h3m6 0h1m5 0h1m5 0h2M8 3.5h1m12 0h2M4 4.5h1m10 0h2m18 0h1M4 5.5h1m17 0h1m4 0h1m4 0h1M3 6.5h1m23 0h1M1 7.5h1m2 0h1m11 0h1m13 0h1m3 0h1M13 8.5h2m1 0h1m2 0h1M1 9.5h1m10 0h1m3 0h1m10 0h2m3 0h1m2 0h1M8 10.5h1m18 0h2m6 0h1M7 11.5h1m1 0h1m1 0h1m8 0h1M11 12.5h2m6 0h1m4 0h2m4 0h1M4 13.5h1m2 0h1m13 0h1m8 0h1m4 0h2M14 14.5h1m1 0h1m13 0h1"/>
<path stroke="#f0c5bf" d="M4 0.5h1m6 0h1m3 0h2m4 0h1m1 0h2m1 0h1m10 0h1M17 1.5h1m2 0h1m13 0h1m1 0h1M1 2.5h1m3 0h1m3 0h1m2 0h1m3 0h1m13 0h1m1 0h1M3 3.5h1m5 0h1m10 0h1M11 4.5h2m1 0h1m19 0h1m1 0h1M3 5.5h1m3 0h2m7 0h1m4 0h1m1 0h1M1 6.5h1m2 0h1m2 0h1m4 0h1m21 0h1m1 0h1M7 7.5h1m9 0h1m5 0h1m1 0h2M2 8.5h1m1 0h1m3 0h1m14 0h1m1 0h1m8 0h1M2 9.5h1m6 0h1m19 0h1m4 0h1m1 0h1M4 10.5h1m11 0h1m2 0h1m5 0h1m3 0h1m2 0h1m1 0h1M8 11.5h1m19 0h2M14 12.5h1m17 0h1m2 0h1M1 13.5h1m6 0h1m2 0h1m2 0h1m22 0h1M9 14.5h1m3 0h1m10 0h1m4 0h1m5 0h3"/>
<path stroke="#efbeb7" d="M6 0.5h2m4 0h1m14 0h1M1 1.5h4m7 0h1m9 0h1m9 0h1M0 2.5h1m6 0h1m11 0h1m1 0h1m3 0h1m11 0h1M1 3.5h1m5 0h1m2 0h2m2 0h3m6 0h1m3 0h2m7 0h1M3 4.5h1m3 0h1m1 0h1m21 0h2m4 0h1M9 5.5h1m1 0h1m1 0h1m6 0h1M15 6.5h1m1 0h1m4 0h1m1 0h1m1 0h1M2 7.5h2m28 0h1M15 8.5h1m10 0h1m5 0h1m3 0h2M3 9.5h1m3 0h1m7 0h1m3 0h1m1 0h2m1 0h1m1 0h1m6 0h1m3 0h1M2 10.5h2m3 0h1m9 0h1m3 0h2m1 0h1m1 0h1m3 0h1M4 11.5h1m10 0h1m20 0h1M7 12.5h2m27 0h2M0 13.5h1m16 0h1m5 0h1m5 0h1m4 0h1M0 14.5h1m6 0h1m2 0h1m4 0h1m12 0h1m5 0h1"/>
<path stroke="#edb6ad" d="M0 0.5h1m16 0h1m14 0h1M15 1.5h2m2 0h1M23 2.5h2m1 0h1m2 0h1m1 0h1M35 3.5h1M17 4.5h1M17 5.5h1m1 0h1m4 0h1m4 0h1M2 6.5h1m11 0h1m1 0h1m6 0h1m1 0h1m11 0h1M22 7.5h1m6 0h1m7 0h1M3 8.5h1m20 0h1m4 0h1M0 9.5h1m3 0h1m20 0h1M0 10.5h1m11 0h1m10 0h1M1 11.5h1m10 0h1m3 0h1m2 0h1m1 0h3m6 0h1M2 12.5h1m12 0h2m5 0h1m6 0h1M3 13.5h1m8 0h1m6 0h1m12 0h1M3 14.5h2m16 0h1m1 0h1"/>
<path stroke="#ebaea4" d="M22 0.5h1m6 0h1m1 0h1M29 1.5h1M2 2.5h1m14 0h1M2 3.5h1m1 0h1m14 0h1m4 0h1m1 0h1m5 0h1M0 4.5h1m21 0h1m1 0h1m1 0h1M1 5.5h2m12 0h1m10 0h1m4 0h1M0 6.5h1m28 0h1m2 0h2M0 7.5h1m11 0h1m6 0h1M1 8.5h1m5 0h1m4 0h1M31 9.5h1M1 10.5h1m13 0h1m15 0h1m1 0h1M0 11.5h1m1 0h2m28 0h1M0 12.5h2m15 0h1m5 0h1m2 0h1M2 13.5h1m19 0h1m1 0h1M1 14.5h2m9 0h1m6 0h1m2 0h1m2 0h2m5 0h1"/>
<path stroke="#e9a298" d="M0 1.5h1m25 0h1M3 2.5h1m29 0h1M0 3.5h1m11 0h1m16 0h1m3 0h1m3 0h1M23 4.5h1M0 5.5h1m5 0h1m5 0h1m24 0h1M31 7.5h1M0 8.5h1m16 0h1m13 0h1m1 0h1M23 9.5h1M6 10.5h1m30 0h1M6 11.5h1m17 0h1m1 0h1m4 0h1m5 0h1M4 12.5h1m26 0h1M6 13.5h1m9 0h1m9 0h1"/>
<path stroke="#e6988d" d="M24 1.5h1m8 0h1M17 3.5h1m13 0h1M1 4.5h1m4 0h1m22 0h1m3 0h1M31 6.5h1M6 7.5h1m26 0h1M17 9.5h1M15 13.5h1M17 14.5h1m15 0h1"/>
<path stroke="#e48f82" d="M6 3.5h1M33 5.5h1M6 6.5h1M6 8.5h1m15 0h1M6 9.5h1M17 11.5h1m15 0h1M31 13.5h1m1 0h1"/>
<path stroke="#e18375" d="M33 0.5h1M6 2.5h1M6 12.5h1m26 0h1M6 14.5h1"/>
<path stroke="#de796b" d="M6 1.5h1m24 0h1M31 14.5h1"/>
</g>
</g>
<rect x="157.3" y="1164.8" width="333.1" height="17" fill="#55a868"/>
<rect x="490.4" y="1164.8" width="84.6" height="17" fill="#ff7f0e"/>
<g font-size="8.9" fill="#262626" text-anchor="end">
<text x="147.5" y="1199.3">GZMB</text>
<text x="147.5" y="1229.2">CD6</text>
<text x="147.5" y="1259.1">GIMAP8</text>
<text x="147.5" y="1289.0">TBC1D10C</text>
<text x="147.5" y="1318.8">IL2RG</text>
<text x="147.5" y="1348.7">CD2</text>
<text x="147.5" y="1378.6">GIMAP7</text>
<text x="147.5" y="1408.5">GZMK</text>
<text x="147.5" y="1438.4">CXCR6</text>
<text x="147.5" y="1468.2">IL2RB</text>
<text x="147.5" y="1498.1">CD3E</text>
<text x="147.5" y="1528.0">CLEC2D</text>
<text x="147.5" y="1557.9">SECTM1</text>
<text x="147.5" y="1587.8">GBP1</text>
<text x="147.5" y="1617.6">GBP5</text>
</g>
<linearGradient id="cbc"><stop offset="0.000" stop-color="#6b98bf"/><stop offset="0.062" stop-color="#84aacb"/><stop offset="0.125" stop-color="#9dbcd6"/><stop offset="0.188" stop-color="#b5cde1"/><stop offset="0.250" stop-color="#cbddec"/><stop offset="0.312" stop-color="#dfe9f2"/><stop offset="0.375" stop-color="#f0f2f4"/><stop offset="0.438" stop-color="#f5e8e6"/><stop offset="0.500" stop-color="#f4d9d5"/><stop offset="0.562" stop-color="#f1c9c3"/><stop offset="0.625" stop-color="#eeb8b0"/><stop offset="0.688" stop-color="#e9a69b"/><stop offset="0.750" stop-color="#e49084"/><stop offset="0.812" stop-color="#df7b6d"/><stop offset="0.875" stop-color="#d96658"/><stop offset="0.938" stop-color="#d35244"/><stop offset="1.000" stop-color="#cf3e32"/></linearGradient>
<rect x="211.7" y="1641" width="298.7" height="29.8" fill="url(#cbc)"/>
<g stroke="#262626" stroke-width="1.2">
<line x1="249" y1="1671.3" x2="249" y2="1675.8"/>
<line x1="289.2" y1="1671.3" x2="289.2" y2="1675.8"/>
<line x1="329" y1="1671.3" x2="329" y2="1675.8"/>
<line x1="370" y1="1671.3" x2="370" y2="1675.8"/>
<line x1="409.7" y1="1671.3" x2="409.7" y2="1675.8"/>
<line x1="450.7" y1="1671.3" x2="450.7" y2="1675.8"/>
<line x1="491.6" y1="1671.3" x2="491.6" y2="1675.8"/>
</g>
<g fill="#000">
<text font-size="1000" transform="matrix(0.01440 0 0 0.01285 238.74 1689.50)">-2</text>
<text font-size="1000" transform="matrix(0.01440 0 0 0.01285 279.52 1691.00)">-1</text>
<text font-size="1000" transform="matrix(0.01440 0 0 0.01285 325.23 1690.40)">0</text>
<text font-size="1000" transform="matrix(0.01440 0 0 0.01285 365.20 1691.00)">1</text>
<text font-size="1000" transform="matrix(0.01440 0 0 0.01285 406.25 1691.70)">2</text>
<text font-size="1000" transform="matrix(0.01440 0 0 0.01285 445.99 1689.50)">3</text>
<text font-size="1000" transform="matrix(0.01440 0 0 0.01285 486.21 1689.50)">4</text>
</g>
<g shape-rendering="crispEdges" fill="none" stroke-width="1">
<g transform="translate(152 1739.8) scale(2.3500 11.1800)">
<path stroke="#3a70a5" d="M28 7.5h1M19 9.5h1M108 10.5h1M19 17.5h1"/>
<path stroke="#4075a8" d="M52 8.5h1M52 9.5h1M19 11.5h1M108 12.5h1M19 19.5h1m32 0h1"/>
<path stroke="#477bac" d="M52 14.5h1M38 16.5h1M110 19.5h1"/>
<path stroke="#4e81b0" d="M41 9.5h1M19 13.5h1M108 20.5h1M41 21.5h1"/>
<path stroke="#5586b3" d="M19 8.5h1m88 0h1M38 11.5h1m24 0h1m39 0h1M63 12.5h1M108 14.5h1M52 20.5h1m10 0h1"/>
<path stroke="#5c8cb7" d="M110 9.5h1M103 10.5h1M110 11.5h1M19 14.5h1M86 15.5h1m16 0h1M38 18.5h1M41 19.5h1m66 0h1M52 21.5h1"/>
<path stroke="#6291bb" d="M41 11.5h1M52 12.5h1M19 21.5h1"/>
<path stroke="#6997bf" d="M38 7.5h1m2 0h1M110 8.5h1M63 9.5h1M28 10.5h1m9 0h1M19 12.5h1m18 0h1M28 13.5h1m23 0h1M108 15.5h1M28 16.5h1M52 18.5h1M90 19.5h1M103 20.5h1M103 21.5h1M91 27.5h1M119 30.5h1"/>
<path stroke="#77a1c5" d="M22 2.5h1M89 3.5h1M52 7.5h1m55 0h1M28 9.5h1m9 0h1M110 10.5h1M108 13.5h1M86 14.5h1M19 16.5h1m21 0h1m10 0h1M28 17.5h1m12 0h1m66 0h1M89 18.5h1m18 0h1m1 0h1M103 19.5h1M38 20.5h1M38 21.5h1m24 0h1"/>
<path stroke="#82a9ca" d="M20 4.5h1m35 0h1M8 5.5h1M63 8.5h1M4 9.5h1m114 0h1M108 11.5h1M16 12.5h1M110 14.5h1M110 15.5h1M51 17.5h2m50 0h1M28 18.5h1m12 0h1m21 0h1M38 19.5h1M4 20.5h1m3 0h1m10 0h1m8 0h1M119 22.5h1M49 23.5h1M46 25.5h1M16 34.5h1"/>
<path stroke="#90b3d0" d="M56 0.5h1M46 1.5h1M85 3.5h1M25 4.5h1M29 7.5h1m33 0h1M4 8.5h1m36 0h1m57 0h1M108 9.5h1M13 10.5h1m31 0h1m6 0h1M32 11.5h1m41 0h1m4 0h1M103 12.5h1M38 13.5h1m64 0h1m6 0h1M16 14.5h1m11 0h1M19 15.5h2m37 0h1M110 16.5h1M84 20.5h1M28 21.5h1M29 22.5h1M45 24.5h1m6 0h1M18 25.5h1M14 26.5h1m73 0h1M78 31.5h1M50 33.5h1M119 37.5h1M119 39.5h1"/>
<path stroke="#9bbbd5" d="M12 1.5h1m12 0h1M53 3.5h1m37 0h1M68 4.5h1M19 7.5h1m22 0h1M28 8.5h1m74 0h1M84 10.5h1m31 0h1M28 11.5h1m23 0h1M28 12.5h1m60 0h1m20 0h1M27 13.5h1m52 0h1M21 14.5h1m16 0h1m24 0h1m39 0h1M63 15.5h1m29 0h1M81 16.5h1M38 17.5h1M103 18.5h1M63 19.5h1M69 20.5h1m40 0h1M43 21.5h1m42 0h1M8 25.5h1m4 0h1m70 0h1M47 30.5h1M16 31.5h1M32 33.5h1m46 0h1M25 34.5h1m62 0h1M37 35.5h1M14 38.5h1m74 0h1"/>
<path stroke="#a6c3da" d="M110 0.5h1M79 1.5h1M56 2.5h1m30 0h1M29 3.5h1M18 4.5h2m18 0h1m69 0h1M116 5.5h1m2 0h1M23 7.5h1m25 0h1m29 0h1m10 0h1M25 9.5h1m6 0h1m46 0h1M86 10.5h1M119 11.5h1M14 12.5h1m28 0h1M4 13.5h1m112 0h1m4 0h1M14 14.5h1m11 0h1M28 15.5h1M89 16.5h1m13 0h1M42 17.5h1M19 18.5h1M50 19.5h1M6 20.5h1m22 0h1m11 0h1M106 21.5h1m1 0h1M32 22.5h1M34 23.5h1m56 0h1m25 0h1M40 25.5h1m31 0h1m16 0h1M106 26.5h1M29 27.5h1m34 0h1M18 28.5h1m9 0h1m10 0h1m5 0h1m62 0h1M5 29.5h1m73 0h1m13 0h1M3 30.5h1m33 0h1m11 0h1M79 31.5h1M16 32.5h1M4 34.5h1M21 35.5h1M29 36.5h1m49 0h1M16 37.5h1M8 38.5h1m16 0h1m17 0h1m47 0h1M44 39.5h1"/>
<path stroke="#b1cbe0" d="M72 0.5h1M8 1.5h1m5 0h1m30 0h1m4 0h1m17 0h1m20 0h1M32 2.5h1m60 0h1M80 3.5h1M39 4.5h1m22 0h1m2 0h2m19 0h1m14 0h1M4 5.5h1m47 0h1m38 0h1M14 6.5h1m8 0h1m1 0h1m12 0h1M4 7.5h1m20 0h1m42 0h1m3 0h1m7 0h1M37 8.5h2m17 0h1m32 0h1M34 9.5h1M16 10.5h1m2 0h1m7 0h1M20 11.5h1M10 12.5h1m30 0h1m2 0h1m12 0h1M46 13.5h1m37 0h1m34 0h1M20 14.5h1m18 0h1m1 0h1m11 0h1m3 0h1m33 0h1M16 15.5h1m8 0h1m26 0h1m54 0h1M61 16.5h1m1 0h1m22 0h1M8 17.5h1M37 18.5h1M0 19.5h1m15 0h1m39 0h1m41 0h1M56 20.5h1M44 21.5h1m46 0h1M25 22.5h1m48 0h1M14 23.5h1m54 0h1m19 0h1m17 0h1M25 25.5h1m21 0h1m4 0h1m5 0h1M85 26.5h1M42 27.5h1m28 0h1M32 28.5h1m10 0h1M21 29.5h1m73 0h1m8 0h1M16 30.5h1M45 31.5h1m45 0h1M29 32.5h1m38 0h1M45 33.5h1M44 34.5h1m19 0h1m31 0h1m2 0h1M66 35.5h1m5 0h1m46 0h1M25 36.5h1M49 37.5h1m39 0h1m1 0h1m12 0h1m6 0h1M1 38.5h1m7 0h1m44 0h1M21 39.5h1"/>
<path stroke="#bbd2e4" d="M16 0.5h1m8 0h1m1 0h1m1 0h1M78 1.5h1m7 0h1m32 0h1M9 2.5h1m40 0h1m25 0h1M21 3.5h1m32 0h1m24 0h1m28 0h1M0 4.5h1m21 0h1m6 0h1m23 0h1m15 0h1m14 0h1m21 0h1M42 5.5h1m6 0h1m5 0h1M27 6.5h1m4 0h1M8 7.5h1m5 0h1m1 0h1m74 0h1m8 0h1m9 0h1m16 0h1M20 8.5h1m21 0h1m1 0h1m39 0h1m34 0h1M103 9.5h1M8 10.5h1m9 0h1m12 0h1m9 0h1m12 0h1m8 0h1M30 11.5h2m26 0h1m19 0h1m26 0h1m12 0h1M29 12.5h1m38 0h1M32 13.5h1m8 0h1m5 0h1m51 0h1M8 14.5h1m16 0h1m6 0h1m46 0h1M29 15.5h1m13 0h1m25 0h1m2 0h1m5 0h1M14 16.5h1m17 0h1M20 17.5h1m68 0h1M23 18.5h1m21 0h1m34 0h1m10 0h1m10 0h1m3 0h1m12 0h1M14 19.5h1m13 0h1m15 0h2m23 0h1M16 20.5h1m45 0h1M4 21.5h1m11 0h1m44 0h1m57 0h1M50 22.5h1m15 0h1m9 0h1M16 23.5h1m25 0h1m1 0h1m14 0h1m18 0h1m7 0h1m32 0h1M19 24.5h1m10 0h1m48 0h1m34 0h1m2 0h1M4 25.5h1m19 0h1m5 0h1m13 0h1m23 0h1m5 0h1m11 0h1m19 0h1m1 0h1M25 26.5h1m13 0h1m2 0h2m12 0h1M4 27.5h1m15 0h1m23 0h1m74 0h1M6 28.5h1m34 0h1m13 0h1m23 0h1m24 0h1m17 0h1M14 29.5h1m1 0h1m27 0h1m7 0h1m3 0h1m5 0h1m13 0h1m13 0h2M66 30.5h1m2 0h1m8 0h1m8 0h1m13 0h1M26 31.5h1m10 0h1m6 0h1m23 0h1m15 0h1m1 0h1M4 32.5h1m47 0h1m16 0h1m9 0h1m6 0h1m2 0h1m13 0h1m22 0h1M37 33.5h1M14 34.5h1m12 0h1m4 0h1m40 0h1m5 0h1m11 0h1M25 35.5h1m63 0h1M16 36.5h1m52 0h1m18 0h1M44 37.5h1m6 0h1m26 0h1m5 0h1m5 0h1M16 38.5h1m21 0h1M60 39.5h1m32 0h1m10 0h1m1 0h1m10 0h1"/>
<path stroke="#c7dbea" d="M69 0.5h1m9 0h1m4 0h1m41 0h2M16 1.5h1m21 0h1m3 0h1m74 0h1M4 2.5h1m1 0h1m9 0h1m6 0h1m5 0h1m14 0h1m21 0h1m21 0h1m2 0h1m25 0h1m1 0h1M58 3.5h1m13 0h1m26 0h1M55 4.5h1m16 0h1m37 0h1M38 5.5h1m1 0h1m35 0h1m28 0h1m20 0h1M44 6.5h1m21 0h1m5 0h1m25 0h1m1 0h1M24 7.5h1m22 0h1m10 0h1m29 0h2m22 0h1M14 8.5h1m1 0h1m41 0h1m9 0h1m48 0h1M16 9.5h1m27 0h1m23 0h1m7 0h1M10 10.5h1m32 0h1m9 0h1m2 0h1m1 0h1m54 0h1m5 0h1M0 11.5h1m4 0h1m8 0h1m19 0h1m29 0h1m15 0h1m9 0h1m4 0h1M54 12.5h1m17 0h1m5 0h2m11 0h1m33 0h1M63 13.5h1m4 0h1m3 0h1m5 0h1M4 14.5h1m42 0h1m53 0h1m14 0h1m5 0h1M36 15.5h1m1 0h1m42 0h1m9 0h1m29 0h1M44 16.5h1m35 0h1m3 0h1m17 0h1m5 0h1M44 17.5h1m1 0h1m3 0h1m37 0h1m24 0h1M26 18.5h1m29 0h1m30 0h1M4 19.5h1m38 0h1m3 0h1m11 0h1m7 0h1m10 0h1m9 0h1m28 0h1M44 20.5h1m33 0h1m1 0h1m7 0h1m13 0h1M8 21.5h1m3 0h1m17 0h1m11 0h1m34 0h1m1 0h1M14 22.5h1m4 0h1m17 0h1m14 0h1m28 0h1M19 23.5h1m5 0h1m1 0h1m17 0h1m1 0h1m3 0h2m23 0h1m19 0h1M16 24.5h1m12 0h1m29 0h1m27 0h1m13 0h1M16 25.5h1m28 0h1m4 0h1m20 0h1m16 0h1m32 0h1M20 26.5h2m4 0h1m5 0h1m11 0h1m8 0h1m3 0h2m19 0h1m23 0h1m11 0h1m4 0h1M30 27.5h1m1 0h1m13 0h1m7 0h1m14 0h1m30 0h1m7 0h1m17 0h1M16 28.5h1m4 0h1m3 0h1m12 0h1m3 0h1m38 0h1m6 0h1m28 0h1M8 29.5h1m20 0h1m2 0h1m9 0h1m25 0h1m5 0h1m3 0h1m31 0h1M8 30.5h1m16 0h1m19 0h1m15 0h1m14 0h2m12 0h1m25 0h1M29 31.5h1m13 0h1m8 0h1m1 0h1m17 0h1m1 0h1m5 0h1m29 0h1M56 32.5h1m17 0h1m12 0h2m30 0h1M22 33.5h1m7 0h1m16 0h1m10 0h1m5 0h1m12 0h1m30 0h1M6 34.5h1m3 0h1m15 0h1m15 0h1m35 0h1m5 0h1m12 0h1m21 0h1M20 35.5h1m11 0h1m28 0h1m15 0h2m25 0h1M4 36.5h1m28 0h1m12 0h1m11 0h1m6 0h1m11 0h1M14 37.5h1m17 0h1m55 0h1m33 0h1m2 0h1M3 38.5h1m23 0h1m1 0h1m46 0h1m44 0h1M23 39.5h1m5 0h1m15 0h1m22 0h1m3 0h1m13 0h1"/>
<path stroke="#d1e1ee" d="M38 0.5h1m3 0h1m3 0h1m16 0h1m14 0h1m10 0h1m22 0h1m6 0h1M37 1.5h1m3 0h1m7 0h1m8 0h2m12 0h1m3 0h1m16 0h1m12 0h1m3 0h1M8 2.5h1m9 0h1m1 0h1m4 0h1m26 0h1m1 0h1m3 0h1m18 0h2M16 3.5h1m8 0h1m1 0h1m4 0h1m16 0h1m2 0h1m53 0h1m10 0h3M4 4.5h2m10 0h2m13 0h1m22 0h1m23 0h1m1 0h1m6 0h1m4 0h1m7 0h1m3 0h1m6 0h1m2 0h1m4 0h1M37 5.5h1m7 0h1m10 0h1m12 0h1m32 0h1m5 0h1m4 0h1m4 0h1M13 6.5h1m4 0h1m10 0h1m9 0h1m13 0h1M21 7.5h1m9 0h1m11 0h2m48 0h1m4 0h2m3 0h1m10 0h1m10 0h1M26 8.5h1m2 0h1m24 0h1m16 0h1m2 0h1m20 0h1M30 9.5h1m6 0h1m4 0h1m15 0h1m15 0h1m13 0h1m4 0h1M1 10.5h1m7 0h1m27 0h1m12 0h1m24 0h1m5 0h1m8 0h1m8 0h1m15 0h1M4 11.5h1m41 0h1m21 0h1m8 0h1m9 0h1m18 0h1m13 0h1m4 0h1M0 12.5h1m26 0h1m4 0h1m4 0h1m28 0h1m40 0h1m5 0h1M14 13.5h1m1 0h1m8 0h1m3 0h1m1 0h1m19 0h1m7 0h1m30 0h1m4 0h1m8 0h2M45 14.5h1m31 0h1m6 0h1m21 0h1M41 15.5h1m7 0h3m32 0h1m2 0h1m8 0h1M5 16.5h1m23 0h1m7 0h1m44 0h1m38 0h1M16 17.5h1m20 0h1m72 0h1m6 0h1M36 18.5h1m12 0h1m11 0h1m17 0h1m38 0h1M26 19.5h1m12 0h1m2 0h1m39 0h1m16 0h1m19 0h1M27 20.5h1m30 0h1m5 0h1m26 0h1m20 0h1m6 0h1M6 21.5h1m16 0h1m30 0h1m16 0h1m2 0h1m1 0h1m10 0h1m2 0h1m27 0h1M42 22.5h1m2 0h1m17 0h1m8 0h1m16 0h1m35 0h1M9 23.5h1m33 0h1m44 0h1m4 0h1m8 0h1m8 0h1M18 24.5h1m37 0h1m54 0h1M3 25.5h1m24 0h2m7 0h1m40 0h1m12 0h1m10 0h1m16 0h1m6 0h1M1 26.5h1m2 0h2m2 0h2m17 0h1m10 0h1m1 0h1m35 0h1m7 0h1m7 0h1m20 0h1M16 27.5h1m26 0h1m5 0h2m15 0h1m21 0h1m3 0h1m14 0h1m4 0h1m9 0h1M14 28.5h1m5 0h1m16 0h1m25 0h1m55 0h1M4 29.5h1m22 0h1m2 0h2m14 0h1m17 0h1m24 0h1m4 0h1m3 0h1m9 0h1m12 0h1M13 30.5h1m6 0h1m21 0h1m3 0h1m11 0h1m9 0h1m17 0h1m2 0h1m24 0h1M38 31.5h2m41 0h1m36 0h1M5 32.5h1m2 0h1m23 0h1m4 0h1m8 0h1m19 0h1m30 0h1m1 0h1m4 0h1m7 0h1m10 0h1M5 33.5h2m9 0h1m61 0h1m7 0h1m3 0h1m14 0h1m13 0h1M17 34.5h2m10 0h1m15 0h1m3 0h1m2 0h1m13 0h1m4 0h1m17 0h1m18 0h1M3 35.5h1m14 0h2m22 0h1m2 0h1m38 0h1m13 0h1m8 0h1M18 36.5h1m19 0h1m5 0h1m15 0h1m13 0h1m3 0h1m34 0h2M5 37.5h1m6 0h1m12 0h1m8 0h1m8 0h1m49 0h1m14 0h1m4 0h1m7 0h1M21 38.5h1m10 0h1m1 0h1m9 0h2m13 0h1m4 0h1m12 0h1m6 0h1m15 0h1m16 0h1M7 39.5h1m12 0h1m17 0h1m4 0h1m2 0h1m11 0h1m8 0h1m3 0h1m17 0h1m1 0h1m23 0h1"/>
<path stroke="#dae7f1" d="M4 0.5h1m2 0h2m4 0h1m16 0h1m14 0h1m6 0h1m13 0h1m15 0h1m10 0h1m3 0h1m2 0h1m12 0h1m3 0h1M4 1.5h1m39 0h1m11 0h1m20 0h1m12 0h1m8 0h1m2 0h1m13 0h1M5 2.5h1m21 0h1m46 0h1m33 0h1m5 0h1M8 3.5h1m1 0h1m8 0h2m16 0h2m3 0h1m8 0h1m4 0h1m21 0h1m25 0h1m8 0h1M23 4.5h1m2 0h1m3 0h1m1 0h2m18 0h1m10 0h1m25 0h2m4 0h1m9 0h1m7 0h1m3 0h1m4 0h1M14 5.5h1m5 0h1m1 0h1m6 0h1m1 0h1m2 0h1m22 0h1m5 0h1m4 0h1m3 0h1m7 0h1m12 0h1m20 0h1M4 6.5h1m11 0h1m3 0h1m22 0h1m5 0h1m2 0h1m12 0h1m1 0h1m3 0h1m4 0h1m2 0h1m36 0h1M17 7.5h1m8 0h1m9 0h2m1 0h1m10 0h1m25 0h1m24 0h1M5 8.5h1m19 0h1m7 0h1m16 0h1m15 0h1m5 0h1m6 0h1m1 0h1m5 0h1m8 0h1m3 0h1m3 0h1m2 0h1M1 9.5h1m9 0h1m17 0h1m9 0h1m7 0h1m7 0h1m9 0h1m12 0h1m32 0h1m4 0h2M6 10.5h1m13 0h1m2 0h1m1 0h1m13 0h1m2 0h1m16 0h1m10 0h1m7 0h1m9 0h1m33 0h1M8 11.5h1m13 0h1m2 0h1m18 0h2m10 0h1m15 0h1m36 0h1m6 0h1m5 0h1M7 12.5h1m1 0h1m2 0h1m10 0h1m1 0h1m34 0h1m19 0h1m3 0h1m10 0h1m20 0h1m4 0h1M8 13.5h1m28 0h1m11 0h1m6 0h1m25 0h1m30 0h1M1 14.5h1m25 0h1m1 0h1m21 0h1m4 0h1m1 0h1m9 0h2m3 0h2m1 0h1m3 0h1m1 0h1m19 0h1m10 0h1m12 0h1M0 15.5h1m3 0h1m3 0h1m23 0h1m6 0h1m7 0h1m8 0h1m9 0h1m4 0h1m5 0h1m26 0h2m8 0h1m2 0h1m9 0h1M4 16.5h1m6 0h2m5 0h1m2 0h1m5 0h1m84 0h1m1 0h1M3 17.5h1m2 0h1m25 0h1m10 0h1m19 0h1m20 0h2m23 0h1m2 0h1M4 18.5h1m16 0h1m7 0h1m38 0h1M1 19.5h1m18 0h1m2 0h3m3 0h1m21 0h1m13 0h1m6 0h1m10 0h1m7 0h1M5 20.5h1m15 0h1m2 0h1m20 0h1m15 0h1m32 0h1m6 0h1M14 21.5h2m13 0h1m7 0h1m18 0h1m2 0h1m8 0h2m10 0h1m3 0h1m12 0h2m8 0h1m1 0h1M10 22.5h1m1 0h1m3 0h1m13 0h1m4 0h1m10 0h1m6 0h1m7 0h1m26 0h1m18 0h1m2 0h1M1 23.5h1m3 0h1m12 0h1m2 0h1m1 0h1m6 0h1m7 0h1m1 0h1m15 0h1m13 0h1m2 0h1m27 0h1m2 0h1m1 0h1M10 24.5h1m27 0h1m5 0h1m8 0h1m15 0h1m18 0h1m5 0h1M6 25.5h1m12 0h1m1 0h1m4 0h1m15 0h1m13 0h1m12 0h1m6 0h1m2 0h1m7 0h1m2 0h1m14 0h1m3 0h1m3 0h2m1 0h1m5 0h1M47 26.5h1m20 0h1m2 0h1m19 0h1m3 0h1m12 0h1M10 27.5h1m12 0h1m23 0h1m3 0h1m4 0h1m22 0h1m10 0h1m5 0h1m9 0h1M1 28.5h1m2 0h1m8 0h1m3 0h1m1 0h1m15 0h1m10 0h2m2 0h1m2 0h1m2 0h1m12 0h1m4 0h1m16 0h1m14 0h1m6 0h1m10 0h2M1 29.5h1m31 0h1m16 0h2m5 0h2m28 0h1m13 0h1m3 0h2m11 0h1M14 30.5h1m6 0h1m5 0h1m4 0h1m7 0h1m12 0h1m1 0h1m7 0h1m16 0h1m3 0h1M7 31.5h1m6 0h1m17 0h1m17 0h1m10 0h1m4 0h1m41 0h1M12 32.5h1m1 0h1m8 0h1m3 0h1m10 0h1m8 0h1m23 0h2m19 0h1m2 0h1M19 33.5h1m33 0h1m22 0h1m12 0h1m8 0h1M5 34.5h1m13 0h1m1 0h1m11 0h1m13 0h1m5 0h1m2 0h1m20 0h1m17 0h1m4 0h1m3 0h1m2 0h1M29 35.5h1m22 0h1m5 0h1m3 0h1m8 0h1m27 0h1m6 0h1m6 0h1m8 0h1M19 36.5h1m25 0h1m1 0h1m5 0h1m9 0h1m41 0h2m10 0h1m3 0h1m5 0h1M4 37.5h1m8 0h1m27 0h2m4 0h1m32 0h1m6 0h1m29 0h2M26 38.5h1m26 0h1m20 0h1m28 0h1m22 0h1M3 39.5h1m1 0h1m8 0h1m17 0h1m2 0h1m11 0h1m4 0h1m1 0h1m4 0h1m6 0h1m21 0h1m1 0h1m7 0h1m12 0h1m2 0h1"/>
<path stroke="#e5edf4" d="M68 0.5h1m7 0h1m9 0h1m3 0h1m14 0h1m2 0h1m9 0h1M5 1.5h1m15 0h1m6 0h1m23 0h3m29 0h1m26 0h1M26 2.5h1m7 0h1m8 0h1m2 0h1m6 0h1m18 0h1m8 0h1m2 0h1m1 0h1m3 0h1m10 0h1m10 0h1M4 3.5h1m7 0h1m9 0h1m21 0h1m29 0h1m7 0h1m7 0h1m1 0h1m7 0h1m6 0h1M1 4.5h1m10 0h1m1 0h1m12 0h2m7 0h1m6 0h2m1 0h1m11 0h2m16 0h2m7 0h1m2 0h1m18 0h1M0 5.5h2m4 0h1m3 0h1m5 0h1m9 0h2m2 0h1m1 0h1m10 0h1m27 0h1m7 0h1m9 0h1m5 0h1m10 0h1m14 0h1M21 6.5h1m18 0h1m4 0h1m32 0h1m11 0h2m14 0h1m1 0h1m5 0h1m4 0h1M6 7.5h1m11 0h1m27 0h1m10 0h1m8 0h1m16 0h1m2 0h1m8 0h1m1 0h1m7 0h1m13 0h1m2 0h1M8 8.5h1m9 0h1m11 0h1m26 0h1m1 0h1m20 0h1m31 0h1m1 0h2M6 9.5h1m7 0h1m39 0h1m14 0h1m7 0h1m2 0h1m25 0h1m7 0h1M14 10.5h1m40 0h1m1 0h1m3 0h1m2 0h1m1 0h1m1 0h1m3 0h1m16 0h1m2 0h1m1 0h1m3 0h1m1 0h1m3 0h1m20 0h1M9 11.5h1m19 0h1m5 0h1m6 0h1m16 0h1m9 0h1m34 0h1m2 0h1M3 12.5h1m42 0h1m2 0h1m6 0h1m7 0h2m11 0h1m10 0h1M20 13.5h4m19 0h1m42 0h2m4 0h1m7 0h1m5 0h1m2 0h1m16 0h1M5 14.5h1m44 0h1m14 0h1m4 0h1m19 0h1m1 0h1m3 0h1m2 0h1m5 0h1M23 15.5h1m13 0h1m7 0h2m21 0h1m7 0h1m2 0h2m14 0h1m2 0h1m1 0h1m10 0h1m8 0h1m3 0h1m1 0h1M8 16.5h2m15 0h1m20 0h1m3 0h1m9 0h1m7 0h1m2 0h1m6 0h1m14 0h1m24 0h1m5 0h2M0 17.5h2m16 0h1m4 0h1m15 0h1m9 0h1m6 0h2m17 0h1m2 0h2m15 0h1m18 0h1m4 0h1M9 18.5h1m14 0h1m5 0h1m8 0h2m1 0h1m26 0h1m1 0h1m12 0h1m3 0h1m1 0h1m14 0h1m1 0h1M8 19.5h1m1 0h1m16 0h1m4 0h1m1 0h1m14 0h1m3 0h1m14 0h1m20 0h1m3 0h1m12 0h2M10 20.5h1m20 0h1m7 0h1m3 0h1m10 0h1m19 0h1m11 0h1m3 0h1m2 0h1m2 0h1m7 0h2m16 0h1m4 0h1M5 21.5h1m7 0h1m6 0h1m6 0h1m61 0h1m27 0h1M6 22.5h1m11 0h1m24 0h1m14 0h1m6 0h1m12 0h1m17 0h1m29 0h1M4 23.5h1m26 0h1m5 0h1m12 0h1m2 0h2m8 0h1m35 0h1m8 0h1m4 0h1M12 24.5h1m1 0h1m22 0h1m5 0h1m10 0h1m6 0h1m24 0h1m4 0h1M5 25.5h1m1 0h1m12 0h1m6 0h1m4 0h1m6 0h1m1 0h1m17 0h3m4 0h1m14 0h1m11 0h1m31 0h1M31 26.5h1m47 0h2m6 0h1m13 0h1m9 0h1m13 0h1m1 0h1M25 27.5h1m11 0h1m2 0h1m20 0h1m1 0h1m10 0h1m11 0h1m14 0h1m15 0h1M0 28.5h1m6 0h2m1 0h1m25 0h1m29 0h1m5 0h1m2 0h1m1 0h1m9 0h1m10 0h1m2 0h1m7 0h1m1 0h1M18 29.5h1m19 0h4m13 0h1m13 0h1m10 0h2m4 0h1m12 0h1M4 30.5h1m1 0h2m1 0h1m23 0h1m9 0h1m8 0h1m1 0h1m9 0h1m6 0h1m7 0h1m16 0h1m14 0h1M5 31.5h1m21 0h1m14 0h1m15 0h1m29 0h1m1 0h1m15 0h1m4 0h1m4 0h2m7 0h1M7 32.5h1m9 0h1m2 0h1m10 0h1m2 0h1m4 0h1m15 0h1m6 0h1m1 0h1m11 0h1m7 0h1m23 0h1M10 33.5h1m10 0h1m5 0h2m10 0h1m23 0h1m1 0h1m6 0h1m7 0h1m6 0h1m5 0h1m2 0h2m6 0h1m1 0h1m5 0h1m3 0h1M8 34.5h2m10 0h1m3 0h1m3 0h1m9 0h1m20 0h1m8 0h1m3 0h1m13 0h1m3 0h1m3 0h1m29 0h2M0 35.5h1m4 0h1m16 0h1m7 0h1m3 0h1m11 0h1m9 0h1m22 0h1m13 0h1M8 36.5h2m18 0h1m3 0h1m3 0h1m6 0h1m8 0h1m2 0h2m4 0h1m11 0h1m2 0h1m12 0h1m5 0h1m12 0h1M6 37.5h3m10 0h1m11 0h1m6 0h2m5 0h1m4 0h1m8 0h2m4 0h1m2 0h1m3 0h1m13 0h1m16 0h1m22 0h1M4 38.5h1m28 0h1m18 0h1m3 0h1m9 0h1m8 0h1m5 0h1m11 0h1m1 0h1m2 0h1m6 0h1m4 0h1m5 0h1m2 0h1M6 39.5h1m9 0h1m8 0h2m1 0h1m2 0h1m10 0h1m7 0h1m5 0h1m12 0h1m4 0h1m4 0h1m12 0h1m15 0h1m4 0h1m11 0h1"/>
<path stroke="#eef1f6" d="M1 0.5h1m18 0h2m21 0h1m3 0h1m1 0h1m4 0h1m3 0h2m17 0h1m10 0h1m2 0h1m10 0h2m10 0h1M7 1.5h1m19 0h1m2 0h1m1 0h1m3 0h1m23 0h1m1 0h1m1 0h3m2 0h1m4 0h1m20 0h1m5 0h1m11 0h1m4 0h1M12 2.5h1m18 0h1m5 0h1m13 0h1m10 0h1m2 0h1m13 0h1m5 0h1m9 0h1m15 0h1m10 0h1M0 3.5h2m7 0h1m16 0h1m3 0h2m4 0h1m13 0h1m6 0h1m4 0h1m12 0h1m12 0h1m9 0h1m10 0h1m4 0h1m10 0h1M21 4.5h1m2 0h1m16 0h2m21 0h1m10 0h1m3 0h1m13 0h1m2 0h1m2 0h1m21 0h1M5 5.5h1m47 0h1m5 0h1m5 0h2m10 0h2m2 0h1m1 0h1m6 0h1M46 6.5h1m7 0h1m13 0h1m11 0h1m5 0h2m1 0h1m5 0h1m14 0h1m2 0h1m12 0h1M0 7.5h1m12 0h1m48 0h1m2 0h1m3 0h1m7 0h1m4 0h1m28 0h1m1 0h1M0 8.5h1m5 0h1m42 0h1m10 0h1m1 0h1m1 0h1m4 0h1m6 0h1m13 0h1m10 0h1M13 9.5h1m6 0h2m5 0h1m31 0h2m3 0h1m1 0h1m4 0h1m19 0h1m2 0h1m2 0h1m1 0h1m4 0h1M3 10.5h2m2 0h1m3 0h1m12 0h1m5 0h1m34 0h1m14 0h1m16 0h1m16 0h1M2 11.5h1m20 0h2m11 0h1m2 0h1m3 0h1m18 0h1m2 0h1m4 0h1m5 0h1m7 0h1m6 0h1m19 0h1M8 12.5h1m11 0h1m13 0h1m4 0h2m6 0h2m2 0h1m15 0h1m5 0h1m7 0h1m16 0h1m15 0h1m4 0h1M2 13.5h1m3 0h1m11 0h1m7 0h1m18 0h1m2 0h1m11 0h1m8 0h2m17 0h1M7 14.5h1m1 0h2m19 0h1m33 0h1m1 0h2m49 0h1m1 0h1m5 0h1M13 15.5h1m20 0h1m35 0h1m11 0h1m6 0h2m6 0h1m11 0h1m5 0h1M16 16.5h1m3 0h1m1 0h1m11 0h1m1 0h1m5 0h1m16 0h1m9 0h1m30 0h1M4 17.5h1m9 0h1m9 0h1m22 0h2m11 0h1m3 0h1m7 0h1m4 0h1m2 0h1m23 0h1m20 0h1M0 18.5h1m4 0h1m4 0h1m6 0h2m6 0h1m9 0h1m7 0h1m3 0h1m2 0h1m7 0h1m5 0h1m7 0h1m22 0h1M11 19.5h1m25 0h1m2 0h1m43 0h1m1 0h1m10 0h1m2 0h1m1 0h1M9 20.5h1m12 0h2m1 0h1m14 0h1m1 0h1m25 0h1m2 0h1m5 0h1m1 0h1m5 0h1m13 0h1m6 0h1M34 21.5h1m15 0h1m15 0h1m21 0h1m11 0h1m15 0h1m5 0h1m3 0h1M5 22.5h1m16 0h2m4 0h1m5 0h1m5 0h1m14 0h1m28 0h1m1 0h1m25 0h1M3 23.5h1m6 0h1m1 0h1m13 0h1m2 0h1m3 0h1m5 0h1m18 0h1m3 0h1m1 0h2m14 0h1m9 0h1m6 0h1m18 0h1M5 24.5h1m2 0h1m8 0h1m4 0h1m4 0h1m18 0h1m2 0h2m4 0h1m2 0h1m13 0h1m2 0h1m27 0h1m2 0h1m1 0h2m9 0h1m7 0h1M0 25.5h1m9 0h1m3 0h1m7 0h1m15 0h1m10 0h1m1 0h1m2 0h1m22 0h1m25 0h1m7 0h1m3 0h1M16 26.5h1m16 0h2m2 0h1m7 0h2m1 0h1m1 0h1m1 0h1m13 0h1m5 0h1m9 0h1m10 0h1m2 0h1m2 0h2m16 0h1m2 0h2M0 27.5h1m6 0h1m6 0h1m2 0h1m6 0h1m35 0h1m11 0h1m4 0h1m6 0h1m2 0h1m1 0h1m8 0h2m10 0h1m4 0h1M26 28.5h2m1 0h1m21 0h2m12 0h1m14 0h1m5 0h1m12 0h2m13 0h1m1 0h1M0 29.5h1m19 0h1m4 0h1m9 0h1m7 0h1m1 0h1m1 0h1m1 0h1m21 0h1m25 0h1m2 0h1m13 0h1m1 0h2m1 0h1M29 30.5h1m8 0h2m33 0h1m33 0h1m13 0h1m2 0h1m1 0h1M21 31.5h1m3 0h1m8 0h1m12 0h1m5 0h1m10 0h2m3 0h1m6 0h1m12 0h1m6 0h1M6 32.5h1m12 0h1m1 0h2m18 0h1m2 0h2m4 0h2m13 0h1m7 0h1m42 0h1m5 0h1M3 33.5h1m4 0h1m15 0h1m31 0h1m2 0h1m9 0h1m1 0h1m16 0h1m21 0h2m2 0h1M31 34.5h1m4 0h1m2 0h2m14 0h1m4 0h1m1 0h1m4 0h1m1 0h1m10 0h1m31 0h1m3 0h2M16 35.5h1m9 0h2m11 0h2m3 0h1m8 0h1m15 0h1m10 0h1m4 0h1m5 0h1m18 0h1m10 0h1M7 36.5h1m15 0h1m16 0h1m10 0h1m2 0h1m11 0h1m5 0h1m20 0h1m2 0h1m2 0h1m12 0h1M28 37.5h1m8 0h1m8 0h1m8 0h1m2 0h1m4 0h1m7 0h1m2 0h1m4 0h1m20 0h1m11 0h1M17 38.5h2m18 0h1m8 0h1m18 0h1m2 0h1m2 0h1m15 0h1m26 0h1m3 0h1M10 39.5h1m1 0h1m2 0h1m14 0h1m6 0h1m1 0h1m13 0h1m10 0h1m13 0h1m5 0h1m31 0h1m4 0h1"/>
<path stroke="#f3f2f2" d="M5 0.5h1m25 0h3m2 0h1m13 0h1m2 0h1m8 0h1m24 0h1m7 0h1m2 0h1m12 0h1m9 0h1M2 1.5h1m16 0h2m1 0h1m28 0h1m29 0h1m5 0h2m5 0h1m3 0h1m15 0h1m5 0h1m5 0h1M7 2.5h1m3 0h1m24 0h1m2 0h2m4 0h1m3 0h1m42 0h1m10 0h1m6 0h1M7 3.5h1m15 0h1m4 0h1m10 0h1m24 0h1m22 0h1m8 0h1m19 0h1m5 0h1m1 0h1m2 0h1M8 4.5h2m24 0h1m2 0h1m13 0h1m22 0h1m16 0h1m6 0h1m28 0h1M18 5.5h1m4 0h1m1 0h1m9 0h1m11 0h1m2 0h1m9 0h2m22 0h1m2 0h1m12 0h2m7 0h1m5 0h1m9 0h1M0 6.5h1m4 0h1m11 0h1m29 0h1m2 0h2m9 0h1m7 0h1m31 0h1m19 0h1m1 0h1M11 7.5h1m20 0h1m15 0h1m25 0h1m3 0h1m5 0h1m2 0h1m28 0h1m9 0h1M2 8.5h1m4 0h1m9 0h1m4 0h1m13 0h1m3 0h1m5 0h1m4 0h1m9 0h1m15 0h2m14 0h1m27 0h1M0 9.5h1m7 0h1m14 0h1m21 0h1m40 0h1m5 0h1m5 0h1m1 0h1m12 0h1m4 0h1m2 0h1M0 10.5h1m11 0h1m4 0h1m8 0h1m17 0h1m1 0h2m12 0h1m16 0h1m1 0h1m31 0h1m5 0h1m3 0h1M1 11.5h1m15 0h2m29 0h1m32 0h1m7 0h1m2 0h2m4 0h2m1 0h2m10 0h1M1 12.5h1m28 0h2m4 0h1m13 0h1m2 0h1m20 0h1m12 0h1m9 0h1m8 0h1m15 0h1M9 13.5h2m1 0h1m11 0h1m5 0h1m9 0h1m9 0h1m2 0h1m4 0h1m2 0h1m9 0h1m4 0h2m3 0h1m3 0h1m3 0h1m1 0h1m1 0h2m3 0h1m26 0h1M18 14.5h1m12 0h1m22 0h1m4 0h1m2 0h1m9 0h1m12 0h1m21 0h1m1 0h1M2 15.5h1m12 0h1m2 0h1m2 0h1m2 0h1m17 0h1m1 0h1m12 0h1m16 0h1m17 0h1m25 0h1M10 16.5h1m32 0h1m5 0h1m6 0h1m9 0h1m9 0h1m2 0h1m7 0h2m7 0h1m4 0h1m17 0h1M10 17.5h1m1 0h1m4 0h1m9 0h1m1 0h1m1 0h1m33 0h2m4 0h1m4 0h1m10 0h1m5 0h1m5 0h1m1 0h1m4 0h1m4 0h1m3 0h1m2 0h1M13 18.5h2m16 0h1m14 0h1m7 0h1m5 0h1m6 0h1m8 0h1m1 0h1m2 0h1m10 0h1m3 0h1m4 0h1m10 0h1m4 0h1M2 19.5h1m76 0h2m4 0h1m28 0h1m3 0h1m3 0h1m2 0h1M3 20.5h1m7 0h1m2 0h1m5 0h1m25 0h2m12 0h1m5 0h1m5 0h1m14 0h1m1 0h1m2 0h1m16 0h1m4 0h1m1 0h1m3 0h1m4 0h2M0 21.5h1m31 0h1m14 0h1m34 0h1m13 0h1m2 0h1m10 0h1m2 0h1M7 22.5h1m19 0h1m21 0h1m6 0h1m5 0h1m4 0h1m14 0h1m15 0h1m2 0h1m3 0h1m10 0h1m10 0h1M7 23.5h1m12 0h1m7 0h1m7 0h1m29 0h1m1 0h1m10 0h1m3 0h2m18 0h1m14 0h1m1 0h2M0 24.5h1m2 0h1m3 0h1m13 0h1m10 0h1m7 0h1m1 0h1m30 0h1m15 0h1m9 0h1m4 0h1m8 0h1m4 0h1M12 25.5h1m42 0h1m19 0h1m6 0h2m8 0h1m1 0h1m1 0h2m22 0h1M6 26.5h1m22 0h1m19 0h1m14 0h1m2 0h1m1 0h2m6 0h1m40 0h1M5 27.5h1m20 0h3m9 0h1m6 0h1m7 0h1m14 0h1m7 0h1m1 0h1m3 0h1m33 0h1m1 0h1M3 28.5h1m5 0h1m2 0h1m10 0h1m10 0h1m9 0h1m19 0h1m6 0h1m4 0h1m5 0h1m1 0h1m5 0h1m1 0h1m2 0h1m1 0h1m14 0h1m5 0h1m8 0h1M6 29.5h1m3 0h1m17 0h1m8 0h1m25 0h1m2 0h1m5 0h1m4 0h1m14 0h1m16 0h1M19 30.5h1m3 0h1m26 0h1m9 0h1m27 0h1m3 0h1m24 0h2m1 0h1M6 31.5h1m1 0h1m14 0h1m6 0h1m44 0h1m1 0h1m9 0h1m12 0h1m3 0h2m6 0h1m1 0h2M10 32.5h1m7 0h1m7 0h1m13 0h1m1 0h1m10 0h2m3 0h1m1 0h1m6 0h1m12 0h1m9 0h2m1 0h2m3 0h1m1 0h1m6 0h1m7 0h1m1 0h1m7 0h1M0 33.5h1m3 0h1m8 0h2m3 0h1m10 0h1m5 0h1m5 0h1m1 0h1m2 0h1m2 0h1m4 0h1m29 0h1m6 0h1m7 0h1m15 0h1M2 34.5h1m20 0h1m6 0h1m4 0h1m10 0h1m16 0h1m11 0h1m5 0h1m19 0h1m1 0h1m7 0h1m1 0h2m5 0h1m1 0h1M6 35.5h1m28 0h2m4 0h1m6 0h1m1 0h1m13 0h1m8 0h1m7 0h1m6 0h1m6 0h1m5 0h1m3 0h1m3 0h1M1 36.5h1m4 0h1m7 0h1m11 0h2m6 0h1m2 0h1m12 0h1m6 0h1m6 0h1m5 0h2m12 0h1m1 0h1m4 0h2m8 0h1m5 0h1m11 0h1M0 37.5h1m17 0h1m8 0h1m1 0h1m23 0h1m15 0h1m11 0h1m3 0h1m24 0h1m3 0h1m5 0h1M23 38.5h1m6 0h1m11 0h1m5 0h1m6 0h1m4 0h1m2 0h1m5 0h1m9 0h2m13 0h1m17 0h1M2 39.5h1m24 0h1m8 0h1m12 0h1m35 0h1m10 0h1m3 0h1m4 0h1m18 0h1"/>
<path stroke="#f4ecea" d="M3 0.5h1m2 0h1m3 0h1m1 0h1m1 0h1m8 0h1m20 0h1m6 0h1m9 0h1m2 0h1m15 0h1m23 0h1m1 0h1M9 1.5h1m19 0h1m1 0h1m1 0h1m5 0h2m41 0h1m9 0h1m15 0h1m13 0h1M13 2.5h1m5 0h1m10 0h1m24 0h1m3 0h1m4 0h1m6 0h1m8 0h1m8 0h1m6 0h1m5 0h1m22 0h1M5 3.5h1m18 0h1m8 0h1m9 0h1m15 0h1m1 0h1m1 0h1m2 0h1m2 0h1m16 0h1m7 0h2m15 0h1m3 0h1m7 0h1M40 4.5h1m4 0h1m15 0h1m9 0h1m25 0h1m4 0h1m13 0h1m9 0h1M39 5.5h1m1 0h1m25 0h1m30 0h1m13 0h1M6 6.5h1m12 0h1m8 0h1m5 0h1m1 0h1m19 0h1m2 0h1m2 0h1m1 0h1m34 0h1m12 0h1m14 0h1M1 7.5h1m25 0h1m28 0h1m50 0h1M27 8.5h1m4 0h1m6 0h1m3 0h1m1 0h1m9 0h1m11 0h1m5 0h1m9 0h1m2 0h1m15 0h1m6 0h1m1 0h1m8 0h1m1 0h1M10 9.5h1m7 0h1m3 0h1m3 0h1m16 0h1m2 0h1m2 0h1m31 0h2m7 0h1m36 0h1M29 10.5h1m2 0h2m1 0h1m4 0h1m8 0h1m12 0h1m6 0h1m4 0h1m10 0h1m20 0h1M6 11.5h1m9 0h1m4 0h1m31 0h1m3 0h1m24 0h1m11 0h1m22 0h1M35 12.5h1m47 0h1m2 0h1m3 0h1m2 0h1m10 0h1m10 0h1m1 0h1M7 13.5h1m28 0h1m7 0h1m9 0h1m20 0h1m25 0h2M13 14.5h1m3 0h1m5 0h1m10 0h3m3 0h1m5 0h1m2 0h1m10 0h1m17 0h1m10 0h1m4 0h1m2 0h1m22 0h1M3 15.5h1m5 0h1m1 0h1m2 0h1m7 0h1m39 0h1m1 0h1m34 0h1m22 0h1m2 0h1M3 16.5h1m35 0h1m15 0h1m35 0h1m14 0h1m9 0h1M21 17.5h1m3 0h1m4 0h1m4 0h1m4 0h1m28 0h1m21 0h1m4 0h1m19 0h1m4 0h1M16 18.5h1m3 0h1m41 0h1m3 0h1m26 0h2m2 0h2m10 0h1m3 0h1m2 0h1M3 19.5h1m1 0h1m1 0h1m9 0h2m14 0h1m1 0h2m21 0h1m5 0h1m1 0h1m8 0h3M1 20.5h1m30 0h1m1 0h1m1 0h2m15 0h1m1 0h1m1 0h1m7 0h1m16 0h1m34 0h1M22 21.5h1m2 0h1m13 0h2m10 0h1m3 0h1m1 0h2m1 0h1m6 0h1m4 0h1m5 0h1m13 0h1m2 0h1m15 0h1M3 22.5h1m34 0h1m2 0h1m17 0h1m13 0h1m1 0h1m14 0h1m17 0h1m2 0h1m1 0h1m7 0h1M0 23.5h1m5 0h1m39 0h1m8 0h1m4 0h2m9 0h1m3 0h1m22 0h1m10 0h2m11 0h1M25 24.5h1m8 0h2m26 0h3m3 0h1m8 0h2m2 0h2m24 0h1m2 0h1m5 0h1M2 25.5h1m20 0h1m29 0h1m9 0h3m1 0h1m12 0h1m19 0h2m15 0h1m6 0h1M10 26.5h4m1 0h1m3 0h1m8 0h1m25 0h1m5 0h1m1 0h1m23 0h1m3 0h1m7 0h1m8 0h1m1 0h1m6 0h1M1 27.5h1m1 0h1m4 0h1m4 0h1m4 0h2m13 0h1m18 0h1m9 0h1m31 0h1M5 28.5h1m16 0h1m7 0h1m2 0h1m6 0h1m8 0h1m8 0h1m9 0h1m4 0h1m15 0h1m6 0h1m10 0h1M9 29.5h1m1 0h1m7 0h1m2 0h1m3 0h1m26 0h1m28 0h1m2 0h1m2 0h1m13 0h1m12 0h1M2 30.5h1m2 0h1m25 0h1m2 0h1m16 0h1m4 0h1m5 0h1m4 0h1m4 0h1m2 0h1m6 0h1m2 0h1m24 0h1m2 0h1m13 0h1M9 31.5h1m8 0h1m12 0h1m3 0h1m13 0h1m6 0h1m35 0h1m2 0h1m2 0h1m14 0h1m7 0h1M35 32.5h1m7 0h1m4 0h1m12 0h1m15 0h1m4 0h1m13 0h1m4 0h1m12 0h1m3 0h1M9 33.5h1m1 0h1m8 0h1m4 0h1m8 0h1m7 0h1m1 0h1m7 0h1m8 0h1m5 0h1m24 0h1m1 0h1M12 34.5h1m21 0h1m15 0h2m2 0h1m3 0h1m2 0h1m23 0h1m1 0h1m10 0h1m6 0h2m3 0h1m7 0h1m4 0h1M1 35.5h1m2 0h1m4 0h1m1 0h1m12 0h1m3 0h1m4 0h1m4 0h1m4 0h1m3 0h1m3 0h1m8 0h1m7 0h1m14 0h1m6 0h1m9 0h1m11 0h1m1 0h1m10 0h1m1 0h1M5 36.5h1m6 0h1m8 0h1m17 0h1m19 0h1m20 0h1m9 0h1m3 0h1M1 37.5h1m18 0h1m5 0h1m3 0h1m21 0h1m3 0h2m6 0h1m11 0h1m15 0h1m4 0h1m3 0h1m25 0h1M11 38.5h1m7 0h1m11 0h1m7 0h1m7 0h1m9 0h1m24 0h1m5 0h1m10 0h1m1 0h2m3 0h2m14 0h1m2 0h1M8 39.5h1m10 0h1m13 0h1m6 0h1m10 0h1m45 0h1m4 0h1m7 0h1m7 0h1m7 0h1"/>
<path stroke="#f5e5e2" d="M2 0.5h1m8 0h1m28 0h1m14 0h1m17 0h1m18 0h1m3 0h1m26 0h2M1 1.5h1m4 0h1m3 0h1m6 0h2m36 0h1m29 0h1m5 0h1m12 0h1M0 2.5h2m12 0h1m20 0h1m11 0h1m15 0h1m3 0h4m29 0h1m4 0h1m1 0h1m5 0h1m4 0h1m4 0h1m2 0h1M6 3.5h1m6 0h2m20 0h1m5 0h1m3 0h1m9 0h1m11 0h2m2 0h1m4 0h2m23 0h1m19 0h1M15 4.5h1m31 0h1m1 0h1m17 0h1m41 0h1M24 5.5h1m23 0h1m5 0h1m3 0h1m5 0h1m8 0h2m28 0h2m6 0h1m5 0h1M8 6.5h1m15 0h1m16 0h1m28 0h1m21 0h1m3 0h1m6 0h1m3 0h1m3 0h1m10 0h1M3 7.5h1m1 0h1m4 0h1m23 0h1m24 0h2m3 0h1m6 0h1m3 0h1m5 0h1m35 0h2m2 0h1M11 8.5h1m11 0h1m10 0h1m53 0h1m3 0h1m4 0h1m7 0h2m6 0h1m2 0h1m1 0h1M5 9.5h1m25 0h1m18 0h2m4 0h2m29 0h1m27 0h1m4 0h1m1 0h1M21 10.5h1m45 0h1m19 0h1m5 0h1m7 0h2m6 0h1m2 0h1m5 0h1m8 0h1M7 11.5h1m2 0h2m1 0h1m13 0h1m5 0h1m6 0h1m10 0h1m23 0h1m10 0h1m1 0h1m8 0h1M6 12.5h1m4 0h1m1 0h1m7 0h1m2 0h1m8 0h1m8 0h1m12 0h1m13 0h1m26 0h1m8 0h1M11 13.5h1m23 0h1m26 0h1m3 0h1m6 0h2m21 0h2m13 0h1m4 0h1m1 0h1m2 0h1m2 0h1m2 0h1M0 14.5h1m43 0h1m43 0h1m15 0h1m9 0h1m3 0h1m4 0h1m3 0h1M1 15.5h1m3 0h3m18 0h1m26 0h1m6 0h1m14 0h1m7 0h1m10 0h1m6 0h1m21 0h1M2 16.5h1m3 0h1m6 0h1m9 0h1m7 0h1m8 0h1m26 0h1m5 0h1m16 0h1m1 0h1m2 0h1m2 0h1m8 0h1m9 0h1M2 17.5h1m2 0h1m3 0h1m3 0h1m1 0h1m17 0h2m1 0h1m8 0h1m7 0h1m4 0h2m22 0h1m3 0h1m13 0h1m4 0h1m1 0h1m16 0h1M8 18.5h1m18 0h1m4 0h1m11 0h1m14 0h1m22 0h1m3 0h1m27 0h1m7 0h1M13 19.5h1m16 0h1m15 0h1m8 0h1m14 0h1m3 0h1m19 0h1m1 0h1m18 0h1m11 0h1M0 20.5h1m12 0h1m3 0h1m12 0h1m4 0h1m13 0h1m9 0h1m7 0h1m2 0h1m2 0h1m2 0h1m36 0h1m4 0h1m2 0h1M1 21.5h1m5 0h1m13 0h1m11 0h1m11 0h2m2 0h1m25 0h1m17 0h1m7 0h1m2 0h1m9 0h1m5 0h2M2 22.5h1m44 0h1m9 0h1m33 0h2m6 0h1m4 0h1m1 0h1m7 0h1M8 23.5h1m8 0h1m6 0h1m7 0h1m8 0h1m15 0h1m9 0h1m19 0h1m17 0h1M1 24.5h1m2 0h1m23 0h1m2 0h1m15 0h1m18 0h1m17 0h1m5 0h1m9 0h1m14 0h1m9 0h1M9 25.5h1m23 0h2m1 0h1m61 0h2m18 0h1M17 26.5h1m33 0h1m13 0h1m17 0h1m10 0h1m9 0h1m21 0h1M2 27.5h1m3 0h1m5 0h1m18 0h1m4 0h1m2 0h1m18 0h1m14 0h1m28 0h1m10 0h1m6 0h2M11 28.5h1m36 0h1m5 0h1m6 0h1m16 0h1m24 0h1m1 0h1m4 0h1m4 0h1M7 29.5h1m4 0h2m3 0h1m18 0h1m30 0h1m44 0h1m10 0h2M0 30.5h1m21 0h1m5 0h1m1 0h1m10 0h1m2 0h1m3 0h1m42 0h1m1 0h1m1 0h1m6 0h1m1 0h2m9 0h1m9 0h1M3 31.5h1m8 0h1m15 0h1m7 0h1m4 0h1m4 0h1m8 0h1m17 0h1m23 0h1m1 0h1m7 0h1m1 0h1m9 0h1m3 0h1M3 32.5h1m5 0h1m3 0h1m14 0h1m1 0h1m28 0h1m21 0h1m20 0h1m18 0h1M15 33.5h1m10 0h1m11 0h1m12 0h1m16 0h1m5 0h1m7 0h1m17 0h2m11 0h1m9 0h2M7 34.5h1m29 0h1m5 0h1m30 0h1m40 0h1m5 0h1m5 0h1M59 35.5h1m14 0h1m17 0h1m15 0h1m2 0h1m4 0h1m7 0h1m1 0h1M0 36.5h1m2 0h1m7 0h1m1 0h1m6 0h1m9 0h1m11 0h1m6 0h1m18 0h1m6 0h1m7 0h1m1 0h1m12 0h1m10 0h3m6 0h1m1 0h1m1 0h1m2 0h1M9 37.5h2m11 0h1m38 0h2m3 0h1m10 0h1m16 0h1M20 38.5h1m20 0h1m7 0h2m27 0h1m7 0h1m21 0h1m2 0h1M0 39.5h1m3 0h1m6 0h1m6 0h1m15 0h1m20 0h1m6 0h1m12 0h2m3 0h1m28 0h1m12 0h1"/>
<path stroke="#f4dcd9" d="M15 0.5h1m1 0h2m3 0h1m1 0h1m3 0h1m6 0h1m1 0h1m1 0h1m25 0h1m1 0h1m17 0h1m15 0h1m5 0h1M23 1.5h1m19 0h1m3 0h1m13 0h1m1 0h1m6 0h2m3 0h1m4 0h1m24 0h1m15 0h1m5 0h1M2 2.5h2m17 0h1m6 0h1m9 0h1m3 0h1m18 0h1m32 0h1m3 0h1m7 0h1m8 0h1m5 0h1M3 3.5h1m89 0h1m3 0h1m14 0h1m13 0h1M7 4.5h1m3 0h1m1 0h1m43 0h1m2 0h1m20 0h1m30 0h1M7 5.5h1m4 0h1m15 0h1m17 0h1m4 0h1m34 0h1m1 0h1m3 0h1m4 0h1m1 0h1m7 0h1M9 6.5h2m1 0h1m22 0h1m1 0h1m4 0h1m14 0h2m23 0h1m1 0h1m24 0h1m8 0h1M7 7.5h1m1 0h1m5 0h1m17 0h1m27 0h1m5 0h1m26 0h1m1 0h1m27 0h1M1 8.5h1m7 0h1m3 0h1m7 0h1m25 0h1m34 0h1m11 0h1m3 0h1m28 0h1M62 9.5h1m7 0h1m1 0h1m16 0h1m11 0h1M2 10.5h1m12 0h1m20 0h1m11 0h1m2 0h1m24 0h1m5 0h1m8 0h1m15 0h1m18 0h1M15 11.5h1m21 0h1m16 0h2m5 0h1m9 0h1m24 0h1m24 0h1m1 0h1m2 0h1M4 12.5h1m13 0h1m3 0h1m36 0h1m16 0h1m5 0h1m11 0h1m5 0h2m7 0h1m1 0h2m11 0h1m1 0h1M0 13.5h2m15 0h1m15 0h1m5 0h1m25 0h1m1 0h1m39 0h1m4 0h1m1 0h2m4 0h1M22 14.5h1m10 0h1m8 0h1m5 0h1m22 0h1m15 0h1m10 0h1m1 0h1m11 0h1M12 15.5h1m14 0h1m3 0h1m3 0h1m4 0h1m7 0h1m10 0h1m7 0h1m38 0h1m5 0h1m3 0h1m2 0h1M26 16.5h1m6 0h1m17 0h1m12 0h1m5 0h1m6 0h1m5 0h1m25 0h1m1 0h1m10 0h1m4 0h1M54 17.5h1m13 0h1m12 0h1m12 0h1m28 0h1m2 0h1M22 18.5h1m32 0h1m21 0h1m21 0h1m11 0h1m8 0h1m4 0h1M6 19.5h1m5 0h1m47 0h1m26 0h1m7 0h1m13 0h1m2 0h2m2 0h1M2 20.5h1m4 0h1m40 0h1m2 0h1m23 0h1m5 0h1m1 0h1m23 0h1m7 0h1m7 0h2M10 21.5h1m53 0h1m37 0h1m9 0h1m2 0h1m11 0h1M4 22.5h1m16 0h1m29 0h1m2 0h1m5 0h1m3 0h1m3 0h1m2 0h1m7 0h1m7 0h1m5 0h1m29 0h1M2 23.5h1m10 0h1m58 0h1m12 0h1m8 0h1m5 0h1m13 0h2m10 0h1M23 24.5h1m12 0h1m4 0h1m23 0h1m8 0h1m1 0h1m25 0h1M1 25.5h1m9 0h1m31 0h1m51 0h1m14 0h1m16 0h1M0 26.5h1m17 0h1m4 0h1m17 0h1m13 0h1m18 0h1m14 0h1m32 0h1M9 27.5h1m5 0h1m6 0h1m11 0h2m34 0h1m12 0h1m1 0h1m18 0h2m5 0h1m12 0h1m2 0h1M31 28.5h1m25 0h1m2 0h1m1 0h1m30 0h1M2 29.5h1m20 0h1m10 0h1m24 0h2m23 0h1m18 0h1m3 0h1m3 0h1m10 0h1M1 30.5h1m8 0h3m2 0h1m1 0h1m6 0h1m1 0h1m8 0h1m34 0h1m27 0h2m3 0h1m4 0h1m3 0h1m9 0h1M0 31.5h2m2 0h1m6 0h1m10 0h1m17 0h1m10 0h1m7 0h1m25 0h1m7 0h1m9 0h1M2 32.5h1m30 0h1m2 0h1m41 0h1m6 0h1m19 0h1m3 0h2m2 0h1m6 0h1m6 0h1M7 33.5h1m15 0h1m24 0h1m8 0h1m8 0h1m14 0h1m3 0h1m9 0h1m13 0h1m12 0h1M0 34.5h1m2 0h1m61 0h1m27 0h1M2 35.5h1m4 0h1m4 0h1m4 0h1m36 0h2m26 0h1m13 0h1m6 0h1m14 0h1m4 0h1M24 36.5h1m6 0h1m9 0h1m39 0h1m18 0h1m1 0h3m21 0h1M35 37.5h2m30 0h1m5 0h1m35 0h1m13 0h1M6 38.5h1m5 0h2m10 0h1m36 0h1m34 0h1M81 39.5h1m17 0h1m3 0h1m8 0h1m10 0h1"/>
<path stroke="#f3d5d0" d="M9 0.5h1m9 0h1m21 0h1m57 0h1M24 1.5h1m9 0h2m12 0h1m47 0h1m3 0h1m2 0h1m3 0h1m4 0h1m11 0h2M10 2.5h1m62 0h1m8 0h1m14 0h1m1 0h1m16 0h1M40 3.5h1m6 0h1m22 0h1m31 0h1m2 0h1m4 0h1M6 4.5h1m43 0h1m19 0h1m32 0h1m11 0h1m2 0h1m5 0h2M2 5.5h2m17 0h1m11 0h1m41 0h1m6 0h1m13 0h1m23 0h1M3 6.5h1m11 0h1m14 0h2m23 0h1m21 0h1m10 0h1m8 0h1m4 0h1m1 0h1m20 0h1M2 7.5h1m19 0h1m7 0h1m14 0h1m5 0h1m2 0h1m49 0h1m1 0h1m2 0h1M31 8.5h1m16 0h1m21 0h1m14 0h1m5 0h1m33 0h1M7 9.5h1m4 0h1m2 0h1m19 0h1m17 0h1m7 0h1m5 0h1m28 0h1m5 0h1M73 10.5h1m9 0h1m11 0h1m27 0h1M3 11.5h1m8 0h1m36 0h1m16 0h2m17 0h1m26 0h1m1 0h1m12 0h1M5 12.5h1m52 0h1m12 0h1m3 0h1m47 0h1M13 13.5h1m20 0h1m7 0h1m36 0h1m43 0h1M2 14.5h2m2 0h1m4 0h1m3 0h1m21 0h1m5 0h1m37 0h1m13 0h1m25 0h1M30 15.5h1m34 0h1m22 0h1m13 0h1M0 16.5h1m16 0h1m17 0h1m11 0h1m6 0h1m3 0h1m13 0h1m1 0h2m39 0h1m4 0h1M11 17.5h1m50 0h1m34 0h2m28 0h1M1 18.5h1m5 0h1m4 0h1m2 0h1m17 0h1m40 0h1m29 0h1M21 19.5h1m49 0h1m1 0h1m7 0h1m19 0h1m2 0h2m15 0h1m4 0h1M12 20.5h1m13 0h1m71 0h1m12 0h1M24 21.5h1m11 0h1m11 0h1m4 0h1m8 0h1m2 0h1M0 22.5h1m7 0h1m11 0h1m18 0h1m4 0h1m24 0h1m27 0h1m2 0h1m8 0h1m10 0h1m1 0h1M22 23.5h1m12 0h1m38 0h1m2 0h1m14 0h1m2 0h1m27 0h1m3 0h1M6 24.5h1m6 0h1m6 0h1m3 0h1m14 0h1m11 0h1m19 0h1m8 0h1m11 0h2m18 0h1m7 0h1m1 0h1M17 25.5h1m13 0h1m3 0h1m49 0h1m21 0h1m15 0h1M30 26.5h1m5 0h1m26 0h1m41 0h1m4 0h1m4 0h1M21 27.5h1m19 0h1m13 0h1m24 0h1m14 0h1m1 0h1m11 0h1m4 0h1M85 28.5h1m8 0h1m7 0h1m17 0h2M3 29.5h1m57 0h1m3 0h1m4 0h1m2 0h1m1 0h1m51 0h1M36 30.5h1m22 0h1m34 0h1m2 0h1M10 31.5h1m4 0h1m17 0h1m28 0h1m8 0h1m50 0h1M24 32.5h2m23 0h1m13 0h1m11 0h1m48 0h1M2 33.5h1m59 0h1m7 0h1m2 0h1m46 0h1m5 0h1M1 34.5h1m55 0h1m34 0h1m9 0h1M8 35.5h1m1 0h1m2 0h2m8 0h1m52 0h1m25 0h1m14 0h1m2 0h1M2 36.5h1m12 0h1m19 0h1m26 0h1m24 0h1M48 37.5h1m5 0h1m27 0h1m13 0h1m2 0h1m2 0h1m3 0h1m9 0h1M5 38.5h1m1 0h1m7 0h1m19 0h1m15 0h1m10 0h1m9 0h1m19 0h1m20 0h1M17 39.5h1m23 0h1m31 0h1m13 0h1m6 0h1"/>
<path stroke="#f2cdc7" d="M57 0.5h1m13 0h1m9 0h1m27 0h1m6 0h1m8 0h1M13 1.5h1m12 0h1m30 0h1m15 0h1m9 0h1m31 0h1M33 2.5h1m7 0h1m6 0h1m26 0h1m51 0h1M11 3.5h1m6 0h1m27 0h1m1 0h1m11 0h1m20 0h1m21 0h1M82 4.5h1m40 0h1M11 5.5h1m5 0h1m67 0h1m24 0h1m12 0h1m3 0h1M7 6.5h1m25 0h1m29 0h1m9 0h1m7 0h1m3 0h1m7 0h2m10 0h1m9 0h1m4 0h1M53 7.5h1m1 0h1m14 0h1m21 0h1M10 8.5h1m1 0h1m11 0h1M2 9.5h2m5 0h1m7 0h1m15 0h1m14 0h1m35 0h1m39 0h2M5 10.5h1m16 0h1m11 0h1m36 0h1m24 0h1M26 11.5h1m20 0h1m2 0h1m22 0h1m26 0h1m23 0h1M15 12.5h1m10 0h1m18 0h1m15 0h2m29 0h1m6 0h1m2 0h1m24 0h1M3 13.5h1m51 0h1m8 0h1m18 0h1M12 14.5h1m11 0h1m99 0h1M55 15.5h1m5 0h1M24 16.5h1m28 0h1m40 0h1m2 0h1m15 0h1M22 17.5h1m32 0h1m17 0h2m17 0h1M3 18.5h1m7 0h1m22 0h1m13 0h1m16 0h1m4 0h1m2 0h1m47 0h1M15 19.5h1m15 0h1m22 0h1m7 0h1m61 0h1M15 20.5h1m2 0h1m14 0h1m16 0h1m49 0h1M3 21.5h1m14 0h1m7 0h1m96 0h1M13 22.5h1m12 0h1m6 0h1m36 0h1m6 0h1m2 0h1m4 0h1m8 0h2m7 0h1m13 0h2M81 23.5h2M9 24.5h1m16 0h1m6 0h1m26 0h1m34 0h1m1 0h1m23 0h1M57 25.5h1m15 0h1M2 26.5h1m4 0h1m14 0h1m36 0h1m1 0h1m19 0h1m30 0h1m10 0h1M11 27.5h1m45 0h1m17 0h1m5 0h1m43 0h1M2 28.5h1m12 0h1m51 0h1m2 0h1M48 29.5h1m5 0h1m41 0h1m23 0h1m4 0h2M57 30.5h1m23 0h1m24 0h1m16 0h1M17 31.5h1m6 0h1m23 0h1m11 0h1m6 0h1m2 0h1m11 0h2m17 0h2M0 32.5h1m56 0h1m48 0h1M40 33.5h1m14 0h1m19 0h1m26 0h1m14 0h1M13 34.5h1m1 0h1m6 0h1M49 35.5h1m13 0h1m3 0h1m26 0h1M10 36.5h1m71 0h1m32 0h1M2 37.5h2m17 0h1m73 0h1m11 0h1m7 0h1M28 38.5h1m7 0h1m21 0h1m14 0h1m11 0h1m4 0h1m18 0h1M22 39.5h1m38 0h1m1 0h1m37 0h1m5 0h1m12 0h1"/>
<path stroke="#f0c5bf" d="M0 0.5h1m25 0h1m7 0h1m39 0h1m8 0h1m36 0h1M3 1.5h1m93 0h1M60 2.5h1m22 0h1m20 0h1m15 0h1M83 3.5h1m36 0h1M3 4.5h1m31 0h1m12 0h1m24 0h1m9 0h1m10 0h1m25 0h1M19 5.5h1m102 0h1M2 6.5h1m23 0h1m90 0h1M12 7.5h1m27 0h1m32 0h1m28 0h1m12 0h1m4 0h1M53 8.5h1m69 0h2m1 0h1M95 9.5h1m9 0h1m17 0h1m2 0h1M105 10.5h1M17 12.5h1m100 0h1M15 13.5h1m41 0h1M55 14.5h1m5 0h1m21 0h1m9 0h1m21 0h1M10 15.5h1m22 0h1m39 0h1m11 0h1m27 0h1M1 16.5h1m13 0h1m14 0h1m14 0h1m2 0h1m13 0h1m2 0h1m19 0h1m13 0h1M26 17.5h1m56 0h1m38 0h1M6 18.5h1m46 0h1m21 0h1M57 19.5h1M97 20.5h1M17 21.5h1m13 0h1m38 0h1m10 0h1m1 0h1m1 0h1m8 0h1m10 0h1m19 0h1M17 22.5h1m6 0h1m11 0h1m65 0h1m21 0h1M11 23.5h1m3 0h1m96 0h1m12 0h1M11 24.5h1m45 0h1m25 0h1m12 0h1m8 0h1m17 0h2m1 0h1M70 25.5h1m33 0h1M24 26.5h1m50 0h1m48 0h1M93 27.5h1m29 0h1M24 28.5h1m98 0h1M83 29.5h1m29 0h1M74 30.5h1m25 0h1M13 31.5h1m5 0h1m37 0h1m5 0h1m30 0h1m29 0h1m1 0h1M11 32.5h1m99 0h1M1 33.5h1m10 0h1m18 0h1m28 0h1m22 0h1m37 0h1m3 0h1M76 34.5h1m32 0h1M65 35.5h1m4 0h1m4 0h1m10 0h1M97 36.5h1m18 0h1m7 0h1M17 37.5h1m6 0h1m15 0h1m29 0h1m34 0h1m18 0h1M0 38.5h1m9 0h1m29 0h1m29 0h1m26 0h1m22 0h1M1 39.5h1m7 0h1m3 0h1m10 0h1m32 0h1m24 0h1m12 0h1m31 0h1"/>
<path stroke="#efbeb7" d="M48 0.5h1m21 0h1m23 0h1m20 0h1m6 0h1M0 1.5h1m14 0h1m107 0h1M15 2.5h1m8 0h1M2 3.5h1m31 0h1m30 0h1m7 0h1m10 0h1M2 4.5h1m7 0h1M13 5.5h1m22 0h1m7 0h1M48 6.5h1m25 0h2M20 7.5h1m14 0h1m49 0h1M3 8.5h1m71 0h1M24 9.5h1m58 0h1m1 0h1m21 0h1m1 0h1m2 0h1M83 11.5h1M2 12.5h1m67 0h1M5 13.5h1M75 14.5h1m35 0h1M54 15.5h1M7 16.5h1m96 0h2m17 0h1M120 17.5h1M2 18.5h1m48 0h1m31 0h1m1 0h1m38 0h1m2 0h1M22 19.5h1m25 0h1m43 0h1m18 0h1M95 20.5h1M35 21.5h1m37 0h1M1 22.5h1m7 0h1m38 0h1M124 23.5h1M2 24.5h1m82 0h1m12 0h1M48 25.5h1m13 0h1m49 0h1M35 26.5h1m67 0h1M65 27.5h1m1 0h1M126 28.5h1M15 29.5h1M18 30.5h1m90 0h1M20 31.5h1m99 0h1M33 33.5h1m2 0h1m81 0h1M41 34.5h1m28 0h1m11 0h2M57 35.5h1m29 0h1M17 36.5h1m4 0h1m25 0h1m18 0h1M11 37.5h1m3 0h1m7 0h1m9 0h1m49 0h1m14 0h1M104 38.5h1m19 0h1m2 0h1"/>
<path stroke="#edb6ad" d="M75 0.5h1M11 1.5h1m55 0h1M17 2.5h1m39 0h1M15 5.5h1m46 0h1m7 0h1m53 0h1M22 6.5h1m37 0h1m63 0h1M35 8.5h1M60 11.5h1M120 12.5h1M17 15.5h1M57 16.5h1m68 0h1M57 18.5h1m42 0h1m14 0h1m10 0h1M9 19.5h1m110 0h1m2 0h1M11 22.5h1m19 0h1M48 23.5h1M67 24.5h1m2 0h1M73 26.5h1m23 0h1M48 27.5h1m10 0h1m43 0h1M59 28.5h1M65 30.5h1m17 0h1M127 31.5h1M15 32.5h1m67 0h1M107 33.5h1M126 34.5h1M31 35.5h1m65 0h1m17 0h1M123 36.5h1M2 38.5h1m64 0h1m47 0h1M48 39.5h1m16 0h1m4 0h1m6 0h1"/>
<path stroke="#ebaea4" d="M17 3.5h1M9 5.5h1M15 8.5h1M36 9.5h1M85 12.5h1M7 17.5h1m59 0h1m2 0h1m19 0h1m11 0h1M123 18.5h1M61 19.5h1M2 21.5h1m8 0h1M48 24.5h1M2 31.5h1M1 32.5h1M17 33.5h1m85 0h1m23 0h1M48 34.5h1M15 35.5h1M75 37.5h1M123 38.5h1"/>
<path stroke="#e9a298" d="M109 1.5h1M94 5.5h1M1 6.5h1m9 0h1m71 0h1M40 9.5h1m34 0h1M120 10.5h1m3 0h1M61 17.5h1M9 21.5h1M83 22.5h1m31 0h1M3 26.5h1M83 28.5h1M24 29.5h1M70 32.5h1"/>
<path stroke="#e6988d" d="M109 2.5h1m14 0h1M15 3.5h1M65 8.5h1M73 9.5h1M15 22.5h1M11 34.5h1M83 39.5h1"/>
<path stroke="#e48f82" d="M60 0.5h1M115 11.5h1M124 21.5h1M15 24.5h1M15 25.5h1M22 38.5h1m60 0h1"/>
<path stroke="#e18375" d="M123 7.5h1"/>
</g>
<g transform="translate(452.8 1739.8) scale(2.3308 11.1800)">
<path stroke="#b1cbe0" d="M38 29.5h1"/>
<path stroke="#bbd2e4" d="M9 0.5h1M25 37.5h1"/>
<path stroke="#c7dbea" d="M9 4.5h1M9 8.5h1M9 10.5h1M23 25.5h1m14 0h1"/>
<path stroke="#d1e1ee" d="M7 0.5h1M38 1.5h1M38 3.5h1M38 7.5h1M16 10.5h1M1 12.5h1M29 14.5h1m8 0h1M9 16.5h1M1 18.5h1M38 19.5h1M9 20.5h1M9 25.5h1M9 27.5h1M38 38.5h1M23 39.5h1m14 0h1"/>
<path stroke="#dae7f1" d="M9 2.5h1m6 0h1M9 12.5h1M29 15.5h1m8 0h1M23 16.5h1M33 18.5h1M8 20.5h1M9 24.5h1M33 25.5h1M43 28.5h1M31 29.5h1M9 30.5h1M5 34.5h1m10 0h1m6 0h1M9 37.5h1"/>
<path stroke="#e5edf4" d="M13 0.5h1m4 0h1m6 0h1M43 1.5h1M12 2.5h1m25 0h1M14 4.5h1m4 0h1m5 0h1m6 0h1m17 0h1M25 6.5h1m12 0h1M28 8.5h1M38 10.5h2m3 0h1M32 11.5h1M25 12.5h1m17 0h1M9 14.5h1m7 0h1m5 0h1m9 0h1m15 0h1M9 15.5h1m39 0h1M38 16.5h1M9 17.5h1m15 0h1M16 19.5h1m8 0h1M7 20.5h1M1 21.5h1m7 0h1M1 23.5h1m25 0h1M18 25.5h1M42 27.5h1M7 28.5h1M8 29.5h2m27 0h1M12 30.5h1m5 0h1m19 0h1M9 32.5h1M33 33.5h1M41 35.5h1M8 36.5h2m33 0h1M21 38.5h1m20 0h1m7 0h1M12 39.5h1m7 0h1"/>
<path stroke="#eef1f6" d="M25 1.5h1m16 0h1m4 0h1m2 0h1M9 3.5h1m39 0h1M8 4.5h1m14 0h1m2 0h1m6 0h1m1 0h1m2 0h2m3 0h1M1 8.5h1m36 0h2M1 9.5h1m2 0h1m6 0h1M15 10.5h1m34 0h1M1 11.5h1m7 0h1m40 0h1M12 12.5h1m19 0h1m5 0h1M1 13.5h1m24 0h1m11 0h1M8 14.5h1m6 0h1m10 0h1m12 0h1m5 0h1M41 15.5h1M20 16.5h1M50 17.5h1M18 18.5h1M9 19.5h1m2 0h1m6 0h1m12 0h1M8 21.5h1m29 0h1M50 22.5h1M3 23.5h1m19 0h1m4 0h1m9 0h1M38 24.5h1m4 0h1M19 25.5h2m4 0h1m2 0h1m2 0h1m5 0h1M43 26.5h1M38 27.5h1M9 28.5h1m6 0h1m6 0h1m9 0h1M23 29.5h1m4 0h1m16 0h1M8 30.5h1m32 0h1M9 31.5h1m7 0h1m8 0h1M38 32.5h1M32 33.5h1M8 34.5h1m24 0h1m4 0h1M26 36.5h1m6 0h1M2 37.5h1m7 0h1M8 38.5h2m33 0h1M11 39.5h1m27 0h1"/>
<path stroke="#f3f2f2" d="M17 0.5h1m13 0h1M2 1.5h1m12 0h1m12 0h2M0 3.5h1m3 0h1m7 0h1m18 0h1m7 0h1m2 0h2m6 0h1M2 4.5h1m4 0h1m16 0h1m3 0h1m8 0h1m8 0h1M25 5.5h1m6 0h1m5 0h1m4 0h1m6 0h1M0 6.5h1m6 0h1m10 0h1m12 0h1M1 7.5h1m3 0h1m3 0h1m15 0h1m16 0h1M26 8.5h1m4 0h1M15 9.5h1m9 0h1m7 0h1m4 0h1M26 10.5h1m5 0h2M38 11.5h1m2 0h2M8 12.5h1m9 0h2m15 0h1M9 13.5h2m7 0h1m6 0h1m3 0h1m1 0h1m17 0h1M12 14.5h1M2 15.5h1m13 0h1m28 0h1M39 16.5h1m10 0h1M19 17.5h1m18 0h1M9 18.5h2m1 0h1m3 0h2m13 0h1M2 19.5h1m15 0h1m10 0h1m1 0h1M27 20.5h2m5 0h1m3 0h1M12 21.5h1m10 0h1m7 0h1M38 22.5h2M6 23.5h4m9 0h1m5 0h1m14 0h1m3 0h1m5 0h1M12 24.5h1m29 0h1M5 25.5h1m2 0h1m8 0h1m3 0h2m6 0h1M9 26.5h1m8 0h2m18 0h1M8 27.5h1m11 0h1M5 28.5h1m23 0h2m7 0h1m5 0h1M10 29.5h1m9 0h1m5 0h1m5 0h1m11 0h1m6 0h1M3 30.5h1m19 0h1m6 0h1m19 0h1M18 31.5h1m4 0h1m8 0h1m5 0h1m12 0h1M29 32.5h1m2 0h2m5 0h1m3 0h1M20 33.5h1M19 34.5h1m19 0h1M17 36.5h1m9 0h1m3 0h1m6 0h1m3 0h1m7 0h1M17 37.5h1m6 0h1m6 0h1m19 0h1M7 39.5h1m35 0h1"/>
<path stroke="#f4ecea" d="M34 0.5h1m3 0h2M4 1.5h1m4 0h1m6 0h2m21 0h1M1 2.5h1m13 0h1m7 0h2m1 0h1m1 0h1m10 0h1m4 0h1M3 3.5h1m13 0h1m15 0h1M18 4.5h1m8 0h1m1 0h1m21 0h1M9 5.5h1m2 0h1m10 0h1m25 0h1M12 6.5h1m1 0h1m14 0h1M16 7.5h1m4 0h1m1 0h1m4 0h1m3 0h1m6 0h1M10 8.5h1m12 0h1m1 0h1m23 0h1M9 9.5h1m2 0h1m18 0h1m14 0h1M2 10.5h1m14 0h1m10 0h1m2 0h1m9 0h1M2 11.5h1m1 0h1m11 0h1m1 0h1m6 0h2m7 0h1M7 12.5h1m22 0h2m1 0h1M4 13.5h1m3 0h1m8 0h1m33 0h1M20 14.5h1m21 0h1m7 0h1M3 15.5h1m16 0h1m1 0h1m7 0h1m1 0h1m2 0h1m14 0h1M16 16.5h1m1 0h1m6 0h1m16 0h1M23 17.5h1m18 0h1M23 18.5h1m1 0h1m1 0h2m6 0h1m3 0h1m3 0h1M1 19.5h1m8 0h1m2 0h1m3 0h1m17 0h1m7 0h1m6 0h1M12 20.5h1m7 0h1m2 0h1m1 0h1m3 0h1m2 0h1m2 0h1m6 0h2m2 0h1m3 0h1M4 21.5h1m2 0h1m12 0h1m5 0h1m5 0h1m3 0h1m6 0h1M1 22.5h1m5 0h1m27 0h1M30 23.5h3M1 24.5h1m4 0h1m19 0h1m2 0h1M1 25.5h1m24 0h1m5 0h1m6 0h1M4 26.5h1m21 0h1m4 0h1m14 0h1m4 0h1M7 27.5h1m10 0h1m11 0h1m2 0h1M2 28.5h1m15 0h1m1 0h1m5 0h1M0 29.5h1m1 0h1m4 0h1m6 0h1m2 0h1m9 0h1m5 0h1M16 30.5h1m8 0h1m17 0h1M12 31.5h1m15 0h1m1 0h2m7 0h1m2 0h1M10 32.5h1m13 0h1m1 0h1m15 0h1M8 33.5h1m9 0h1m2 0h1m7 0h1m4 0h1m3 0h2m4 0h1m5 0h1M0 34.5h3m4 0h1m2 0h1m1 0h1m37 0h1M7 35.5h1m24 0h1m17 0h1M2 36.5h1m4 0h1m4 0h2m2 0h1m13 0h1m4 0h1m5 0h1m6 0h2M6 37.5h2m21 0h2M7 38.5h1m4 0h1m3 0h1m8 0h1m8 0h2m9 0h1M1 39.5h1m19 0h1m4 0h1m8 0h1m1 0h1m11 0h1"/>
<path stroke="#f5e5e2" d="M8 0.5h1m1 0h1m8 0h1m7 0h3m3 0h1m7 0h1m8 0h1M1 1.5h1m10 0h2m7 0h1m8 0h1m1 0h1m1 0h2M7 2.5h1m11 0h1m5 0h1m1 0h1m1 0h1m3 0h1m13 0h1m2 0h1M1 3.5h1m5 0h1m10 0h1m6 0h2m8 0h1m5 0h1m2 0h1M1 4.5h1m18 0h3m8 0h1M6 5.5h1m23 0h2M2 6.5h1m10 0h1m9 0h2m2 0h2m3 0h2M8 7.5h1m6 0h1m2 0h1m11 0h1m10 0h1m3 0h1M2 8.5h1m5 0h1m3 0h1m19 0h1m10 0h1M7 9.5h2m1 0h1m7 0h2m2 0h1m14 0h1m12 0h1M1 10.5h1m4 0h1m3 0h1m8 0h1m14 0h2m1 0h1M8 11.5h1m1 0h1m4 0h1m7 0h1m3 0h1m1 0h1m14 0h1M4 12.5h1m1 0h1m10 0h1m5 0h1m22 0h1M0 13.5h1m6 0h1m4 0h1m3 0h1m2 0h1m3 0h1M18 14.5h2m4 0h1m5 0h2m9 0h1M5 15.5h1m2 0h1m2 0h2m2 0h1m3 0h1m5 0h1m2 0h1m13 0h2m7 0h1M1 16.5h1m2 0h1m2 0h1m2 0h1m1 0h1m2 0h1m27 0h1m4 0h1M7 17.5h1m7 0h1m10 0h1m4 0h1m1 0h1m3 0h1M8 18.5h1m5 0h1m9 0h1m1 0h1m2 0h1m18 0h1M5 19.5h1m17 0h1m10 0h1m4 0h1m4 0h2M1 20.5h1m4 0h1m3 0h1m5 0h1m1 0h1m3 0h1m7 0h1m8 0h1m5 0h1m3 0h1M2 21.5h1m8 0h1m6 0h1m25 0h1m2 0h1M10 22.5h1m8 0h1m5 0h1m6 0h1M13 23.5h1m10 0h1m12 0h1m5 0h1m3 0h1M7 24.5h1m8 0h1m11 0h1m3 0h3m12 0h1M2 25.5h1m27 0h1m12 0h1m4 0h1m1 0h2M8 26.5h1m1 0h1m22 0h1m3 0h1m2 0h1m7 0h1M4 27.5h1m5 0h1m5 0h1m8 0h1m2 0h2m20 0h1M1 28.5h1m2 0h1m1 0h1m5 0h1m6 0h1m7 0h1m17 0h1m1 0h1M36 29.5h1m2 0h1m2 0h1M4 30.5h1m28 0h1m1 0h1m6 0h1M2 31.5h1m4 0h1m11 0h1m1 0h1M2 32.5h1m9 0h1m3 0h1m10 0h1m6 0h1m15 0h2M1 33.5h1m5 0h1m1 0h1m9 0h1m21 0h1M18 34.5h1m12 0h1m3 0h1m8 0h2M1 35.5h1m17 0h1m13 0h1m4 0h1m4 0h1M3 36.5h2m5 0h1m10 0h1m7 0h1M8 37.5h1m9 0h1m4 0h1m2 0h3m10 0h1m2 0h1m7 0h1M4 38.5h1m13 0h2m4 0h1m11 0h2m8 0h1M0 39.5h1m24 0h1m3 0h2"/>
<path stroke="#f4dcd9" d="M12 0.5h1m1 0h1m17 0h1m4 0h1m5 0h1m2 0h1M14 1.5h1m5 0h1m2 0h1m9 0h1m3 0h1m3 0h1m4 0h1M5 2.5h1m2 0h1m8 0h1m14 0h1m2 0h1m7 0h1M11 3.5h1m25 0h1m13 0h1M3 4.5h1m6 0h1m1 0h2m16 0h1m3 0h1m7 0h1m1 0h1m3 0h1M7 5.5h2m1 0h1m9 0h1m3 0h1m1 0h1m2 0h1m6 0h2m4 0h1M15 6.5h1m10 0h1m12 0h1M4 7.5h1m1 0h2m2 0h1m1 0h1m11 0h1m1 0h1m8 0h1m14 0h1M6 8.5h1m8 0h1m11 0h1m7 0h1m6 0h1M23 9.5h1m3 0h1m1 0h1m2 0h1m6 0h1m7 0h1M0 10.5h1m6 0h1m10 0h1m2 0h1m1 0h1m22 0h1M0 11.5h1m12 0h1m3 0h1m1 0h1m1 0h1m6 0h1m1 0h1m2 0h1m9 0h1m5 0h1M2 12.5h1m2 0h1m9 0h2m17 0h1m4 0h1m2 0h1m4 0h1m2 0h2M5 13.5h1m8 0h1m7 0h1m9 0h1m2 0h1m6 0h2m1 0h2m3 0h1M1 14.5h1m4 0h2m2 0h1m21 0h1m4 0h1M4 15.5h1m5 0h1m12 0h1m2 0h1m20 0h1M8 16.5h1m4 0h1m5 0h1m10 0h3m2 0h1m1 0h1m9 0h1M2 17.5h1m1 0h1m1 0h1m7 0h1m12 0h1m7 0h1m11 0h1M6 18.5h2m3 0h1m8 0h1m9 0h1m1 0h1m9 0h1m1 0h1m2 0h1m1 0h1M4 19.5h1m17 0h1m19 0h1m3 0h2M2 20.5h1m11 0h2m1 0h1m6 0h1m6 0h1m5 0h1M5 21.5h1m4 0h1m11 0h1m6 0h1m4 0h1m10 0h1m2 0h2m1 0h1M6 22.5h1m10 0h1m2 0h1m21 0h2M10 23.5h1m9 0h1m14 0h1m10 0h1m2 0h1M2 24.5h1m1 0h1m6 0h1m3 0h1m19 0h2m9 0h1M3 25.5h1m7 0h1m2 0h1m9 0h1m2 0h1m7 0h1M12 26.5h1m3 0h1m3 0h1m6 0h1m14 0h1m7 0h1M12 27.5h1m14 0h1m3 0h1m5 0h1m8 0h1M8 28.5h1m4 0h1m1 0h1m15 0h1m10 0h1m5 0h1m1 0h2M16 29.5h1m2 0h1m1 0h1m3 0h1m8 0h1m11 0h1m1 0h1m1 0h1M2 30.5h1m7 0h1m18 0h1m2 0h1m6 0h1m6 0h1m1 0h1m2 0h1M1 31.5h1m9 0h1m3 0h1M3 32.5h1m2 0h1m10 0h3m1 0h1m1 0h1m17 0h1M17 33.5h1m5 0h1m2 0h1m20 0h1M9 34.5h1m11 0h1m4 0h1m3 0h1m9 0h2M8 35.5h1m5 0h1m14 0h1M6 36.5h1m13 0h1m4 0h1M11 37.5h1m2 0h2m4 0h2m15 0h1m5 0h1M1 38.5h1m13 0h1m4 0h1m27 0h1M10 39.5h1m3 0h1m1 0h2m1 0h1m8 0h1m12 0h2m3 0h2m3 0h1"/>
<path stroke="#f3d5d0" d="M6 0.5h1m4 0h1m4 0h1m3 0h4m21 0h1m3 0h1M7 1.5h1m10 0h2m6 0h1m4 0h1m12 0h1m6 0h1M0 2.5h1m9 0h2m10 0h1m7 0h1m6 0h1m4 0h1m6 0h1M8 3.5h1m1 0h1m3 0h1m8 0h1m4 0h2m18 0h1M0 4.5h1m10 0h1m3 0h3m23 0h1m5 0h1m1 0h1M1 5.5h1m3 0h1m5 0h1m5 0h2m2 0h2m4 0h1m11 0h1M5 6.5h2m13 0h1m22 0h2m5 0h2M2 7.5h2m10 0h1m12 0h1m1 0h1m3 0h2m2 0h1m5 0h2m1 0h1M16 8.5h1m5 0h1m6 0h1m3 0h1m2 0h1m8 0h2m3 0h1M2 9.5h1m3 0h1m7 0h1m1 0h2m2 0h1m3 0h1m10 0h1m7 0h1m1 0h1M3 10.5h2m7 0h1m12 0h1m16 0h1m5 0h1M7 11.5h1m3 0h1m10 0h1M10 12.5h1m11 0h1m3 0h1m10 0h1m3 0h1m3 0h1M2 13.5h1m12 0h1m5 0h1m6 0h1m4 0h1m2 0h1m3 0h1m7 0h1M2 14.5h3m6 0h1m1 0h1m13 0h1m7 0h1m15 0h1M7 15.5h1m6 0h1m16 0h1m1 0h1m12 0h1M3 16.5h1m22 0h1m1 0h1m16 0h1M1 17.5h1m6 0h1m1 0h1m5 0h1m7 0h1m3 0h3M5 18.5h1m9 0h1m22 0h1m12 0h1M7 19.5h1m20 0h1m4 0h1m3 0h1M0 20.5h1m2 0h1m9 0h1m26 0h1m6 0h2M17 21.5h1m19 0h1m4 0h1m3 0h1M2 22.5h2m5 0h1m2 0h1m5 0h1m2 0h1m4 0h1m13 0h1m3 0h1M2 23.5h1m2 0h1m6 0h1m2 0h2m4 0h1m4 0h1m9 0h1m4 0h1m3 0h1m2 0h1m2 0h1M19 24.5h1m1 0h2m8 0h1m17 0h1M6 25.5h1m8 0h2m25 0h1m3 0h1M6 26.5h1m7 0h2m6 0h2m8 0h1m1 0h1m6 0h1m3 0h1M14 27.5h1m4 0h1m4 0h1m9 0h1m4 0h1m4 0h1M0 28.5h1m9 0h1m3 0h1m7 0h1m1 0h1m10 0h1m3 0h1M15 29.5h1m2 0h1m3 0h1m1 0h1m4 0h2m12 0h1M11 30.5h1m10 0h1m1 0h1m3 0h1m2 0h1m5 0h1m9 0h1m1 0h1M16 31.5h1m7 0h1m4 0h1m5 0h1m4 0h1m2 0h1m6 0h1M0 32.5h1m3 0h2m24 0h1m9 0h1m8 0h1M10 33.5h1m5 0h1m11 0h1m6 0h2m8 0h1M15 34.5h1m1 0h1m6 0h1m2 0h3m16 0h4M9 35.5h1m10 0h1m2 0h3m2 0h1m5 0h1m16 0h1M15 36.5h1m2 0h1m4 0h1m4 0h1m3 0h1m4 0h1m2 0h1M13 37.5h1m5 0h1m2 0h1m9 0h1m2 0h1m2 0h1m9 0h2M2 38.5h1m20 0h1m2 0h1m3 0h2m17 0h1M2 39.5h1m6 0h1m12 0h1m8 0h1m1 0h2m10 0h1"/>
<path stroke="#f2cdc7" d="M15 0.5h1m8 0h1m1 0h1m8 0h2m3 0h1m3 0h1m2 0h1m3 0h1M0 1.5h1m44 0h1m2 0h1M4 2.5h1m9 0h1m6 0h1m14 0h1m4 0h1M5 3.5h1m9 0h2m4 0h1m2 0h1m5 0h1m1 0h1m3 0h1M6 4.5h1M13 5.5h1m19 0h1m7 0h1m4 0h1m1 0h1M1 6.5h1m7 0h1m9 0h1m1 0h1m8 0h1m6 0h1m10 0h1M0 7.5h1m30 0h1m16 0h2M3 8.5h1m1 0h1m1 0h1m10 0h2m4 0h1M0 9.5h1m20 0h1m4 0h1m1 0h1m12 0h1M11 10.5h1m1 0h1m6 0h1m6 0h1m8 0h1m3 0h1m3 0h2m3 0h1M5 11.5h2m7 0h1m5 0h1m3 0h1m6 0h1m3 0h1m1 0h1m1 0h1m8 0h1m2 0h1M14 12.5h1m9 0h1m2 0h2m19 0h1M11 13.5h1m12 0h1m5 0h1m10 0h1m2 0h1M0 14.5h1m13 0h1m7 0h1m5 0h1m5 0h1m1 0h1m7 0h1m1 0h1M6 15.5h1m6 0h1m3 0h2m2 0h1m12 0h1m2 0h1M17 16.5h1m6 0h1m19 0h1M0 17.5h1m10 0h2m7 0h1m1 0h1m9 0h1m7 0h1m2 0h1m4 0h1M2 18.5h1m19 0h1m11 0h1m6 0h1m3 0h2m3 0h1M6 19.5h1m1 0h1m5 0h1m6 0h1m2 0h1m15 0h1M4 20.5h1m14 0h1m6 0h1m6 0h1m2 0h1m7 0h1M13 21.5h1m7 0h1m6 0h1m1 0h1m4 0h1m4 0h2M8 22.5h1m7 0h1m10 0h1m3 0h1m2 0h1m10 0h1m2 0h1M0 23.5h1m16 0h2m10 0h1m9 0h1M0 24.5h1m7 0h1m8 0h1m9 0h1m11 0h1m1 0h1m8 0h1M0 25.5h1m9 0h1m1 0h1m23 0h1m3 0h2m2 0h2m1 0h1M0 26.5h3m2 0h1m1 0h1m3 0h1m9 0h1m17 0h1m4 0h1M1 27.5h2m2 0h2m4 0h1m11 0h1m2 0h1m5 0h1m8 0h1M3 28.5h1m21 0h1m11 0h1M1 29.5h1m10 0h1m22 0h1m4 0h1m6 0h1M1 30.5h1m4 0h2m6 0h1m19 0h1m1 0h1M4 31.5h1m20 0h1m21 0h1M1 32.5h1m20 0h1m5 0h1m2 0h1m3 0h2M3 33.5h1m1 0h1m6 0h1m1 0h1m9 0h1m2 0h1m3 0h1m5 0h1m2 0h1m1 0h2m5 0h1m1 0h1M4 34.5h1m6 0h1m8 0h1m4 0h1m11 0h1m4 0h2M0 35.5h1m1 0h1m2 0h2m9 0h1m9 0h1m10 0h1m4 0h1m3 0h2m1 0h1M0 36.5h1m10 0h1m2 0h1m4 0h1m14 0h1m10 0h1m5 0h1M3 37.5h2m11 0h1m16 0h1m2 0h1M6 38.5h1m15 0h1m4 0h1m5 0h1m7 0h1m5 0h1M6 39.5h1m8 0h1m2 0h1m13 0h1m17 0h1"/>
<path stroke="#f0c5bf" d="M0 0.5h2m1 0h1m26 0h1M3 1.5h1m1 0h2m1 0h1m2 0h1m28 0h1m8 0h1M2 2.5h2m9 0h1m17 0h1m2 0h1m5 0h1m4 0h2M2 3.5h1m10 0h1m13 0h1m17 0h1M4 4.5h1m35 0h1m4 0h1M2 5.5h1m13 0h1M34 6.5h1m5 0h1m1 0h1m3 0h1M17 7.5h1m33 0h1M13 8.5h1m3 0h1m2 0h1m9 0h1m6 0h1m2 0h2m9 0h1M5 9.5h1m36 0h1M5 10.5h1m2 0h1m15 0h1m5 0h1m16 0h1M3 11.5h1m41 0h1M21 12.5h1m18 0h1M3 13.5h1m2 0h1m20 0h1m9 0h1M16 14.5h1m8 0h1M1 15.5h1m22 0h1m2 0h1m8 0h1m2 0h1m8 0h1M11 16.5h1m2 0h1m6 0h1m11 0h2m1 0h1m4 0h1m7 0h1M13 17.5h1m7 0h1m19 0h1m4 0h1m2 0h1M3 18.5h1m33 0h1M15 19.5h1m4 0h1m5 0h2m2 0h1m18 0h1M11 20.5h1m9 0h1M14 21.5h1m4 0h1m5 0h1m24 0h1M0 22.5h1m3 0h2m5 0h1m10 0h3m5 0h1m5 0h2m3 0h1m5 0h1m1 0h1M11 23.5h1m2 0h1m18 0h2m7 0h1M13 24.5h2m5 0h1m3 0h2m25 0h1M4 25.5h1m8 0h1M3 26.5h1m9 0h1m14 0h1m6 0h1m11 0h1M0 27.5h1m14 0h1m6 0h1m12 0h1m9 0h1m3 0h1M21 28.5h1m6 0h1m3 0h1m1 0h1m5 0h1M3 29.5h4m4 0h1m1 0h1M5 30.5h1m9 0h1m5 0h1m22 0h2M3 31.5h1m2 0h1m1 0h1m1 0h1m2 0h1m6 0h1m25 0h1M8 32.5h1m2 0h1m2 0h1m22 0h1m7 0h1M2 33.5h1m1 0h1m8 0h1m11 0h1M6 34.5h1m7 0h1m19 0h1M4 35.5h1m7 0h1m4 0h1m4 0h1m4 0h1m3 0h1m7 0h1M1 36.5h1m3 0h1m18 0h1m19 0h1M5 37.5h1m38 0h1m2 0h1M10 38.5h1m2 0h2m14 0h1m9 0h1m4 0h1m6 0h1M4 39.5h2m2 0h1m15 0h1m23 0h1"/>
<path stroke="#efbeb7" d="M2 0.5h1m39 0h1M24 1.5h1m2 0h1M6 2.5h1m11 0h1m1 0h1M20 3.5h1M5 4.5h1m30 0h1M0 5.5h1m3 0h1m10 0h1m3 0h1m15 0h1m9 0h1m1 0h1M3 6.5h1m4 0h1m2 0h1m4 0h2m4 0h1m12 0h1m9 0h1m1 0h1M19 7.5h2m15 0h1M4 8.5h1m6 0h1m2 0h1m6 0h1m12 0h1m12 0h1M3 9.5h1m9 0h1m16 0h1m3 0h1m5 0h1m10 0h1M29 10.5h1M12 11.5h1M0 12.5h1m2 0h1m7 0h1m24 0h1m7 0h1m4 0h1M13 13.5h1m6 0h1m18 0h1M5 14.5h1m15 0h1m18 0h1m6 0h1M44 15.5h1M2 16.5h1m2 0h1m16 0h1m17 0h1m5 0h1m4 0h1M34 17.5h1m1 0h1m8 0h1m5 0h1M13 18.5h1m5 0h1M36 19.5h1m4 0h1m9 0h1M5 20.5h1M6 21.5h1m8 0h2m7 0h1m8 0h1m5 0h1M13 22.5h1m1 0h1m12 0h1m22 0h1M22 23.5h1M3 24.5h1m6 0h1m7 0h1m4 0h1m16 0h1m7 0h1M7 25.5h1M24 26.5h2m3 0h2m18 0h1M13 27.5h1m3 0h1m25 0h1m3 0h1M17 28.5h1m18 0h1m4 0h1m7 0h1M41 29.5h1M19 30.5h2m5 0h2m12 0h1M14 31.5h1m18 0h2m2 0h1m10 0h2M13 32.5h1m1 0h1m4 0h1m23 0h1m2 0h2M6 33.5h1m15 0h1m7 0h1m15 0h1M3 34.5h1m18 0h1m28 0h1M15 35.5h1m2 0h1m16 0h1m4 0h1M39 36.5h1m6 0h1M1 37.5h1m10 0h1m33 0h1M5 38.5h1m5 0h1m5 0h1m10 0h1"/>
<path stroke="#edb6ad" d="M48 0.5h1M10 1.5h1m11 0h1m13 0h1M48 2.5h1m2 0h1M6 3.5h1m33 0h1m6 0h1M3 5.5h1m24 0h1m5 0h1m9 0h1M4 6.5h1m5 0h1m38 0h1M11 7.5h1m10 0h1M0 8.5h1m43 0h1m3 0h1M36 9.5h1m12 0h1M14 10.5h1m7 0h1m28 0h1M36 11.5h1m3 0h1M20 12.5h1m8 0h1M34 13.5h1M43 14.5h1m4 0h1M0 15.5h1m39 0h1M0 16.5h1M5 17.5h1m11 0h1m21 0h1M4 18.5h1m16 0h1m18 0h1M0 19.5h1m2 0h1m7 0h1M41 20.5h1M29 22.5h1M4 23.5h1M44 24.5h2M34 25.5h1m14 0h1M17 26.5h1m18 0h1M36 27.5h1m3 0h1m10 0h1M49 29.5h1M17 30.5h1M5 31.5h1m16 0h1m4 0h1m8 0h1m4 0h1m3 0h1M7 32.5h1m17 0h1M0 33.5h1m10 0h1m3 0h1m32 0h1M13 34.5h1m22 0h1M3 35.5h1m6 0h2m1 0h1m7 0h1m8 0h1M47 36.5h1M34 37.5h1m5 0h2m3 0h1M0 38.5h1m39 0h1M3 39.5h1m23 0h1m12 0h1"/>
<path stroke="#ebaea4" d="M19 3.5h1m14 0h1M40 5.5h1m10 0h1M41 6.5h1M47 11.5h1M47 13.5h1M6 16.5h1m22 0h1M3 17.5h1m14 0h1M36 18.5h1M48 19.5h1M51 20.5h1M0 21.5h1m2 0h1m23 0h1M14 22.5h1m31 0h1M30 24.5h1m6 0h1M21 27.5h1M11 28.5h1m34 0h1M0 31.5h1m43 0h1M46 32.5h1M32 34.5h1M45 35.5h1M22 36.5h1M3 38.5h1m28 0h1M36 39.5h1m7 0h1"/>
<path stroke="#e9a298" d="M4 0.5h2M22 3.5h1M14 5.5h1M13 7.5h1M44 9.5h1m3 0h1M46 11.5h1M13 12.5h1M27 16.5h1M5 24.5h1M48 27.5h1M0 30.5h1m12 0h1M48 35.5h1M13 39.5h1"/>
<path stroke="#e6988d" d="M46 3.5h1M36 6.5h1M47 7.5h1M44 17.5h1M0 18.5h1M33 22.5h1M3 27.5h1M36 35.5h1M0 37.5h1"/>
<path stroke="#e48f82" d="M40 7.5h1M36 36.5h1"/>
<path stroke="#e18375" d="M44 35.5h1"/>
</g>
</g>
<rect x="152" y="1722" width="300.8" height="17.8" fill="#55a868"/>
<rect x="452.8" y="1722" width="121.2" height="17.8" fill="#ff7f0e"/>
<g font-size="8.9" fill="#262626" text-anchor="end">
<text x="141.8" y="1748.0">IHH</text>
<text x="141.8" y="1770.3">COL2A1</text>
<text x="141.8" y="1792.7">PPP1R1B</text>
<text x="141.8" y="1815.1">SLC13A5</text>
<text x="141.8" y="1837.4">HOXB13</text>
<text x="141.8" y="1859.8">LHX2</text>
<text x="141.8" y="1882.1">RAB27B</text>
<text x="141.8" y="1904.5">DIPK1C</text>
<text x="141.8" y="1926.9">NDNF</text>
<text x="141.8" y="1949.2">SLC36A2</text>
<text x="141.8" y="1971.6">SMPD3</text>
<text x="141.8" y="1993.9">IRX1</text>
<text x="141.8" y="2016.3">GRM4</text>
<text x="141.8" y="2038.7">DLX1</text>
<text x="141.8" y="2061.0">HORMAD1</text>
<text x="141.8" y="2083.4">SYT13</text>
<text x="141.8" y="2105.7">BARX1</text>
<text x="141.8" y="2128.1">TBC1D16</text>
<text x="141.8" y="2150.5">AQP5</text>
<text x="141.8" y="2172.8">PLPPR2</text>
</g>
<linearGradient id="cbd"><stop offset="0.000" stop-color="#3a70a5"/><stop offset="0.062" stop-color="#487bac"/><stop offset="0.125" stop-color="#5687b4"/><stop offset="0.188" stop-color="#6392bb"/><stop offset="0.250" stop-color="#7ba3c6"/><stop offset="0.312" stop-color="#94b5d1"/><stop offset="0.375" stop-color="#abc6dc"/><stop offset="0.438" stop-color="#c2d7e8"/><stop offset="0.500" stop-color="#d7e5f0"/><stop offset="0.562" stop-color="#ecf0f6"/><stop offset="0.625" stop-color="#f4eeed"/><stop offset="0.688" stop-color="#f4ddda"/><stop offset="0.750" stop-color="#f2cec8"/><stop offset="0.812" stop-color="#efbeb7"/><stop offset="0.875" stop-color="#ebaca3"/><stop offset="0.938" stop-color="#e6978b"/><stop offset="1.000" stop-color="#e18173"/></linearGradient>
<rect x="208.2" y="2198.1" width="301.4" height="29.7" fill="url(#cbd)"/>
<g stroke="#262626" stroke-width="1.2">
<line x1="233.9" y1="2228.3" x2="233.9" y2="2232.8"/>
<line x1="273.1" y1="2228.3" x2="273.1" y2="2232.8"/>
<line x1="312.7" y1="2228.3" x2="312.7" y2="2232.8"/>
<line x1="351.9" y1="2228.3" x2="351.9" y2="2232.8"/>
<line x1="390.4" y1="2228.3" x2="390.4" y2="2232.8"/>
<line x1="430" y1="2228.3" x2="430" y2="2232.8"/>
<line x1="468.9" y1="2228.3" x2="468.9" y2="2232.8"/>
<line x1="508.5" y1="2228.3" x2="508.5" y2="2232.8"/>
</g>
<g fill="#000">
<text font-size="1000" transform="matrix(0.01645 0 0 0.01469 222.21 2247.10)">-4</text>
<text font-size="1000" transform="matrix(0.01645 0 0 0.01469 262.48 2246.30)">-3</text>
<text font-size="1000" transform="matrix(0.01645 0 0 0.01469 301.93 2245.60)">-2</text>
<text font-size="1000" transform="matrix(0.01645 0 0 0.01469 341.76 2246.30)">-1</text>
<text font-size="1000" transform="matrix(0.01645 0 0 0.01469 386.46 2248.90)">0</text>
<text font-size="1000" transform="matrix(0.01645 0 0 0.01469 424.30 2248.90)">1</text>
<text font-size="1000" transform="matrix(0.01645 0 0 0.01469 464.38 2247.80)">2</text>
<text font-size="1000" transform="matrix(0.01645 0 0 0.01469 502.58 2250.00)">3</text>
</g>
<g stroke="#e8e8e8" stroke-width="1.2">
<line x1="923.9" y1="57.4" x2="923.9" y2="494.2"/>
<line x1="987.1" y1="57.4" x2="987.1" y2="494.2"/>
<line x1="1050.3" y1="57.4" x2="1050.3" y2="494.2"/>
<line x1="1113.5" y1="57.4" x2="1113.5" y2="494.2"/>
<line x1="1176.7" y1="57.4" x2="1176.7" y2="494.2"/>
<line x1="1239.9" y1="57.4" x2="1239.9" y2="494.2"/>
<line x1="1303.1" y1="57.4" x2="1303.1" y2="494.2"/>
<line x1="1366.3" y1="57.4" x2="1366.3" y2="494.2"/>
<line x1="1429.5" y1="57.4" x2="1429.5" y2="494.2"/>
<line x1="899.6" y1="474.7" x2="1454.3" y2="474.7"/>
<line x1="899.6" y1="425.1" x2="1454.3" y2="425.1"/>
<line x1="899.6" y1="375.4" x2="1454.3" y2="375.4"/>
<line x1="899.6" y1="325.8" x2="1454.3" y2="325.8"/>
<line x1="899.6" y1="276.1" x2="1454.3" y2="276.1"/>
<line x1="899.6" y1="226.4" x2="1454.3" y2="226.4"/>
<line x1="899.6" y1="176.8" x2="1454.3" y2="176.8"/>
<line x1="899.6" y1="127.1" x2="1454.3" y2="127.1"/>
<line x1="899.6" y1="77.5" x2="1454.3" y2="77.5"/>
</g>
<g stroke="#333" stroke-width="1.1" stroke-dasharray="4 3.2" fill="none">
<path d="M923.9 276.1H1028.7"/>
<path d="M1005.6 276.1V474.7"/>
<path d="M1028.7 276.1V474.7"/>
</g>
<path d="M924.7 77.3 951.3 77.3 952.0 94.7 954.7 94.7 954.7 96.0 955.3 106.7 956.0 124.0 956.0 144.0 960.7 144.0 960.7 145.3 961.3 153.3 966.7 154.0 967.3 163.3 971.3 164.0 972.0 164.0 972.0 169.0 972.7 169.0 972.7 174.0 973.0 174.0 973.0 180.5 973.4 180.5 973.4 187.0 973.7 187.0 973.7 193.5 974.0 193.5 974.0 200.0 976.0 200.0 976.0 204.0 976.7 213.3 981.3 214.0 981.8 214.0 981.8 220.4 982.2 220.4 982.2 226.9 982.7 226.9 982.7 233.3 992.0 234.0 992.7 245.3 1006.7 245.3 1007.4 245.3 1007.4 250.7 1008.0 250.7 1008.0 256.0 1008.6 256.0 1008.6 261.6 1009.3 261.6 1009.3 267.3 1028.3 267.5 1028.5 267.5 1028.5 273.1 1028.8 273.1 1028.8 278.8 1029.0 278.8 1029.0 284.4 1029.2 284.4 1029.2 290.0 1037.5 290.0 1038.3 301.7 1050.8 301.7 1051.2 301.7 1051.2 307.5 1051.7 307.5 1051.7 313.3 1057.5 313.3 1058.3 324.7 1071.7 324.7 1072.0 335.8 1083.3 335.8 1083.8 335.8 1083.8 341.6 1084.2 341.6 1084.2 347.5 1090.0 347.5 1090.8 359.2 1093.3 360.0 1093.3 370.3 1135.0 370.3 1135.3 381.7 1148.3 381.7 1148.8 381.7 1148.8 387.9 1149.2 387.9 1149.2 394.2 1155.8 394.2 1156.2 394.2 1156.2 400.0 1156.7 400.0 1156.7 405.8 1162.5 405.8 1163.3 416.7 1175.0 416.7 1175.8 428.7 1292.7 428.5 1293.6 439.7 1394.1 439.7 1394.5 439.7 1394.5 445.6 1395.0 445.6 1395.0 451.5 1454.0 451.5" fill="none" stroke="#ff8c00" stroke-width="2" stroke-linejoin="miter"/>
<path d="M941.3 77.3h8M945.3 73.3v9.5M970.7 203.0h8M974.7 199.0v9.5M1020.2 267.3h8M1024.2 263.3v9.5M1448.2 451.5h8M1452.2 447.5v9.5" fill="none" stroke="#ff8c00" stroke-width="1.9"/>
<path d="M924.7 77.3 944.0 77.3 948.0 77.3 948.0 79.0 951.3 79.0 951.3 83.3 952.0 92.0 952.4 92.0 952.4 96.0 952.9 96.0 952.9 100.0 953.3 100.0 953.3 104.0 953.6 104.0 953.6 108.0 953.9 108.0 953.9 112.0 954.1 112.0 954.1 116.0 954.4 116.0 954.4 120.0 954.7 120.0 954.7 124.0 955.3 137.3 956.0 137.3 956.0 141.8 956.6 141.8 956.6 146.2 957.3 146.2 957.3 150.7 958.3 150.7 958.3 154.3 959.3 154.3 959.3 158.0 960.3 158.0 960.3 161.7 961.3 161.7 961.3 165.3 965.3 165.3 965.3 168.0 966.0 168.0 966.0 172.4 966.6 172.4 966.6 176.9 967.3 176.9 967.3 181.3 972.0 181.3 972.0 182.7 973.0 182.7 973.0 187.3 974.0 187.3 974.0 192.0 974.4 192.0 974.4 196.0 974.8 196.0 974.8 200.0 975.2 200.0 975.2 204.0 975.6 204.0 975.6 208.0 976.0 208.0 976.0 212.0 976.6 212.0 976.6 215.3 977.3 215.3 977.3 218.7 978.6 218.7 978.6 222.0 980.0 222.0 980.0 225.3 986.7 226.0 989.3 226.0 989.3 230.0 993.3 230.0 993.3 233.3 994.0 233.3 994.0 237.3 994.7 237.3 994.7 241.3 999.3 241.3 999.3 242.7 1001.0 242.7 1001.0 246.0 1002.7 246.0 1002.7 249.3 1003.1 249.3 1003.1 253.1 1003.4 253.1 1003.4 256.9 1003.8 256.9 1003.8 260.7 1004.2 260.7 1004.2 264.6 1004.6 264.6 1004.6 268.4 1004.9 268.4 1004.9 272.2 1005.3 272.2 1005.3 276.0 1006.7 276.0 1006.7 279.0 1010.9 279.0 1010.9 283.5 1015.0 283.5 1015.0 288.0 1021.7 288.0 1021.7 291.0 1025.0 291.0 1025.0 295.0 1026.7 295.0 1026.7 298.9 1028.3 298.9 1028.3 302.8 1030.0 302.8 1030.0 306.7 1031.7 306.7 1031.7 310.6 1033.3 310.6 1033.3 314.4 1035.0 314.4 1035.0 318.3 1036.7 318.3 1036.7 321.6 1038.3 321.6 1038.3 325.0 1042.5 325.0 1042.5 328.4 1046.7 328.4 1046.7 331.7 1051.7 331.7 1058.3 331.7 1058.3 335.0 1061.7 335.0 1061.7 340.8 1067.5 341.7 1069.2 341.7 1069.2 347.5 1072.5 348.0 1074.6 348.0 1074.6 351.9 1076.7 351.9 1076.7 355.8 1085.8 355.8 1085.8 357.5 1087.0 357.5 1087.0 360.9 1088.3 360.9 1088.3 364.2 1110.0 364.2 1116.7 364.2 1116.7 366.7 1118.3 366.7 1118.3 370.0 1125.8 370.3 1126.7 370.3 1126.7 374.2 1139.2 374.2 1141.2 374.2 1141.2 377.9 1143.3 377.9 1143.3 381.7 1148.3 381.7 1148.3 387.5 1156.7 387.5 1160.0 387.5 1160.0 391.7 1165.8 391.7 1166.7 391.7 1166.7 395.0 1177.5 395.0 1180.0 395.0 1180.0 398.3 1187.5 398.3 1190.0 398.3 1190.0 401.7 1229.5 401.6 1230.3 405.9 1269.3 405.9 1271.0 405.9 1271.0 410.6 1282.3 410.6 1283.2 410.6 1283.2 415.8 1356.9 415.8 1357.7 422.7 1454.0 422.7" fill="none" stroke="#006400" stroke-width="2" stroke-linejoin="miter"/>
<path d="M926.0 77.3h8M930.0 73.3v9.5M928.5 77.3h8M932.5 73.3v9.5M931.0 77.3h8M935.0 73.3v9.5M933.5 77.3h8M937.5 73.3v9.5M936.0 77.3h8M940.0 73.3v9.5M941.0 78.0h8M945.0 74.0v9.5M951.3 137.3h8M955.3 133.3v9.5M953.3 150.7h8M957.3 146.7v9.5M971.3 210.0h8M975.3 206.0v9.5M972.7 218.0h8M976.7 214.0v9.5M1017.7 291.0h8M1021.7 287.0v9.5M1026.0 306.7h8M1030.0 302.7v9.5M1094.0 364.2h8M1098.0 360.2v9.5M1101.0 364.2h8M1105.0 360.2v9.5M1228.0 405.9h8M1232.0 401.9v9.5M1237.6 405.9h8M1241.6 401.9v9.5M1246.8 405.9h8M1250.8 401.9v9.5M1256.1 405.9h8M1260.1 401.9v9.5M1261.9 405.9h8M1265.9 401.9v9.5M1270.9 410.6h8M1274.9 406.6v9.5M1315.3 415.8h8M1319.3 411.8v9.5M1377.7 422.7h8M1381.7 418.7v9.5M1417.9 422.7h8M1421.9 418.7v9.5M1419.6 422.7h8M1423.6 418.7v9.5M1428.6 422.7h8M1432.6 418.7v9.5" fill="none" stroke="#006400" stroke-width="1.9"/>
<rect x="899.6" y="57.4" width="554.7" height="436.8" fill="none" stroke="#b3b3b3" stroke-width="1.3"/>
<g stroke="#333" stroke-width="1.3">
<line x1="894.8" y1="474.7" x2="899.6" y2="474.7"/>
<line x1="923.9" y1="494.2" x2="923.9" y2="498.8"/>
<line x1="894.8" y1="375.4" x2="899.6" y2="375.4"/>
<line x1="1050.3" y1="494.2" x2="1050.3" y2="498.8"/>
<line x1="894.8" y1="276.1" x2="899.6" y2="276.1"/>
<line x1="1176.7" y1="494.2" x2="1176.7" y2="498.8"/>
<line x1="894.8" y1="176.8" x2="899.6" y2="176.8"/>
<line x1="1303.1" y1="494.2" x2="1303.1" y2="498.8"/>
<line x1="894.8" y1="77.5" x2="899.6" y2="77.5"/>
<line x1="1429.5" y1="494.2" x2="1429.5" y2="498.8"/>
</g>
<g font-size="19.8" fill="#4d4d4d">
<text x="889.3" y="482.9" text-anchor="end">0.00</text>
<text x="889.3" y="383.6" text-anchor="end">0.25</text>
<text x="889.3" y="284.3" text-anchor="end">0.50</text>
<text x="889.3" y="185.0" text-anchor="end">0.75</text>
<text x="889.3" y="85.7" text-anchor="end">1.00</text>
<text x="923.9" y="520.0" text-anchor="middle">0</text>
<text x="1050.3" y="520.0" text-anchor="middle">250</text>
<text x="1176.7" y="520.0" text-anchor="middle">500</text>
<text x="1303.1" y="520.0" text-anchor="middle">750</text>
<text x="1429.5" y="520.0" text-anchor="middle">1000</text>
</g>
<text x="1177.2" y="542.8" font-size="17.5" text-anchor="middle" fill="#000">Time in Days</text>
<text transform="translate(844.0 275.3) rotate(-90)" font-size="19" text-anchor="middle" fill="#000" textLength="325.7" lengthAdjust="spacingAndGlyphs">Survival probability Overall Survivall</text>
<text x="933.5" y="402.8" font-size="18" fill="#000">p = 0.81</text>
<rect x="1059.2" y="122.5" width="45.2" height="50.3" fill="#ec7c31" stroke="#e4701f" stroke-width="0.9"/>
<rect x="1059.2" y="188.0" width="45.2" height="49.8" fill="#548235" stroke="#466f2b" stroke-width="0.9"/>
<text x="1111.8" y="155.9" font-size="38" textLength="316.0" lengthAdjust="spacingAndGlyphs" fill="#000">Median 205, N=44</text>
<text x="1111.8" y="226.5" font-size="34.5" textLength="318.5" lengthAdjust="spacingAndGlyphs" fill="#000">Median 160, N= 142</text>
<text x="1019.8" y="23.1" font-size="18.5" fill="#000" textLength="51.5" lengthAdjust="spacingAndGlyphs">Strata</text>
<path d="M1086.0 15.5h16M1094.0 12.0v10" stroke="#ff8c00" stroke-width="2" fill="none"/>
<path d="M1214.6 15.5h16M1222.6 12.0v10" stroke="#006400" stroke-width="2" fill="none"/>
<text x="1114.0" y="23.1" font-size="16.3" fill="#333" textLength="87.5" lengthAdjust="spacingAndGlyphs">Group=ISA 1</text>
<text x="1243.2" y="23.1" font-size="16.3" fill="#333" textLength="89.5" lengthAdjust="spacingAndGlyphs">Group=REST</text>
<g stroke="#e8e8e8" stroke-width="1.2">
<line x1="923.4" y1="624.8" x2="923.4" y2="1061.8"/>
<line x1="986.6" y1="624.8" x2="986.6" y2="1061.8"/>
<line x1="1049.8" y1="624.8" x2="1049.8" y2="1061.8"/>
<line x1="1113.0" y1="624.8" x2="1113.0" y2="1061.8"/>
<line x1="1176.2" y1="624.8" x2="1176.2" y2="1061.8"/>
<line x1="1239.4" y1="624.8" x2="1239.4" y2="1061.8"/>
<line x1="1302.6" y1="624.8" x2="1302.6" y2="1061.8"/>
<line x1="1365.8" y1="624.8" x2="1365.8" y2="1061.8"/>
<line x1="1429.0" y1="624.8" x2="1429.0" y2="1061.8"/>
<line x1="898.6" y1="1042.8" x2="1454.3" y2="1042.8"/>
<line x1="898.6" y1="993.1" x2="1454.3" y2="993.1"/>
<line x1="898.6" y1="943.4" x2="1454.3" y2="943.4"/>
<line x1="898.6" y1="893.7" x2="1454.3" y2="893.7"/>
<line x1="898.6" y1="844.0" x2="1454.3" y2="844.0"/>
<line x1="898.6" y1="794.2" x2="1454.3" y2="794.2"/>
<line x1="898.6" y1="744.5" x2="1454.3" y2="744.5"/>
<line x1="898.6" y1="694.8" x2="1454.3" y2="694.8"/>
<line x1="898.6" y1="645.1" x2="1454.3" y2="645.1"/>
</g>
<g stroke="#333" stroke-width="1.1" stroke-dasharray="4 3.2" fill="none">
<path d="M923.4 844.0H1015.0"/>
<path d="M985.6 844.0V1042.8"/>
<path d="M1015.0 844.0V1042.8"/>
</g>
<path d="M923.3 644.4 941.3 644.4 941.3 656.7 950.0 657.3 952.0 657.3 952.0 660.0 952.6 660.0 952.6 665.0 953.3 665.0 953.3 670.0 953.8 670.0 953.8 675.8 954.2 675.8 954.2 681.5 954.7 681.5 954.7 687.3 955.3 710.0 960.7 710.0 961.3 736.7 965.3 737.3 966.0 750.0 970.0 750.7 970.0 763.3 972.7 764.0 972.7 790.0 974.7 790.0 974.7 791.3 975.3 803.3 975.6 803.3 975.6 810.0 976.0 810.0 976.0 816.6 976.4 816.6 976.4 823.3 976.7 823.3 976.7 830.0 977.1 843.3 992.5 842.5 993.0 856.7 1004.2 856.7 1005.0 871.7 1005.8 885.8 1029.2 885.8 1029.7 900.0 1056.7 900.0 1057.0 915.0 1057.5 928.3 1066.7 928.3 1067.0 943.0 1072.5 943.0 1072.8 957.5 1091.7 957.5 1092.0 971.7 1110.5 971.7 1110.8 985.0 1229.1 985.1 1229.8 998.9 1393.3 998.9 1394.1 1013.3 1453.0 1013.3" fill="none" stroke="#ff8c00" stroke-width="2" stroke-linejoin="miter"/>
<path d="M925.0 644.4h8M929.0 640.4v9.5M972.7 843.5h8M976.7 839.5v9.5" fill="none" stroke="#ff8c00" stroke-width="1.9"/>
<path d="M923.3 644.4 948.0 644.4 950.7 644.4 950.7 646.7 951.3 662.0 952.0 662.0 952.0 666.4 952.6 666.4 952.6 670.9 953.3 670.9 953.3 675.3 953.6 675.3 953.6 679.0 953.9 679.0 953.9 682.8 954.1 682.8 954.1 686.5 954.4 686.5 954.4 690.3 954.7 690.3 954.7 694.0 955.3 710.0 956.3 710.0 956.3 714.6 957.3 714.6 957.3 719.3 959.0 719.3 959.0 724.0 960.7 724.0 960.7 728.7 965.3 728.7 965.3 730.7 966.0 740.7 966.7 744.7 971.3 744.7 972.7 744.7 972.7 750.0 973.4 750.0 973.4 754.0 974.0 754.0 974.0 758.0 974.7 758.0 974.7 762.0 975.6 762.0 975.6 765.6 976.4 765.6 976.4 769.1 977.3 769.1 977.3 772.7 978.6 772.7 978.6 776.7 980.0 776.7 980.0 780.7 982.7 780.7 982.7 784.7 986.7 785.3 990.7 785.3 990.7 789.3 992.0 789.3 992.0 794.3 993.3 794.3 993.3 799.3 998.7 800.0 1000.4 800.0 1000.4 803.6 1002.0 803.6 1002.0 807.3 1002.4 807.3 1002.4 811.3 1002.8 811.3 1002.8 815.3 1003.2 815.3 1003.2 819.3 1003.6 819.3 1003.6 823.3 1004.0 823.3 1004.0 827.3 1006.7 827.3 1006.7 831.0 1009.4 831.0 1009.4 834.6 1012.0 834.6 1012.0 838.3 1014.7 838.3 1014.7 842.0 1016.7 842.0 1016.7 843.0 1023.3 843.0 1023.3 848.3 1024.5 848.3 1024.5 852.0 1025.8 852.0 1025.8 855.8 1027.0 855.8 1027.0 859.5 1028.3 859.5 1028.3 863.3 1030.5 863.3 1030.5 867.2 1032.8 867.2 1032.8 871.1 1035.0 871.1 1035.0 875.0 1036.2 875.0 1036.2 879.1 1037.5 879.1 1037.5 883.3 1042.5 883.3 1042.5 887.5 1048.3 887.5 1048.3 890.8 1053.3 890.8 1053.3 895.8 1058.0 896.0 1061.7 896.0 1061.7 900.0 1066.7 900.8 1071.7 900.8 1071.7 905.4 1076.7 905.4 1076.7 910.0 1081.7 910.0 1081.7 912.5 1084.5 912.5 1084.5 916.4 1087.2 916.4 1087.2 920.3 1090.0 920.3 1090.0 924.2 1116.7 924.7 1123.3 924.7 1123.3 927.5 1126.7 927.5 1126.7 930.0 1133.3 930.3 1136.7 930.3 1136.7 934.3 1140.0 934.3 1140.0 938.3 1142.8 938.3 1142.8 942.2 1145.5 942.2 1145.5 946.1 1148.3 946.1 1148.3 950.0 1155.0 950.8 1156.7 950.8 1156.7 953.9 1158.3 953.9 1158.3 957.0 1161.7 957.0 1161.7 960.1 1165.0 960.1 1165.0 963.3 1173.3 963.3 1173.3 964.2 1178.3 964.2 1178.3 970.0 1186.7 970.8 1191.7 970.8 1191.7 973.3 1269.3 973.3 1271.0 973.3 1271.0 977.8 1281.5 977.8 1282.3 982.5 1291.9 982.5 1292.7 988.5 1356.9 988.5 1357.7 994.6 1453.0 994.6" fill="none" stroke="#006400" stroke-width="2" stroke-linejoin="miter"/>
<path d="M925.0 644.4h8M929.0 640.4v9.5M927.5 644.4h8M931.5 640.4v9.5M930.0 644.4h8M934.0 640.4v9.5M932.5 644.4h8M936.5 640.4v9.5M935.0 644.4h8M939.0 640.4v9.5M941.3 644.4h8M945.3 640.4v9.5M950.7 706.7h8M954.7 702.7v9.5M952.7 718.0h8M956.7 714.0v9.5M970.7 766.7h8M974.7 762.7v9.5M971.3 773.3h8M975.3 769.3v9.5M1012.7 843.0h8M1016.7 839.0v9.5M1018.0 847.0h8M1022.0 843.0v9.5M1024.3 863.3h8M1028.3 859.3v9.5M1093.0 924.5h8M1097.0 920.5v9.5M1100.5 924.5h8M1104.5 920.5v9.5M1227.5 973.3h8M1231.5 969.3v9.5M1236.7 973.3h8M1240.7 969.3v9.5M1246.3 973.3h8M1250.3 969.3v9.5M1255.5 973.3h8M1259.5 969.3v9.5M1261.0 973.3h8M1265.0 969.3v9.5M1270.5 977.8h8M1274.5 973.8v9.5M1314.7 988.5h8M1318.7 984.5v9.5M1377.1 994.6h8M1381.1 990.6v9.5M1417.0 994.6h8M1421.0 990.6v9.5M1419.6 994.6h8M1423.6 990.6v9.5M1428.3 994.6h8M1432.3 990.6v9.5M1448.2 994.6h8M1452.2 990.6v9.5" fill="none" stroke="#006400" stroke-width="1.9"/>
<rect x="898.6" y="624.8" width="555.7" height="437.0" fill="none" stroke="#b3b3b3" stroke-width="1.3"/>
<g stroke="#333" stroke-width="1.3">
<line x1="893.8" y1="1042.8" x2="898.6" y2="1042.8"/>
<line x1="923.4" y1="1061.8" x2="923.4" y2="1066.4"/>
<line x1="893.8" y1="943.4" x2="898.6" y2="943.4"/>
<line x1="1049.8" y1="1061.8" x2="1049.8" y2="1066.4"/>
<line x1="893.8" y1="844.0" x2="898.6" y2="844.0"/>
<line x1="1176.2" y1="1061.8" x2="1176.2" y2="1066.4"/>
<line x1="893.8" y1="744.5" x2="898.6" y2="744.5"/>
<line x1="1302.6" y1="1061.8" x2="1302.6" y2="1066.4"/>
<line x1="893.8" y1="645.1" x2="898.6" y2="645.1"/>
<line x1="1429.0" y1="1061.8" x2="1429.0" y2="1066.4"/>
</g>
<g font-size="19.8" fill="#4d4d4d">
<text x="888.3" y="1051.0" text-anchor="end">0.00</text>
<text x="888.3" y="951.6" text-anchor="end">0.25</text>
<text x="888.3" y="852.2" text-anchor="end">0.50</text>
<text x="888.3" y="752.7" text-anchor="end">0.75</text>
<text x="888.3" y="653.3" text-anchor="end">1.00</text>
<text x="923.4" y="1087.6" text-anchor="middle">0</text>
<text x="1049.8" y="1087.6" text-anchor="middle">250</text>
<text x="1176.2" y="1087.6" text-anchor="middle">500</text>
<text x="1302.6" y="1087.6" text-anchor="middle">750</text>
<text x="1429.0" y="1087.6" text-anchor="middle">1000</text>
</g>
<text x="1175.8" y="1110.7" font-size="17.5" text-anchor="middle" fill="#000">Time in Days</text>
<text transform="translate(843.5 843.7) rotate(-90)" font-size="19" text-anchor="middle" fill="#000" textLength="325.7" lengthAdjust="spacingAndGlyphs">Survival probability Overall Survivall</text>
<text x="934.5" y="970.5" font-size="18" fill="#000">p = 0.32</text>
<rect x="1059.2" y="677.8" width="45.2" height="49.0" fill="#ec7c31" stroke="#e4701f" stroke-width="0.9"/>
<rect x="1062.5" y="741.2" width="46.0" height="49.2" fill="#548235" stroke="#466f2b" stroke-width="0.9"/>
<text x="1114.5" y="711.2" font-size="34.5" textLength="319.5" lengthAdjust="spacingAndGlyphs" fill="#000">Median 121.5, N=34</text>
<text x="1123.5" y="774.1" font-size="34" textLength="289.0" lengthAdjust="spacingAndGlyphs" fill="#000">Median 180, N=34</text>
<text x="1019.3" y="591.0" font-size="18.5" fill="#000" textLength="51.5" lengthAdjust="spacingAndGlyphs">Strata</text>
<path d="M1084.8 583.4h16M1092.8 579.9v10" stroke="#ff8c00" stroke-width="2" fill="none"/>
<path d="M1213.5 583.4h16M1221.5 579.9v10" stroke="#006400" stroke-width="2" fill="none"/>
<text x="1113.0" y="591.0" font-size="16.3" fill="#333" textLength="87.5" lengthAdjust="spacingAndGlyphs">Group=ISA 2</text>
<text x="1242.4" y="591.0" font-size="16.3" fill="#333" textLength="89.5" lengthAdjust="spacingAndGlyphs">Group=REST</text>
<g stroke="#e8e8e8" stroke-width="1.2">
<line x1="965.4" y1="1210.2" x2="965.4" y2="1646.6"/>
<line x1="1028.6" y1="1210.2" x2="1028.6" y2="1646.6"/>
<line x1="1091.8" y1="1210.2" x2="1091.8" y2="1646.6"/>
<line x1="1155.0" y1="1210.2" x2="1155.0" y2="1646.6"/>
<line x1="1218.2" y1="1210.2" x2="1218.2" y2="1646.6"/>
<line x1="1281.4" y1="1210.2" x2="1281.4" y2="1646.6"/>
<line x1="1344.6" y1="1210.2" x2="1344.6" y2="1646.6"/>
<line x1="1407.8" y1="1210.2" x2="1407.8" y2="1646.6"/>
<line x1="1471.0" y1="1210.2" x2="1471.0" y2="1646.6"/>
<line x1="941.1" y1="1627.1" x2="1496.2" y2="1627.1"/>
<line x1="941.1" y1="1577.4" x2="1496.2" y2="1577.4"/>
<line x1="941.1" y1="1527.8" x2="1496.2" y2="1527.8"/>
<line x1="941.1" y1="1478.2" x2="1496.2" y2="1478.2"/>
<line x1="941.1" y1="1428.5" x2="1496.2" y2="1428.5"/>
<line x1="941.1" y1="1378.8" x2="1496.2" y2="1378.8"/>
<line x1="941.1" y1="1329.2" x2="1496.2" y2="1329.2"/>
<line x1="941.1" y1="1279.6" x2="1496.2" y2="1279.6"/>
<line x1="941.1" y1="1229.9" x2="1496.2" y2="1229.9"/>
</g>
<g stroke="#333" stroke-width="1.1" stroke-dasharray="4 3.2" fill="none">
<path d="M965.4 1428.5H1093.0"/>
<path d="M1045.3 1428.5V1627.1"/>
<path d="M1093.0 1428.5V1627.1"/>
</g>
<path d="M966.0 1229.4 988.0 1229.6 989.0 1229.6 989.0 1234.3 990.0 1234.3 990.0 1239.0 992.7 1239.0 992.7 1241.7 993.3 1260.3 994.0 1260.3 994.0 1267.0 994.7 1267.0 994.7 1273.7 1007.3 1273.7 1007.6 1273.7 1007.6 1279.0 1008.0 1279.0 1008.0 1284.3 1008.4 1284.3 1008.4 1289.7 1008.7 1289.7 1008.7 1295.0 1018.0 1295.7 1018.3 1307.7 1045.3 1307.7 1046.0 1320.3 1048.7 1320.3 1048.7 1332.3 1060.7 1332.3 1061.3 1344.3 1066.7 1344.3 1067.3 1356.3 1072.0 1356.3 1072.7 1368.3 1073.7 1368.3 1073.7 1375.0 1074.7 1375.0 1074.7 1381.7 1075.3 1393.0 1078.7 1393.7 1078.7 1417.5 1092.5 1418.0 1093.0 1430.3 1115.8 1430.3 1116.2 1442.8 1125.0 1442.8 1125.8 1455.0 1127.5 1455.0 1127.5 1456.7 1127.8 1456.7 1127.8 1462.2 1128.1 1462.2 1128.1 1467.7 1128.4 1467.7 1128.4 1473.2 1128.7 1473.2 1128.7 1478.7 1152.5 1478.7 1153.0 1491.7 1167.5 1491.7 1168.0 1504.2 1176.7 1504.2 1177.0 1516.2 1188.3 1516.2 1188.7 1528.7 1207.0 1528.7 1207.5 1541.2 1324.0 1541.3 1324.3 1555.5 1334.4 1555.5 1334.9 1569.6 1398.9 1569.6 1399.2 1584.0 1495.2 1584.0" fill="none" stroke="#ff8c00" stroke-width="2" stroke-linejoin="miter"/>
<path d="M990.0 1273.7h8M994.0 1269.7v9.5M1013.0 1308.0h8M1017.0 1304.0v9.5M1312.8 1541.3h8M1316.8 1537.3v9.5M1461.6 1584.0h8M1465.6 1580.0v9.5" fill="none" stroke="#ff8c00" stroke-width="1.9"/>
<path d="M966.0 1229.4 990.0 1230.3 992.7 1230.3 992.7 1232.3 993.4 1232.3 993.4 1237.0 994.0 1237.0 994.0 1241.7 994.7 1253.7 996.0 1253.7 996.0 1259.0 996.7 1295.0 997.1 1295.0 997.1 1299.4 997.6 1299.4 997.6 1303.9 998.0 1303.9 998.0 1308.3 1000.7 1308.3 1000.7 1311.0 1001.6 1311.0 1001.6 1315.4 1002.4 1315.4 1002.4 1319.9 1003.3 1319.9 1003.3 1324.3 1004.7 1324.3 1004.7 1327.7 1007.3 1328.3 1007.8 1328.3 1007.8 1331.9 1008.2 1331.9 1008.2 1335.4 1008.7 1335.4 1008.7 1339.0 1012.0 1339.0 1012.0 1340.3 1014.7 1340.3 1014.7 1344.3 1015.0 1344.3 1015.0 1348.0 1015.4 1348.0 1015.4 1351.7 1015.7 1351.7 1015.7 1355.3 1016.0 1355.3 1016.0 1359.0 1016.3 1359.0 1016.3 1362.7 1016.6 1362.7 1016.6 1366.3 1017.0 1366.3 1017.0 1370.0 1017.3 1370.0 1017.3 1373.7 1017.6 1373.7 1017.6 1377.3 1018.0 1377.3 1018.0 1381.0 1018.4 1381.0 1018.4 1384.7 1018.7 1384.7 1018.7 1388.3 1020.7 1388.3 1020.7 1392.3 1022.7 1392.3 1022.7 1396.3 1026.0 1396.3 1026.0 1399.7 1032.0 1399.7 1032.0 1401.7 1034.0 1401.7 1034.0 1407.0 1035.0 1407.0 1035.0 1411.7 1036.0 1411.7 1036.0 1416.3 1040.7 1416.3 1040.7 1417.7 1043.3 1417.7 1043.3 1423.0 1043.9 1423.0 1043.9 1427.0 1044.4 1427.0 1044.4 1431.0 1045.0 1431.0 1045.0 1435.0 1045.8 1445.0 1047.7 1445.0 1047.7 1448.5 1049.5 1448.5 1049.5 1452.1 1051.4 1452.1 1051.4 1455.7 1053.3 1455.7 1053.3 1459.2 1058.3 1459.2 1058.3 1463.3 1065.0 1464.0 1068.3 1464.0 1068.3 1467.5 1069.7 1467.5 1069.7 1471.9 1071.1 1471.9 1071.1 1476.4 1072.5 1476.4 1072.5 1480.8 1077.5 1480.8 1077.5 1481.7 1081.2 1481.7 1081.2 1485.8 1085.0 1485.8 1085.0 1490.0 1091.7 1490.0 1091.7 1491.7 1098.3 1491.7 1098.3 1495.0 1100.8 1495.0 1100.8 1499.6 1103.3 1499.6 1103.3 1504.2 1108.3 1505.0 1110.0 1505.0 1110.0 1508.3 1111.7 1508.3 1111.7 1511.7 1116.7 1511.7 1116.7 1517.5 1121.7 1517.5 1121.7 1520.0 1130.8 1520.0 1133.3 1520.0 1133.3 1523.8 1135.8 1523.8 1135.8 1527.5 1159.2 1527.5 1160.0 1530.3 1180.8 1530.3 1182.9 1530.3 1182.9 1535.2 1185.0 1535.2 1185.0 1540.0 1190.0 1540.0 1190.0 1542.5 1196.7 1542.5 1196.7 1544.2 1198.3 1544.2 1198.3 1547.5 1200.0 1547.5 1200.0 1550.8 1205.0 1550.8 1205.0 1554.2 1215.0 1554.7 1217.5 1554.7 1217.5 1557.8 1220.0 1557.8 1220.0 1560.8 1229.2 1561.3 1232.5 1561.3 1232.5 1565.0 1271.2 1564.8 1272.0 1569.1 1312.0 1569.1 1313.6 1569.1 1313.6 1573.9 1436.0 1573.9 1436.8 1581.1 1495.2 1581.1" fill="none" stroke="#006400" stroke-width="2" stroke-linejoin="miter"/>
<path d="M967.3 1229.4h8M971.3 1225.4v9.5M970.0 1229.4h8M974.0 1225.4v9.5M972.5 1229.4h8M976.5 1225.4v9.5M975.0 1229.4h8M979.0 1225.4v9.5M978.0 1229.4h8M982.0 1225.4v9.5M984.7 1230.0h8M988.7 1226.0v9.5M994.0 1309.0h8M998.0 1305.0v9.5M1012.7 1373.0h8M1016.7 1369.0v9.5M1014.0 1385.0h8M1018.0 1381.0v9.5M1015.3 1390.0h8M1019.3 1386.0v9.5M1056.8 1463.3h8M1060.8 1459.3v9.5M1061.0 1466.0h8M1065.0 1462.0v9.5M1066.8 1480.8h8M1070.8 1476.8v9.5M1135.2 1527.5h8M1139.2 1523.5v9.5M1142.7 1527.5h8M1146.7 1523.5v9.5M1233.5 1565.0h8M1237.5 1561.0v9.5M1269.6 1569.1h8M1273.6 1565.1v9.5M1279.2 1569.1h8M1283.2 1565.1v9.5M1288.8 1569.1h8M1292.8 1565.1v9.5M1297.6 1569.1h8M1301.6 1565.1v9.5M1303.2 1569.1h8M1307.2 1565.1v9.5M1312.0 1573.9h8M1316.0 1569.9v9.5M1356.5 1573.9h8M1360.5 1569.9v9.5M1419.2 1573.9h8M1423.2 1569.9v9.5M1459.2 1581.1h8M1463.2 1577.1v9.5M1470.4 1581.1h8M1474.4 1577.1v9.5M1490.4 1581.1h8M1494.4 1577.1v9.5" fill="none" stroke="#006400" stroke-width="1.9"/>
<rect x="941.1" y="1210.2" width="555.1" height="436.4" fill="none" stroke="#b3b3b3" stroke-width="1.3"/>
<g stroke="#333" stroke-width="1.3">
<line x1="936.3" y1="1627.1" x2="941.1" y2="1627.1"/>
<line x1="965.4" y1="1646.6" x2="965.4" y2="1651.2"/>
<line x1="936.3" y1="1527.8" x2="941.1" y2="1527.8"/>
<line x1="1091.8" y1="1646.6" x2="1091.8" y2="1651.2"/>
<line x1="936.3" y1="1428.5" x2="941.1" y2="1428.5"/>
<line x1="1218.2" y1="1646.6" x2="1218.2" y2="1651.2"/>
<line x1="936.3" y1="1329.2" x2="941.1" y2="1329.2"/>
<line x1="1344.6" y1="1646.6" x2="1344.6" y2="1651.2"/>
<line x1="936.3" y1="1229.9" x2="941.1" y2="1229.9"/>
<line x1="1471.0" y1="1646.6" x2="1471.0" y2="1651.2"/>
</g>
<g font-size="19.8" fill="#4d4d4d">
<text x="930.8" y="1635.3" text-anchor="end">0.00</text>
<text x="930.8" y="1536.0" text-anchor="end">0.25</text>
<text x="930.8" y="1436.7" text-anchor="end">0.50</text>
<text x="930.8" y="1337.4" text-anchor="end">0.75</text>
<text x="930.8" y="1238.1" text-anchor="end">1.00</text>
<text x="965.4" y="1672.4" text-anchor="middle">0</text>
<text x="1091.8" y="1672.4" text-anchor="middle">250</text>
<text x="1218.2" y="1672.4" text-anchor="middle">500</text>
<text x="1344.6" y="1672.4" text-anchor="middle">750</text>
<text x="1471.0" y="1672.4" text-anchor="middle">1000</text>
</g>
<text x="1217.5" y="1696.2" font-size="17.5" text-anchor="middle" fill="#000">Time in Days</text>
<text transform="translate(885.5 1429.0) rotate(-90)" font-size="19" text-anchor="middle" fill="#000" textLength="325.7" lengthAdjust="spacingAndGlyphs">Survival probability Overall Survivall</text>
<text x="975.6" y="1555.6" font-size="18" fill="#000">p = 0.16</text>
<rect x="1080.4" y="1254.8" width="45.2" height="49.8" fill="#ec7c31" stroke="#e4701f" stroke-width="0.9"/>
<rect x="1086.5" y="1324.2" width="45.0" height="50.3" fill="#548235" stroke="#466f2b" stroke-width="0.9"/>
<text x="1143.5" y="1290.9" font-size="34.5" textLength="290.0" lengthAdjust="spacingAndGlyphs" fill="#000">Median 252, N=38</text>
<text x="1137.7" y="1355.7" font-size="34" textLength="310.5" lengthAdjust="spacingAndGlyphs" fill="#000">Median 156, N=148</text>
<text x="1061.5" y="1175.7" font-size="18.5" fill="#000" textLength="51.5" lengthAdjust="spacingAndGlyphs">Strata</text>
<path d="M1127.0 1168.1h16M1135.0 1164.6v10" stroke="#ff8c00" stroke-width="2" fill="none"/>
<path d="M1256.2 1168.1h16M1264.2 1164.6v10" stroke="#006400" stroke-width="2" fill="none"/>
<text x="1155.2" y="1175.7" font-size="16.3" fill="#333" textLength="87.5" lengthAdjust="spacingAndGlyphs">Group=ISA 4</text>
<text x="1284.6" y="1175.7" font-size="16.3" fill="#333" textLength="89.5" lengthAdjust="spacingAndGlyphs">Group=REST</text>
<g stroke="#e8e8e8" stroke-width="1.2">
<line x1="965.4" y1="1723.0" x2="965.4" y2="2159.6"/>
<line x1="1028.6" y1="1723.0" x2="1028.6" y2="2159.6"/>
<line x1="1091.8" y1="1723.0" x2="1091.8" y2="2159.6"/>
<line x1="1155.0" y1="1723.0" x2="1155.0" y2="2159.6"/>
<line x1="1218.2" y1="1723.0" x2="1218.2" y2="2159.6"/>
<line x1="1281.4" y1="1723.0" x2="1281.4" y2="2159.6"/>
<line x1="1344.6" y1="1723.0" x2="1344.6" y2="2159.6"/>
<line x1="1407.8" y1="1723.0" x2="1407.8" y2="2159.6"/>
<line x1="1471.0" y1="1723.0" x2="1471.0" y2="2159.6"/>
<line x1="941.1" y1="2141.0" x2="1496.2" y2="2141.0"/>
<line x1="941.1" y1="2091.3" x2="1496.2" y2="2091.3"/>
<line x1="941.1" y1="2041.7" x2="1496.2" y2="2041.7"/>
<line x1="941.1" y1="1992.0" x2="1496.2" y2="1992.0"/>
<line x1="941.1" y1="1942.4" x2="1496.2" y2="1942.4"/>
<line x1="941.1" y1="1892.8" x2="1496.2" y2="1892.8"/>
<line x1="941.1" y1="1843.1" x2="1496.2" y2="1843.1"/>
<line x1="941.1" y1="1793.4" x2="1496.2" y2="1793.4"/>
<line x1="941.1" y1="1743.8" x2="1496.2" y2="1743.8"/>
</g>
<g stroke="#333" stroke-width="1.1" stroke-dasharray="4 3.2" fill="none">
<path d="M965.4 1942.4H1070.2"/>
<path d="M1018.2 1942.4V2141.0"/>
<path d="M1070.2 1942.4V2141.0"/>
</g>
<path d="M966.0 1743.1 990.0 1743.3 992.0 1743.3 992.0 1747.3 992.7 1763.3 994.0 1763.3 994.0 1764.7 994.7 1794.0 995.3 1826.0 995.6 1826.0 995.6 1831.3 996.0 1831.3 996.0 1836.7 996.4 1836.7 996.4 1842.0 996.7 1842.0 996.7 1847.3 997.3 1864.0 1001.3 1864.7 1002.0 1878.0 1002.4 1878.0 1002.4 1883.8 1002.9 1883.8 1002.9 1889.5 1003.3 1889.5 1003.3 1895.3 1015.3 1895.3 1016.0 1895.3 1016.0 1900.7 1016.7 1900.7 1016.7 1906.0 1017.4 1906.0 1017.4 1912.7 1018.0 1912.7 1018.0 1919.3 1018.3 1955.0 1020.8 1955.0 1020.8 1956.7 1021.6 1956.7 1021.6 1963.8 1022.5 1963.8 1022.5 1970.8 1029.2 1970.8 1029.2 1971.7 1030.0 1979.2 1035.0 1979.2 1035.8 1987.5 1045.0 1988.3 1045.8 1988.3 1045.8 1995.4 1046.7 1995.4 1046.7 2002.5 1050.0 2003.0 1050.8 2010.8 1070.0 2011.3 1071.7 2011.3 1071.7 2017.5 1094.2 2017.8 1095.0 2026.7 1100.8 2027.0 1101.7 2027.0 1101.7 2034.5 1115.0 2034.5 1115.5 2043.0 1128.3 2043.0 1129.2 2043.0 1129.2 2050.0 1130.5 2050.0 1130.5 2054.6 1131.7 2054.6 1131.7 2059.2 1180.8 2059.2 1181.7 2059.2 1181.7 2066.7 1184.0 2067.5 1185.0 2067.5 1185.0 2075.3 1204.2 2075.3 1204.7 2083.0 1230.0 2083.0 1230.8 2091.3 1398.6 2091.5 1399.1 2140.0" fill="none" stroke="#ff8c00" stroke-width="2" stroke-linejoin="miter"/>
<path d="M986.0 1743.3h8M990.0 1739.3v9.5M1066.8 2011.5h8M1070.8 2007.5v9.5M1269.8 2091.5h8M1273.8 2087.5v9.5M1279.3 2091.5h8M1283.3 2087.5v9.5M1302.7 2091.5h8M1306.7 2087.5v9.5M1312.3 2091.5h8M1316.3 2087.5v9.5M1356.5 2091.5h8M1360.5 2087.5v9.5" fill="none" stroke="#ff8c00" stroke-width="1.9"/>
<path d="M966.0 1743.1 990.0 1743.1 990.0 1744.0 992.7 1744.0 992.7 1745.7 993.3 1756.7 994.4 1756.7 994.4 1760.7 995.6 1760.7 995.6 1764.7 996.7 1764.7 996.7 1768.7 997.3 1786.0 998.3 1786.0 998.3 1789.3 999.3 1789.3 999.3 1792.7 1003.3 1792.7 1003.3 1795.3 1004.0 1795.3 1004.0 1798.3 1004.7 1798.3 1004.7 1801.3 1008.0 1802.0 1008.3 1802.0 1008.3 1805.7 1008.5 1805.7 1008.5 1809.5 1008.8 1809.5 1008.8 1813.2 1009.0 1813.2 1009.0 1817.0 1009.3 1817.0 1009.3 1820.7 1012.7 1820.7 1012.7 1823.3 1014.7 1823.3 1014.7 1827.3 1015.1 1827.3 1015.1 1831.3 1015.5 1831.3 1015.5 1835.3 1015.9 1835.3 1015.9 1839.3 1016.3 1839.3 1016.3 1843.3 1016.7 1843.3 1016.7 1847.3 1019.3 1847.3 1019.3 1852.7 1022.0 1852.7 1022.0 1855.7 1024.7 1855.7 1024.7 1858.7 1032.7 1858.7 1033.3 1858.7 1033.3 1862.2 1034.0 1862.2 1034.0 1865.7 1034.7 1865.7 1034.7 1869.2 1035.3 1869.2 1035.3 1872.7 1040.7 1872.7 1040.7 1874.0 1042.3 1874.0 1042.3 1878.0 1044.0 1878.0 1044.0 1882.0 1044.5 1882.0 1044.5 1885.7 1045.0 1885.7 1045.0 1889.3 1045.5 1889.3 1045.5 1893.0 1046.0 1893.0 1046.0 1896.7 1046.7 1896.7 1046.7 1900.3 1047.3 1900.3 1047.3 1904.0 1048.0 1904.0 1048.0 1907.7 1048.7 1907.7 1048.7 1911.3 1052.0 1911.3 1052.0 1914.0 1054.0 1914.0 1054.0 1919.3 1059.3 1919.3 1059.3 1922.7 1064.7 1922.7 1064.7 1926.0 1066.0 1926.0 1066.0 1929.3 1067.3 1929.3 1067.3 1932.7 1068.7 1932.7 1068.7 1937.2 1070.0 1937.2 1070.0 1941.7 1071.1 1941.7 1071.1 1946.1 1072.2 1946.1 1072.2 1950.6 1073.3 1950.6 1073.3 1955.0 1078.3 1955.0 1078.3 1960.8 1078.8 1960.8 1078.8 1965.8 1079.2 1965.8 1079.2 1970.8 1086.7 1970.8 1086.7 1976.7 1093.3 1976.7 1093.3 1980.0 1099.2 1980.0 1099.2 1982.5 1100.5 1982.5 1100.5 1985.8 1101.7 1985.8 1101.7 1989.2 1109.2 1990.0 1110.5 1990.0 1110.5 1993.8 1111.7 1993.8 1111.7 1997.5 1116.7 1997.5 1116.7 2002.5 1120.0 2002.5 1120.0 2007.5 1124.2 2008.3 1126.7 2008.3 1126.7 2011.7 1129.2 2011.7 1129.2 2015.0 1135.0 2015.0 1135.0 2019.5 1150.8 2020.0 1156.7 2020.0 1156.7 2024.2 1166.7 2024.2 1166.7 2027.5 1170.0 2027.5 1170.0 2030.8 1175.8 2030.8 1180.0 2030.8 1180.0 2035.0 1188.3 2035.0 1188.3 2040.0 1191.7 2040.0 1191.7 2045.8 1197.5 2045.8 1198.8 2045.8 1198.8 2050.0 1200.0 2050.0 1200.0 2054.2 1206.7 2055.0 1210.0 2055.0 1210.0 2058.3 1215.8 2058.7 1218.3 2058.7 1218.3 2062.2 1220.8 2062.2 1220.8 2065.8 1271.2 2066.0 1272.1 2069.5 1311.9 2069.5 1312.8 2074.7 1324.1 2074.7 1324.9 2080.2 1334.5 2080.2 1335.3 2085.1 1435.9 2085.1 1436.7 2090.6 1495.7 2090.6" fill="none" stroke="#006400" stroke-width="2" stroke-linejoin="miter"/>
<path d="M967.3 1743.1h8M971.3 1739.1v9.5M970.0 1743.1h8M974.0 1739.1v9.5M972.5 1743.1h8M976.5 1739.1v9.5M975.0 1743.1h8M979.0 1739.1v9.5M978.0 1743.1h8M982.0 1739.1v9.5M984.7 1743.5h8M988.7 1739.5v9.5M992.3 1787.0h8M996.3 1783.0v9.5M995.3 1793.0h8M999.3 1789.0v9.5M1013.3 1850.7h8M1017.3 1846.7v9.5M1015.3 1853.0h8M1019.3 1849.0v9.5M1057.3 1924.7h8M1061.3 1920.7v9.5M1062.0 1932.7h8M1066.0 1928.7v9.5M1136.0 2020.0h8M1140.0 2016.0v9.5M1142.7 2020.0h8M1146.7 2016.0v9.5M1234.3 2066.0h8M1238.3 2062.0v9.5M1288.0 2069.5h8M1292.0 2065.5v9.5M1297.5 2069.5h8M1301.5 2065.5v9.5M1313.1 2074.7h8M1317.1 2070.7v9.5M1419.7 2085.1h8M1423.7 2081.1v9.5M1459.6 2090.6h8M1463.6 2086.6v9.5M1461.3 2090.6h8M1465.3 2086.6v9.5M1470.9 2090.6h8M1474.9 2086.6v9.5M1490.8 2090.6h8M1494.8 2086.6v9.5" fill="none" stroke="#006400" stroke-width="1.9"/>
<rect x="941.1" y="1723.0" width="555.1" height="436.6" fill="none" stroke="#b3b3b3" stroke-width="1.3"/>
<g stroke="#333" stroke-width="1.3">
<line x1="936.3" y1="2141.0" x2="941.1" y2="2141.0"/>
<line x1="965.4" y1="2159.6" x2="965.4" y2="2164.2"/>
<line x1="936.3" y1="2041.7" x2="941.1" y2="2041.7"/>
<line x1="1091.8" y1="2159.6" x2="1091.8" y2="2164.2"/>
<line x1="936.3" y1="1942.4" x2="941.1" y2="1942.4"/>
<line x1="1218.2" y1="2159.6" x2="1218.2" y2="2164.2"/>
<line x1="936.3" y1="1843.1" x2="941.1" y2="1843.1"/>
<line x1="1344.6" y1="2159.6" x2="1344.6" y2="2164.2"/>
<line x1="936.3" y1="1743.8" x2="941.1" y2="1743.8"/>
<line x1="1471.0" y1="2159.6" x2="1471.0" y2="2164.2"/>
</g>
<g font-size="19.8" fill="#4d4d4d">
<text x="930.8" y="2149.2" text-anchor="end">0.00</text>
<text x="930.8" y="2049.9" text-anchor="end">0.25</text>
<text x="930.8" y="1950.6" text-anchor="end">0.50</text>
<text x="930.8" y="1851.3" text-anchor="end">0.75</text>
<text x="930.8" y="1752.0" text-anchor="end">1.00</text>
<text x="965.4" y="2185.4" text-anchor="middle">0</text>
<text x="1091.8" y="2185.4" text-anchor="middle">250</text>
<text x="1218.2" y="2185.4" text-anchor="middle">500</text>
<text x="1344.6" y="2185.4" text-anchor="middle">750</text>
<text x="1471.0" y="2185.4" text-anchor="middle">1000</text>
</g>
<text x="1217.5" y="2209.0" font-size="17.5" text-anchor="middle" fill="#000">Time in Days</text>
<text transform="translate(885.5 1941.0) rotate(-90)" font-size="19" text-anchor="middle" fill="#000" textLength="325.7" lengthAdjust="spacingAndGlyphs">Survival probability Overall Survivall</text>
<text x="975.6" y="2068.7" font-size="18" fill="#000">p = 0.026</text>
<rect x="1062.0" y="1755.5" width="44.9" height="49.0" fill="#ec7c31" stroke="#e4701f" stroke-width="0.9"/>
<rect x="1062.0" y="1821.0" width="44.9" height="48.4" fill="#548235" stroke="#466f2b" stroke-width="0.9"/>
<text x="1114.0" y="1795.7" font-size="34.5" textLength="319.5" lengthAdjust="spacingAndGlyphs" fill="#000">Median 103.5, N=54</text>
<text x="1114.0" y="1854.9" font-size="33.5" textLength="307.5" lengthAdjust="spacingAndGlyphs" fill="#000">Median 205, N=126</text>
<g font-size="1000" font-weight="bold" fill="#000">
<text transform="matrix(0.05357 0 0 0.06122 13.76 611.09)">b</text>
<text transform="matrix(0.04570 0 0 0.05839 13.92 1165.42)">c</text>
<text transform="matrix(0.05556 0 0 0.06163 -0.98 1719.68)">d</text>
<text transform="matrix(0.05590 0 0 0.05839 753.52 32.72)">e</text>
<text transform="matrix(0.06132 0 0 0.06069 746.96 599.00)">f</text>
<text transform="matrix(0.05491 0 0 0.06166 757.86 1725.70)">h</text>
</g>
<path fill="#000" fill-rule="evenodd" d="M54.7 33.3L54.7 10C54.7 4 50.5 1.3 43.5 1.3C38.5 1.3 34.5 2.5 31 4.5L32.5 9.5C35.5 7.8 38.8 7 42 7C45.5 7 47.3 8.3 47.3 11L47.3 13.8C45 13.5 42 13.5 39.5 13.8C33 14.5 30 17.5 30 23.5C30 29.5 33.5 33.5 38.5 33.5C42 33.5 45 32 47.5 30L48 33.3Z M47.3 19C45 18.6 42.5 18.6 41 18.8C38.5 19.2 37.2 21 37.2 23.5C37.2 26.5 38.8 28.3 41.3 28.3C43.5 28.3 45.8 27 47.3 25.3Z"/>
<g fill="none" stroke="#000">
<ellipse cx="767.2" cy="1133.6" rx="8.4" ry="7.6" stroke-width="6"/>
<ellipse cx="768" cy="1157" rx="10.8" ry="6.2" stroke-width="5.8"/>
<path d="M760.5 1139.5C756.5 1142.5 756.5 1147 760 1149.5" stroke-width="5.5"/>
</g>
<path d="M768 1123.3H780.5Q782 1123.3 782 1125V1128Q782 1129.7 780.5 1129.7H768Z" fill="#000"/>
</svg>
</body></html>
